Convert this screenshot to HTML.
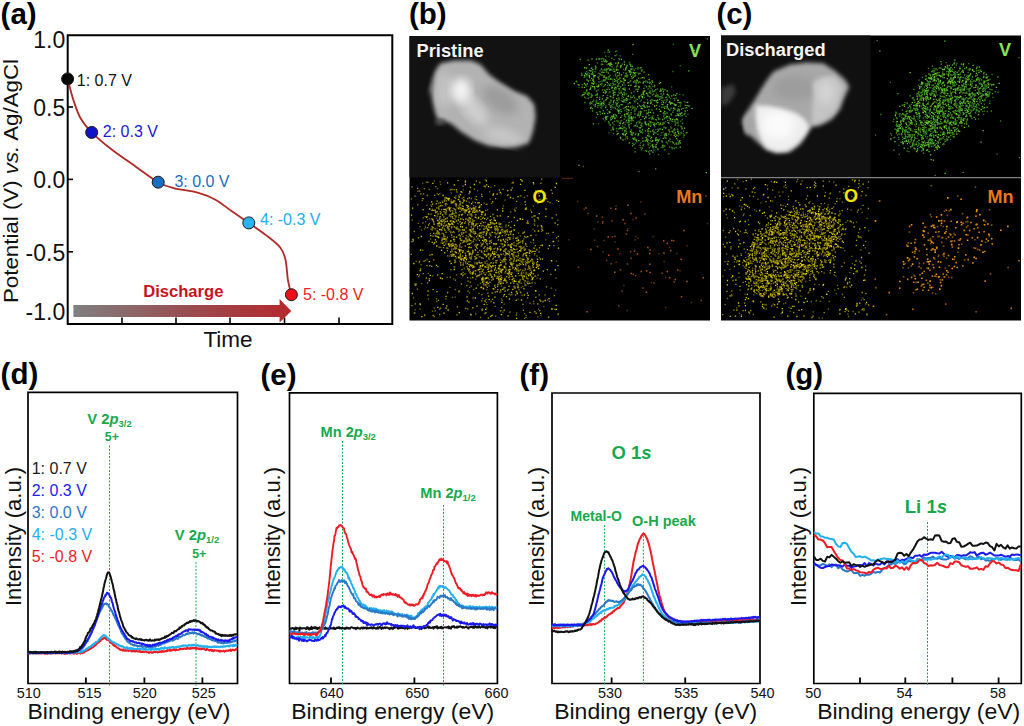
<!DOCTYPE html>
<html><head><meta charset="utf-8"><title>Figure</title>
<style>
html,body{margin:0;padding:0;background:#fff;}
body{width:1024px;height:726px;overflow:hidden;}
svg{display:block;font-family:"Liberation Sans",Arial,sans-serif;}
</style></head>
<body>
<svg width="1024" height="726" viewBox="0 0 1024 726">
<rect width="1024" height="726" fill="#fff"/>
<text x="0.6" y="24.2" font-size="29.5" fill="#000" font-weight="bold" text-anchor="start" >(a)</text>
<text x="409" y="24.1" font-size="29.5" fill="#000" font-weight="bold" text-anchor="start" >(b)</text>
<text x="716.4" y="24.1" font-size="29.5" fill="#000" font-weight="bold" text-anchor="start" >(c)</text>
<text x="0.6" y="384.2" font-size="29.5" fill="#000" font-weight="bold" text-anchor="start" >(d)</text>
<text x="260.5" y="385.4" font-size="29.5" fill="#000" font-weight="bold" text-anchor="start" >(e)</text>
<text x="519.5" y="385" font-size="29.5" fill="#000" font-weight="bold" text-anchor="start" >(f)</text>
<text x="785.4" y="384.2" font-size="29.5" fill="#000" font-weight="bold" text-anchor="start" >(g)</text>
<g stroke="#000" fill="none">
<path d="M67.7 34.5 V324 H392.3 V35.3 H66.7" stroke-width="2"/>
<path d="M68 107 h5" stroke-width="1.6"/>
<path d="M68 179.4 h5" stroke-width="1.6"/>
<path d="M68 251.8 h5" stroke-width="1.6"/>
<path d="M122 323.5 v-6" stroke-width="1.6"/>
<path d="M176 323.5 v-6" stroke-width="1.6"/>
<path d="M230 323.5 v-6" stroke-width="1.6"/>
<path d="M284.5 323.5 v-6" stroke-width="1.6"/>
<path d="M339 323.5 v-6" stroke-width="1.6"/>
</g>
<text x="65.2" y="48.1" font-size="23" fill="#111" font-weight="normal" text-anchor="end" >1.0</text>
<text x="65.2" y="115.5" font-size="23" fill="#111" font-weight="normal" text-anchor="end" >0.5</text>
<text x="65.2" y="188" font-size="23" fill="#111" font-weight="normal" text-anchor="end" >0.0</text>
<text x="65.2" y="260.8" font-size="23" fill="#111" font-weight="normal" text-anchor="end" >-0.5</text>
<text x="65.2" y="320.1" font-size="23" fill="#111" font-weight="normal" text-anchor="end" >-1.0</text>
<text transform="translate(18 181) rotate(-90)" font-size="21" fill="#111" text-anchor="middle" textLength="244" lengthAdjust="spacingAndGlyphs">Potential (V) <tspan font-style="italic">vs.</tspan> Ag/AgCl</text>
<text x="228" y="346.8" font-size="22.5" fill="#111" font-weight="normal" text-anchor="middle" >Time</text>
<defs><linearGradient id="ag" x1="73" x2="291" y1="0" y2="0" gradientUnits="userSpaceOnUse"><stop offset="0" stop-color="#808080"/><stop offset="0.55" stop-color="#9a4a4e"/><stop offset="1" stop-color="#b5282c"/></linearGradient></defs>
<path d="M73.4 305 H279.6 V299 L291.3 311 L279.6 322.6 V317 H73.4 Z" fill="url(#ag)"/>
<text x="143.2" y="296.7" font-size="16.6" fill="#c8121e" font-weight="bold" text-anchor="start" >Discharge</text>
<path d="M67.6 78.9 C68.6 82.6 71.6 94.7 73.8 101.3 C76 107.9 77.7 113.3 80.7 118.5 C83.7 123.7 86.5 127.1 91.7 132.3 C96.9 137.5 104.3 143.8 111.7 149.5 C119.1 155.2 128.1 161.2 135.8 166.7 C143.5 172.1 151.8 178.6 158.1 182.2 C164.4 185.8 167 186.4 173.6 188.1 C180.2 189.8 190.8 190.7 197.7 192.6 C204.6 194.5 209.2 196.3 215 199.5 C220.8 202.7 226.6 207.6 232.2 211.5 C237.8 215.4 243 218.9 248.7 222.9 C254.4 226.9 261.3 231.5 266.6 235.6 C271.9 239.7 277.2 243.7 280.4 247.7 C283.5 251.7 284.2 254.2 285.5 259.7 C286.8 265.1 287 274.5 288 280.4 C289 286.2 290.8 292.4 291.4 294.8" fill="none" stroke="#b02a28" stroke-width="1.8"/>
<circle cx="67.6" cy="78.9" r="6" fill="#050505" stroke="#1a1a1a" stroke-width="1"/>
<circle cx="91.7" cy="132.4" r="6" fill="#1212c8" stroke="#1a1a1a" stroke-width="1"/>
<circle cx="158.2" cy="182.2" r="6" fill="#1a6ec0" stroke="#1a1a1a" stroke-width="1"/>
<circle cx="248.8" cy="222.9" r="6" fill="#2ab4ee" stroke="#1a1a1a" stroke-width="1"/>
<circle cx="291.4" cy="294.7" r="6" fill="#ee1018" stroke="#1a1a1a" stroke-width="1"/>
<text x="76.8" y="86.2" font-size="16" fill="#111" font-weight="normal" text-anchor="start" >1: 0.7 V</text>
<text x="102.8" y="137.2" font-size="16" fill="#1a1ad0" font-weight="normal" text-anchor="start" >2: 0.3 V</text>
<text x="174.4" y="187.4" font-size="16" fill="#1a6ec0" font-weight="normal" text-anchor="start" >3: 0.0 V</text>
<text x="260" y="224.8" font-size="16" fill="#22aef0" font-weight="normal" text-anchor="start" >4: -0.3 V</text>
<text x="303" y="300.3" font-size="16" fill="#ee1c24" font-weight="normal" text-anchor="start" >5: -0.8 V</text>
<rect x="409.5" y="36" width="300.5" height="284.5" fill="#000"/>
<rect x="409.5" y="36" width="150.5" height="141.5" fill="#121212"/>
<defs><filter id="bl" x="-20%" y="-20%" width="140%" height="140%"><feGaussianBlur stdDeviation="2.2"/></filter><filter id="bl2" x="-20%" y="-20%" width="140%" height="140%"><feGaussianBlur stdDeviation="4"/></filter><clipPath id="cpb"><rect x="409.5" y="36" width="150.5" height="141.5"/></clipPath><clipPath id="cpc"><rect x="721" y="35.5" width="149.5" height="142"/></clipPath></defs>
<g clip-path="url(#cpb)">
<path d="M440.7 63.3 L454.4 60.5 L471 60.5 L480.6 64.6 L488.9 74.3 L499.9 82.5 L513.7 90.8 L527.4 96.3 L534.3 104.6 L535.7 117 L532.9 132.1 L528.8 143.2 L516.4 145.9 L502.6 147.3 L488.9 145.9 L475.1 140.4 L461.3 132.1 L451.7 123.9 L444.8 121.1 L437.9 119.7 L435.2 112.9 L432.4 100.5 L431 89.4 L433.8 75.7 L436.5 68.8Z" fill="#b2b2b2" filter="url(#bl)"/>
<ellipse cx="500" cy="100" rx="20" ry="11" fill="#9c9c9c" filter="url(#bl2)" transform="rotate(35 500 100)"/>
<ellipse cx="444" cy="90" rx="7" ry="18" fill="#c4c4c4" filter="url(#bl2)"/>
<ellipse cx="472" cy="108" rx="9" ry="22" fill="#cfcfcf" filter="url(#bl2)" transform="rotate(-40 472 108)"/>
<ellipse cx="461" cy="90" rx="10" ry="12" fill="#f2f2f2" filter="url(#bl2)"/>
<ellipse cx="503" cy="136" rx="20" ry="8" fill="#c6c6c6" filter="url(#bl2)" transform="rotate(15 503 136)"/>
<path d="M436 70 L430 90 L428 96 L433 88 Z" fill="#8a8a8a" filter="url(#bl)"/>
<ellipse cx="440" cy="122" rx="5" ry="3" fill="#555" filter="url(#bl)"/>
</g>
<text x="416.5" y="57.4" font-size="18.3" fill="#f4f4f4" font-weight="bold" text-anchor="start" >Pristine</text>
<path d="M620.8 111.6h1.3M664 146h1.3M591.2 67.8h1.3M612.6 95.9h1.3M618.2 75.5h1.3M598.1 85h1.3M637 103.5h1.3M630.6 129.9h1.3M624 116h1.3M631.1 69.3h1.3M621.7 88.9h1.3M634.6 117.5h1.3M630 66.4h1.3M599.6 74.1h1.3M649.1 136.4h1.3M620.9 92.8h1.3M641.3 69.8h1.3M656.1 140.5h1.3M640.7 94.8h1.3M666.6 94.5h1.3M622.2 128.9h1.3M607.1 113.3h1.3M590 71h1.3M625.5 136.8h1.3M591.8 111h1.3M632 118.2h1.3M674.4 122h1.3M630.6 132.6h1.3M623 134.9h1.3M630 85.4h1.3M598.3 79h1.3M613 101.2h1.3M686 107.6h1.3M614.8 75h1.3M675.6 104.8h1.3M604.6 93h1.3M601.9 89.8h1.3M677.2 123h1.3M677.9 132.1h1.3M610.9 79.2h1.3M605.7 70.2h1.3M641.2 123.3h1.3M609.3 91.9h1.3M617.5 84.8h1.3M642.4 145.6h1.3M652.1 144.6h1.3M648.2 125.7h1.3M652.2 147h1.3M607.1 116.4h1.3M605.6 69.1h1.3M598.6 58.4h1.3M620.1 138.6h1.3M645.3 116.3h1.3M587.7 81h1.3M672.2 132.2h1.3M663.4 123.4h1.3M617.6 110.3h1.3M629.9 80.9h1.3M640 106.3h1.3M607.9 68.4h1.3M668.2 134.1h1.3M661.7 142.1h1.3M647.5 139.8h1.3M590.7 68.3h1.3M634.5 151.9h1.3M605.6 78.3h1.3M664.1 149.9h1.3M634.2 107.3h1.3M618.4 58.6h1.3M684.6 111.3h1.3M614.8 108.5h1.3M629.1 118.2h1.3M666 97.2h1.3M590.1 102.1h1.3M611.1 58.3h1.3M618.7 125.3h1.3M620.3 65.4h1.3M668.8 117.5h1.3M628.5 124.4h1.3M654 85.5h1.3M613.4 124.8h1.3M647.3 130.7h1.3M607.3 68.9h1.3M634.4 110.9h1.3M598.4 82.2h1.3M686.3 132.7h1.3M638.3 112h1.3M667.1 120.3h1.3M638.9 122.7h1.3M661.4 104.4h1.3M608.6 77h1.3M579.6 59.4h1.3M590.3 85.8h1.3M602.7 118.8h1.3M596.1 103.1h1.3M652.9 118.8h1.3M646.2 124.4h1.3M652 82.4h1.3M634.2 138h1.3M614 118.5h1.3M649.4 82.2h1.3M684.3 113.3h1.3M637.9 86.7h1.3M605.5 116.3h1.3M667.5 108.6h1.3M632.1 108.2h1.3M625.9 120.5h1.3M668.2 153.8h1.3M638.2 86.3h1.3M706.6 38.9h1.3M647.5 142.9h1.3M613.4 71.5h1.3M617.2 95.5h1.3M649.8 122.9h1.3M596.6 103.4h1.3M613.8 81.4h1.3M619.9 67.7h1.3M635.6 139.8h1.3M652.9 94.1h1.3M668.9 147.2h1.3M581.1 75.3h1.3M631.4 78.3h1.3M669.9 119.3h1.3M627.1 75.1h1.3M597.8 103.6h1.3M655.8 101.1h1.3M634.9 134.6h1.3M634 110.9h1.3M655 168.8h1.3M595.8 100.2h1.3M615.1 51.7h1.3M613.4 100.4h1.3M642.6 91.5h1.3M603.4 70.2h1.3M650.6 141.7h1.3M609.4 96.1h1.3M630.2 97.6h1.3M673.8 129h1.3M648.2 124.8h1.3M650.3 122.4h1.3M669 131.8h1.3M599.5 104.1h1.3M588.3 92.8h1.3M643.7 78.2h1.3M620.4 92.1h1.3M617.9 128.7h1.3M630.7 120.5h1.3M628.6 121.8h1.3M638.4 171.7h1.3M634 97.8h1.3M625.6 128.8h1.3M605.3 77.5h1.3M639.3 73.3h1.3M635.2 72.6h1.3M630.6 134.5h1.3M674 100.1h1.3M587.5 98.4h1.3M586.1 90h1.3M594.9 95.2h1.3M658.4 124.8h1.3M673.5 98.4h1.3M653.5 133.2h1.3M611.2 79.2h1.3M612.3 129h1.3M674.4 119.7h1.3M597.4 105.6h1.3M632.8 82h1.3M617.5 133.3h1.3M650.1 138.7h1.3M594.4 71.9h1.3M614 88.5h1.3M631.4 134.1h1.3M670.5 128.2h1.3M616.3 100.7h1.3M586.7 80.1h1.3M635.4 83.8h1.3M679 102.6h1.3M678.5 111h1.3M590.8 103.3h1.3M625.4 94h1.3M618.3 98h1.3M666 117.9h1.3M633 96h1.3M650.4 88.1h1.3M584.8 93h1.3M670.5 108.2h1.3M642.4 94.4h1.3M614.4 94.6h1.3M613.9 121.3h1.3M626.8 138.5h1.3M618.7 72.8h1.3M601.2 61.6h1.3M641.1 71h1.3M671.3 147.5h1.3M652 140.7h1.3M658.8 83.5h1.3M591.9 108.7h1.3M577.6 84.6h1.3M663.4 115.1h1.3M654 91h1.3M668.6 97h1.3M664.7 113.9h1.3M647.3 95.5h1.3M601.6 71.1h1.3M675.5 147.5h1.3M634.8 125.5h1.3M606.2 69.6h1.3M677.7 100.3h1.3M685.6 132.8h1.3M585.8 91.1h1.3M616.4 134.7h1.3M671.7 141.9h1.3M624.1 79.7h1.3M638.9 127.6h1.3M605.6 61.8h1.3M625 76.1h1.3M670.1 114.2h1.3M639.8 115h1.3M651.9 118.2h1.3M648.1 135.8h1.3M624.7 99.9h1.3M638.4 97.5h1.3M608.8 52h1.3M652.4 91.6h1.3M609.2 69.5h1.3M681 109.2h1.3M637 106.6h1.3M599.7 111.8h1.3M621.6 128.7h1.3M640.4 106.5h1.3M635.4 89.5h1.3M637.9 78.1h1.3M627 113.4h1.3M624.7 90h1.3M635.8 122.9h1.3M642.9 141.2h1.3M623.5 92.4h1.3M639 130.8h1.3M634.5 75.5h1.3M616.2 120.8h1.3M631.5 135h1.3M653.4 131.9h1.3M657.2 134.3h1.3M628.7 89h1.3M657.3 149h1.3M627.3 122.5h1.3M663.5 127.1h1.3M584.2 102.5h1.3M619.1 93.2h1.3M640 127.7h1.3M655.3 132.8h1.3M679.6 106.2h1.3M649 154h1.3M602.8 103.4h1.3M649.2 96.7h1.3M632 145.8h1.3M649.5 92h1.3M611.8 118.3h1.3M622.9 133.8h1.3M634.1 107.7h1.3M643.1 104.9h1.3M584.2 76.9h1.3M648.6 118.3h1.3M638.8 105.5h1.3M603.2 59.1h1.3M629.1 102.6h1.3M657.1 115.4h1.3M644.9 130.8h1.3M642 141.2h1.3M623.7 80.5h1.3M682 123.4h1.3M619.4 127.9h1.3M640.8 149.9h1.3M620.1 127.6h1.3M618.4 128.7h1.3M630.7 72.2h1.3M673.4 107.9h1.3M594.2 88.5h1.3M591.6 95.5h1.3M647.5 88.9h1.3M628 120.3h1.3M606 71.9h1.3M612.8 102.5h1.3M592.8 84.1h1.3M625.6 76.1h1.3M608.7 89.4h1.3M604 90.2h1.3M676.3 144.2h1.3M602 64.4h1.3M623.6 89.9h1.3M636.7 99.3h1.3M639.4 145.3h1.3M641 125.5h1.3M650.8 84.1h1.3M614.5 55.6h1.3M627 99.2h1.3M636.1 141.6h1.3M680.2 102.5h1.3M590.6 94.1h1.3M664.2 134h1.3M658.8 109.3h1.3M583.9 97.2h1.3M606.6 109.7h1.3M611.5 116.7h1.3M611.4 66.9h1.3M637.8 82.9h1.3M608.6 111.5h1.3M666.7 113.2h1.3M591 78.4h1.3M632.5 72.3h1.3M680.5 126.6h1.3M618.9 73.9h1.3M632.6 107.1h1.3M664.3 106.6h1.3M674.8 132.3h1.3M603.6 85.9h1.3M630.2 73h1.3M668.3 123.3h1.3M668.7 102.4h1.3M657.2 95.1h1.3M675.6 143.2h1.3M648.7 106.7h1.3M604.1 69.4h1.3M632.1 143.4h1.3M630.8 132.4h1.3M621.2 128.3h1.3M621.6 96.2h1.3M628.6 120.2h1.3M632.8 133h1.3M648.2 115.3h1.3M605.1 56.1h1.3M602.7 79.8h1.3M642.1 105.6h1.3M661.4 100.6h1.3M603.1 60.9h1.3M591.9 71.9h1.3M646.4 105.8h1.3M613.8 88.6h1.3M641.4 96.3h1.3M634.3 73.1h1.3M652.3 122.6h1.3M629.2 64.2h1.3M600.9 104.3h1.3M662.2 97.9h1.3M594.6 69.2h1.3M676.7 119.5h1.3M593 100.2h1.3M651.2 109.9h1.3M625.7 108.9h1.3M615.9 70h1.3M616.3 76.8h1.3M646 113.8h1.3M663.7 118.5h1.3M644.7 141h1.3M634.1 139.2h1.3M666.4 99.8h1.3M625.7 100.1h1.3M647.1 82.6h1.3M631.4 120.7h1.3M618 79.4h1.3M650.1 100.5h1.3M618.4 99.7h1.3M677.5 102.3h1.3M623.6 119.1h1.3M590.6 97h1.3M609.9 78.6h1.3M627.4 103.9h1.3M648 151.9h1.3M680.2 121.2h1.3M652.9 113h1.3M623.7 62h1.3M618.8 110.6h1.3M668.8 117h1.3M654 106.3h1.3M682.9 131.2h1.3M593.8 82.8h1.3M675.5 143.9h1.3M673.3 130.6h1.3M651.2 119.1h1.3M596.2 112.5h1.3M651.6 90.2h1.3M672.2 112.2h1.3M590.5 107.4h1.3M657.7 122.6h1.3M640.4 119.7h1.3M623.8 61.8h1.3M667.9 109.3h1.3M609.4 75.3h1.3M661.1 96.8h1.3M630 69.1h1.3M628.3 126h1.3M609.3 85.2h1.3M618.7 106h1.3M678.1 109.2h1.3M645.6 110.7h1.3M620 66.8h1.3M648.3 128.3h1.3M625.9 113.6h1.3M632.8 116.9h1.3M616.7 100.4h1.3M615.7 66.8h1.3M625.1 117.2h1.3M672.1 121.3h1.3M603.2 101.2h1.3M609.7 65.8h1.3M655.6 137.7h1.3M627.7 118.2h1.3M616.2 131.1h1.3M667.9 95.4h1.3M685.4 116.4h1.3M656.4 102.6h1.3M615.7 115.5h1.3M630.9 76.6h1.3M684.7 105.4h1.3M626.5 109.4h1.3M614.7 114.8h1.3M609.5 79.3h1.3M595.9 86.3h1.3M586.4 90.6h1.3M651.6 80.8h1.3M648.6 147.8h1.3M622.6 88.3h1.3M645.8 124.8h1.3M610.2 100.4h1.3M679.7 143h1.3M643.2 88.3h1.3M622.9 78.9h1.3M620.4 104.6h1.3M631.6 97.4h1.3M628.3 124.3h1.3M608.3 104.4h1.3M599.9 84.3h1.3M657.2 95.5h1.3M646.9 99.9h1.3M676.8 129.1h1.3M600.5 75.2h1.3M646.8 93.9h1.3M660.4 98.4h1.3M650 131.5h1.3M655.9 105.3h1.3M661.5 124.7h1.3M666.5 99.5h1.3M630.8 93h1.3M682.5 108.4h1.3M628.9 116.9h1.3M615.2 102.8h1.3M651.3 99.4h1.3M622 133.9h1.3M602.7 110.6h1.3M619.8 81.8h1.3M632.5 132.6h1.3M635.7 82.3h1.3M663 94h1.3M681.5 115.6h1.3M616.8 82.3h1.3M654.9 139h1.3M647.9 144.9h1.3M635.6 109h1.3M662.5 107.2h1.3" stroke="#44a01e" stroke-width="1.3" stroke-opacity="1" fill="none"/>
<path d="M643.4 102.5h1.3M640.7 108.4h1.3M660.2 111.4h1.3M578.4 85.2h1.3M628 116.3h1.3M610.1 107.3h1.3M619.6 123.7h1.3M626.5 76.2h1.3M660.2 90.9h1.3M644.6 121.8h1.3M634.2 101.9h1.3M666.4 106.1h1.3M638.1 73.9h1.3M659.7 124.1h1.3M630.1 107.1h1.3M592.5 79.2h1.3M629.7 71.2h1.3M616.4 80.9h1.3M610.4 64.5h1.3M638.1 140.7h1.3M617.6 110.7h1.3M622.7 78.7h1.3M688.1 70.8h1.3M604 113.5h1.3M665.3 134.5h1.3M630.7 120.3h1.3M631.4 118.6h1.3M601.7 98.9h1.3M662.8 91.5h1.3M683.9 128.1h1.3M614.4 87.2h1.3M603.6 104.1h1.3M597.4 77.4h1.3M676.7 110.9h1.3M586.7 83.9h1.3M621.9 101.3h1.3M593.4 76.9h1.3M657 100.2h1.3M633.6 70.1h1.3M610.5 119.6h1.3M583.4 94.5h1.3M583.9 67.6h1.3M588.7 75.5h1.3M675.9 119h1.3M641.8 132.7h1.3M675.3 115.7h1.3M659.5 128.9h1.3M643 92.2h1.3M616.9 72.7h1.3M672 119.4h1.3M645 123.9h1.3M609.2 70.2h1.3M609.1 85.3h1.3M639.8 113.7h1.3M595.7 59.1h1.3M611.7 87.5h1.3M612.5 117.1h1.3M627.9 120.6h1.3M681.3 128.9h1.3M609 112.7h1.3M657.6 141h1.3M602.5 95.6h1.3M650.6 102.1h1.3M642.6 92.8h1.3M585.6 74.4h1.3M614.3 92.3h1.3M588.8 70.4h1.3M632.9 139.1h1.3M587.4 60.2h1.3M593.6 86.6h1.3M643.4 72.1h1.3M651.6 117.2h1.3M637.9 133.9h1.3M647.5 131.5h1.3M623.1 122.7h1.3M624.4 130.5h1.3M603.1 80.7h1.3M655.8 123.8h1.3M625.4 73.4h1.3M605.2 117h1.3M649.9 126.2h1.3M583.9 87.3h1.3M623.6 94.8h1.3M637.6 114.2h1.3M628 85.4h1.3M669.9 104h1.3M626.6 114h1.3M648.5 86.7h1.3M598.9 97.3h1.3M673.5 135.6h1.3M645.9 140.1h1.3M655.7 147.1h1.3M655.5 95.2h1.3M619.7 86.9h1.3M648 74.7h1.3M655.2 89.7h1.3M598 86.4h1.3M625.9 67h1.3M587.8 93.2h1.3M618.8 88.9h1.3M665.1 128h1.3M612.6 129.5h1.3M613 116.3h1.3M679.3 113.3h1.3M605 107.7h1.3M615.2 63.1h1.3M654.5 146.8h1.3M674.7 104.8h1.3M615.4 87.9h1.3M610.1 96.6h1.3M584.9 73.3h1.3M595.8 91.2h1.3M641.8 108.6h1.3M675 136.6h1.3M669.4 139.1h1.3M666.8 116.5h1.3M678.6 109.8h1.3M678.4 115.6h1.3M588.7 64.7h1.3M647 103.3h1.3M583.9 75.5h1.3M637.3 89.4h1.3M693.9 50.3h1.3M657.1 131.3h1.3M652.3 152.1h1.3M674.9 104.9h1.3M622.1 123.6h1.3M588.3 93.7h1.3M617.2 86.1h1.3M654.8 96.3h1.3M609.2 102.8h1.3M677.5 114.4h1.3M611.2 64.4h1.3M621.9 134.2h1.3M589.6 103.8h1.3M633.7 73.5h1.3M647 106.9h1.3M649.5 121.8h1.3M636.2 80.2h1.3M620.8 59.3h1.3M594.7 104.3h1.3M604.6 79.9h1.3M613.2 84.7h1.3M645.8 93.4h1.3M578.3 165.3h1.3M650.9 137.3h1.3M614.1 71.4h1.3M609 65.2h1.3M628.8 72h1.3M659.7 111.3h1.3M582 95h1.3M638.6 87.1h1.3M584.3 67.8h1.3M705.7 172.7h1.3M679.7 147.2h1.3M648.6 79.7h1.3M575.7 81.3h1.3M632.6 77.3h1.3M635.3 86h1.3M624 114.3h1.3M655.8 108.9h1.3M628.6 142.8h1.3M662.1 119.7h1.3M665.3 133.7h1.3M654.3 124.2h1.3M613 114.9h1.3M593.9 87.2h1.3M623.2 82.8h1.3M659.3 96.7h1.3M592.1 74.3h1.3M592.6 83.5h1.3M630.1 64.8h1.3M637.7 135h1.3M659 99.3h1.3M588.7 76.3h1.3M603.2 72.4h1.3M607.7 73.1h1.3M616.5 103.5h1.3M668.3 130h1.3M658.3 139.8h1.3M605 91.4h1.3M612.9 92.9h1.3M677.8 125.7h1.3M634.6 125.7h1.3M596.7 93.9h1.3M646.3 139h1.3M676.2 135.4h1.3M672 103.2h1.3M662.6 138.4h1.3M623.2 89.3h1.3M648 128.7h1.3M625.7 98.4h1.3M662 145.4h1.3M632.4 138.4h1.3M620 117.3h1.3M592.8 123.8h1.3M621.9 94.3h1.3M688.3 106h1.3M611.3 116.2h1.3M627.8 106.7h1.3M644.3 122.8h1.3M624.1 131.2h1.3M592.1 101.6h1.3M652 130.8h1.3M665.2 138h1.3M624.9 134.5h1.3M640.4 112.3h1.3M605.5 92h1.3M660.4 90.6h1.3M658.1 119h1.3M649.7 112.4h1.3M586.8 94.4h1.3M676.7 113.6h1.3M609.5 125h1.3M673.6 104.2h1.3M599 99.3h1.3M612.5 97.7h1.3M584.6 84.7h1.3M651.6 145.4h1.3M610.2 63h1.3M607.8 64h1.3M593.1 81.4h1.3M615.8 104.9h1.3M666.1 116.5h1.3M646.9 135.7h1.3M662.7 113.2h1.3M622.4 139.8h1.3M592 73.2h1.3M646.7 141.4h1.3M600.7 103.1h1.3M594.8 75.7h1.3M617.2 133.7h1.3M604.9 118.1h1.3M678 133.7h1.3M652.8 134.3h1.3M683.8 114.6h1.3M641.9 97.5h1.3M606.3 97.8h1.3M612.4 90.6h1.3M655.3 100.6h1.3M588.8 77.5h1.3M591.3 58.8h1.3M633 72.6h1.3M586 68.2h1.3M585.8 74.7h1.3M625.1 69.5h1.3M594.9 106.1h1.3M589.4 89.3h1.3M636.7 80.9h1.3M640.2 111.3h1.3M671.5 131.4h1.3M687 102.4h1.3M606.1 117.8h1.3M628.2 110.5h1.3M624.6 107.4h1.3M652.8 124.3h1.3M644.1 91h1.3M630 131.6h1.3M624.6 135.2h1.3M619.8 128.3h1.3M648.2 109.9h1.3M594.9 66.2h1.3M643.8 91.4h1.3M676.1 138.7h1.3M686.4 105.7h1.3M581.5 87.2h1.3M635.7 140.4h1.3M659.6 123.2h1.3M591.9 86.5h1.3M674.4 134h1.3M641.5 148.1h1.3M597.1 114.3h1.3M642.6 83h1.3M606.7 82.3h1.3M679.7 114.2h1.3M627.8 109.9h1.3M605.6 99.7h1.3M671 103h1.3M643.7 106.3h1.3M609.4 112.2h1.3M645.4 137.3h1.3M630.6 118.3h1.3M610.1 117.8h1.3M609.7 69.5h1.3M674.9 95.3h1.3M677.1 131.5h1.3M659.9 111.1h1.3M612.1 122.9h1.3M669.8 102.8h1.3M604.2 61.7h1.3M607.2 98.2h1.3M674.3 109.2h1.3M672.8 108.4h1.3M654 105.9h1.3M618.4 83.3h1.3M623.8 64.5h1.3M606.3 78.2h1.3M657.9 129.8h1.3M661.7 129.5h1.3M591.2 83h1.3M613.2 69.1h1.3M617.6 62.5h1.3M638.5 81.8h1.3M591 96.1h1.3M669.1 101.4h1.3M623.9 127.4h1.3M651.9 140.9h1.3M662.2 147.2h1.3M605 60.2h1.3M654.9 140.5h1.3M631.6 66.4h1.3M656.4 142.9h1.3M647.9 123.8h1.3M661.2 140.8h1.3M620.8 74.8h1.3M600.8 69.2h1.3M666.4 91h1.3M657 102.7h1.3M673.1 94.8h1.3M597.6 85.8h1.3M626.3 100.2h1.3M600.8 104.4h1.3M620.5 66h1.3M680.4 133h1.3M645.9 151.2h1.3M617.8 111.4h1.3M683.5 135.1h1.3M674.5 105.5h1.3M621.3 104.7h1.3M630.5 112.9h1.3M652.6 146.5h1.3M602.8 92.3h1.3M641.7 77.7h1.3M629.5 102.8h1.3M614.9 80.5h1.3M662.2 104.7h1.3M645.9 86.8h1.3M637 91.4h1.3M647.2 102.5h1.3M644 118.7h1.3M669.9 118.7h1.3M679.2 140.6h1.3M625.9 106.6h1.3M643.3 81.7h1.3M613.7 79.3h1.3M664 135.9h1.3M598.1 103.1h1.3M609.3 63.5h1.3M603.5 76h1.3M650.6 150.7h1.3M637.1 115.5h1.3M648.1 112.1h1.3M641.8 129.8h1.3M669.2 110.2h1.3M591.1 74.2h1.3M653.7 125.5h1.3M621.2 81.3h1.3M617.3 69.9h1.3M666.9 94.3h1.3M644.4 107.3h1.3M612.5 93.1h1.3M640.3 132.2h1.3M597.2 86.8h1.3M662 89.2h1.3M606.4 89.4h1.3M573.7 83.5h1.3M606.2 61.5h1.3M678.1 143.8h1.3M617.8 63.1h1.3M583.7 83.4h1.3M667.6 122.6h1.3M601.4 72.7h1.3M650.1 103.3h1.3M622 85h1.3M607.6 50.2h1.3M625.7 133.3h1.3M627.9 82.7h1.3M659.9 82.7h1.3M632.4 44.6h1.3M645.3 117.4h1.3M676.5 119.7h1.3M629.7 131.5h1.3M626.5 65.3h1.3M634.4 80.9h1.3M592.2 80.3h1.3M663.2 113.2h1.3M595.1 67.8h1.3M614.5 118.2h1.3M619.2 78.2h1.3M677.4 115.3h1.3M643.2 106h1.3M659.7 91.2h1.3M601.9 113.5h1.3M590 108.3h1.3M603.3 77.4h1.3M596.3 94.8h1.3M616 98.7h1.3M596.5 97.3h1.3M664 108.3h1.3M611 87.8h1.3M653.5 100.6h1.3M628.7 127.8h1.3M678.6 141.9h1.3M619.8 137.3h1.3M613.1 94.9h1.3M629.8 74.6h1.3M607.9 121.9h1.3M676.2 93.6h1.3M604.6 84.7h1.3M642.6 94.1h1.3M612.2 127.2h1.3M592.1 69.7h1.3M655.5 144.6h1.3M662.9 102.6h1.3M691.4 108.3h1.3M634.3 113.8h1.3M668.1 140.8h1.3M628.3 70.6h1.3M610.4 105.9h1.3M642.3 116.7h1.3M602.3 102.9h1.3M681.1 113h1.3M605.5 119.6h1.3M593.8 75.7h1.3M666.9 104.6h1.3M625.1 68.1h1.3M672.7 142.8h1.3M636.6 126.1h1.3M647.2 113.4h1.3M648.7 86.2h1.3M600.6 58.9h1.3M625.7 75.4h1.3M639.4 131.1h1.3M630.7 117h1.3M640.3 67.6h1.3M641.7 96.7h1.3M677.1 100.3h1.3M624.7 80.3h1.3M623.2 101.8h1.3M638.5 96.5h1.3M664.1 111.5h1.3M666.7 107.2h1.3M671.2 95.9h1.3M593.1 75.9h1.3M634.2 86.7h1.3M665.9 135.5h1.3M623.4 100h1.3M615.7 69.9h1.3M655.3 119.6h1.3M619.5 122.8h1.3M618 113.1h1.3M590 88h1.3M634.2 76.2h1.3M649.2 83h1.3M656.6 139.4h1.3M627.8 96h1.3M660 89.2h1.3M648.6 92.6h1.3" stroke="#62c42c" stroke-width="1.3" stroke-opacity="1" fill="none"/>
<path d="M617.7 102.1h1.3M671 86.8h1.3M600.6 64.8h1.3M652 81.3h1.3M633 120.7h1.3M638.5 98.6h1.3M614.9 75.9h1.3M664.6 97.6h1.3M632 78.5h1.3M638.3 127.5h1.3M674.6 129.6h1.3M589.6 80.3h1.3M617.2 66.4h1.3M609.7 120.1h1.3M604.6 69.9h1.3M619.5 109.4h1.3M634.2 82h1.3M615.8 78.2h1.3M602.1 58.3h1.3M673.3 147.9h1.3M612.6 83.4h1.3M646.6 106.8h1.3M616 54.9h1.3M600.6 64.2h1.3M637.1 69h1.3M664.8 121.7h1.3M620.7 100.6h1.3M631 68.5h1.3M666.1 112.8h1.3M653.9 123.1h1.3M674.6 125.4h1.3M605.1 91.1h1.3M622.9 69.4h1.3M599.8 114.4h1.3M619.1 78h1.3M633.4 76h1.3M659.2 91.3h1.3M649.4 86.7h1.3M629.4 81.6h1.3M664.1 100.1h1.3M683.6 101.5h1.3M643.7 97.7h1.3M662.7 124.2h1.3M643.4 95h1.3M655.7 93.2h1.3M626.7 136.9h1.3M603.6 81.2h1.3M656.8 96.8h1.3M620.1 121.1h1.3M674.2 121h1.3M589.4 97.4h1.3M660.9 93.8h1.3M663.2 146.5h1.3M652.5 91.1h1.3M634.9 139.9h1.3M652.3 86.3h1.3M639.5 68.6h1.3M638 67.9h1.3M635 82.5h1.3M642 132.5h1.3M589 73.6h1.3M634.4 148.3h1.3M602.5 105.3h1.3M626.7 96.3h1.3M639.8 131.3h1.3M680.1 126.2h1.3M633.4 126.1h1.3M640.3 95.8h1.3M595.3 102h1.3M634.8 75h1.3M612 83.1h1.3M623.8 88.2h1.3M615.1 80.5h1.3M637.4 121.9h1.3M677.6 136h1.3M616.9 110.2h1.3M647.8 133.6h1.3M596.2 91.5h1.3M657.1 129.2h1.3M665.5 142h1.3M670.9 115.3h1.3M583.8 92.4h1.3M632 75.2h1.3M676.2 122.8h1.3M647.8 136.6h1.3M616.6 86.2h1.3M616.3 109.1h1.3M601.7 75.4h1.3M586.5 73.9h1.3M653.4 150.5h1.3M596.3 101.2h1.3M622.9 72.6h1.3M580.9 73.4h1.3M626.1 77.1h1.3M600.2 104.8h1.3M611.1 69.5h1.3M657.5 149.5h1.3M616 128.5h1.3M586 79.5h1.3M613.5 59.6h1.3M677 113.6h1.3M595.3 67.5h1.3M666 108.2h1.3M639.7 82.4h1.3M633.7 144.7h1.3M612.5 107.7h1.3M631.1 119.8h1.3M644.7 150.5h1.3M650.7 122.5h1.3M614.3 84.3h1.3M672.3 71.5h1.3M661.8 123h1.3M599.5 70.9h1.3M587.9 93.9h1.3M605.5 70.8h1.3M596.7 63h1.3M619.5 113.2h1.3M655.3 96.7h1.3M607.2 85.4h1.3M663.4 127.9h1.3M625.3 122.1h1.3M624.2 110.4h1.3M647.6 96h1.3M636 124.1h1.3M600.2 107.5h1.3M621.9 130.2h1.3M638.4 121.1h1.3M659.2 128.8h1.3M681.6 128.3h1.3M640.3 78.4h1.3M629.1 116.3h1.3M658.6 124.4h1.3M640.8 124.3h1.3M674 144.1h1.3M601.1 85.2h1.3M596.1 103.2h1.3M652.2 100.6h1.3M619.6 55.8h1.3M621.3 98.3h1.3M605.4 79h1.3M624.3 127.8h1.3M616.9 81.4h1.3M598.7 59.3h1.3M590.9 96.2h1.3M604.1 80.1h1.3M665.8 101.5h1.3M631.5 106h1.3M608.7 102.5h1.3M662.2 132.5h1.3M630.2 123.6h1.3M624.4 124.6h1.3M583.4 92.7h1.3M632 54.4h1.3M608.2 56.9h1.3M655.3 129.6h1.3M581.3 74.3h1.3M658.7 139.3h1.3M639.5 128.7h1.3M680.1 116h1.3M610.2 109.4h1.3M640.1 125.2h1.3M618.1 86.2h1.3M639.8 147.6h1.3M578.3 87.3h1.3M607.7 87.8h1.3M647.1 130h1.3M650 93.7h1.3M620.3 109.3h1.3M590.8 70.6h1.3M611.3 85.8h1.3M687.3 114.4h1.3M585 85.4h1.3M663.5 89.7h1.3M586 71.6h1.3M646.6 81.3h1.3M663.1 122.3h1.3M677.2 140.1h1.3M616.2 68.2h1.3M626.2 131.9h1.3M681.5 128h1.3M593.1 105.1h1.3M662.9 116.6h1.3M643.7 110.5h1.3M617.8 128.6h1.3M601.3 105.9h1.3M621.9 126h1.3M656.8 122.4h1.3M640 143h1.3M622.5 139.7h1.3M597.7 73.1h1.3M603 102.1h1.3M649.5 140.7h1.3M650.2 125h1.3M625.8 111.3h1.3M608.4 122.6h1.3M594.3 106.7h1.3M622.8 97.3h1.3M602.9 59.2h1.3M635.2 133.4h1.3M620.9 120.5h1.3M609 69.6h1.3M582.7 166.5h1.3M677.6 121.2h1.3M672.8 44.3h1.3M583.5 77.3h1.3M605.2 106h1.3M643.1 106h1.3M620.6 90.9h1.3M662.6 101.4h1.3M657 95.7h1.3M675.8 98.2h1.3M657.4 117.5h1.3M633.5 91.6h1.3M608.5 92.8h1.3M662.8 145.4h1.3M672.8 129.9h1.3M645.8 113h1.3M614.8 117.8h1.3M617.1 79.2h1.3M602.9 86.7h1.3M651.5 81.1h1.3M656.9 89h1.3M609.4 105.6h1.3M618 92.1h1.3M610.2 101.8h1.3M616.9 75.7h1.3M598.9 73.7h1.3M630.6 85.2h1.3M661 107.5h1.3M635.3 100.9h1.3M668.7 117.9h1.3M652 104.4h1.3M641.3 126.6h1.3M663.6 137.7h1.3M628 124.7h1.3M659.3 118.9h1.3M633.8 111.2h1.3M623.2 108.4h1.3M608.4 123.5h1.3M671.1 120.8h1.3M595.7 117.5h1.3M600.6 64.4h1.3M650.4 91.8h1.3M605.2 106.7h1.3M614.2 89.8h1.3M638.5 117.1h1.3M673.4 133.1h1.3M642.1 138h1.3M592.9 77.8h1.3M654 86.8h1.3M617.6 94.5h1.3M587.3 75.2h1.3M638.3 115.4h1.3M616.1 50.9h1.3M596.9 107.5h1.3M669.3 120.7h1.3M652.6 148.8h1.3M679.6 65.6h1.3M645.1 80.8h1.3M599.1 111.7h1.3M684.7 108h1.3M601.3 83.5h1.3M610.1 100.5h1.3M650.3 117.7h1.3M616.2 105.1h1.3M663.6 100.2h1.3M661.6 95.5h1.3M664.5 117.7h1.3M602.6 105.6h1.3M634.7 143.1h1.3M674.1 98.4h1.3M617.5 120.9h1.3M621 115.8h1.3M624.7 139.2h1.3M677.9 125.3h1.3M639.6 122.1h1.3M600.9 83.6h1.3M628.9 62.4h1.3M637.3 67.3h1.3M607.7 79.3h1.3M617.4 122h1.3M670.6 114h1.3M589.1 103h1.3M640.9 100.2h1.3M682.6 94.8h1.3M628.2 114.9h1.3M624.6 88.2h1.3M619.8 80.6h1.3M644.5 85.6h1.3M625.6 131.1h1.3M660.7 132.8h1.3M624.3 85.2h1.3M624.5 70.4h1.3M676.4 122.4h1.3M617 64.2h1.3M597.6 59.2h1.3M618 107.3h1.3M581.1 95.9h1.3M629.4 99.3h1.3M660.5 147.5h1.3M625.2 102.2h1.3M616.6 106.4h1.3M682.6 133.3h1.3M669.7 141.8h1.3M637.4 72.9h1.3M644.8 102.6h1.3M604.8 100.2h1.3M637.4 135.1h1.3M681 126.8h1.3M618.6 90h1.3M615.5 89h1.3M625.8 75.1h1.3M640.7 131.6h1.3M585.4 84.5h1.3M621.6 64h1.3M588 95.3h1.3M618.8 59.7h1.3M663.1 113.1h1.3M585.1 98h1.3M633.5 100.9h1.3M630.4 120.5h1.3M604.3 70h1.3M643.1 77.4h1.3M630 96.2h1.3M606.9 95.3h1.3M648.3 131.3h1.3M658.3 97h1.3M643 81.5h1.3M591.4 103.8h1.3M606.4 64.6h1.3M604.3 120.9h1.3M605.7 68.9h1.3M659.9 93.8h1.3M680 103.1h1.3M623.8 131.8h1.3M663.1 146.1h1.3M685.5 102.3h1.3M655.8 120.2h1.3M649.4 143.7h1.3M623.4 77.9h1.3M612.9 91.4h1.3M610.4 130.1h1.3M607.6 83.9h1.3M599.1 97.6h1.3M645.1 82.1h1.3M601.6 80.9h1.3M638.5 123.2h1.3M586.5 93.1h1.3M639.9 101.2h1.3M612.2 80.8h1.3M664.6 89.7h1.3M632.5 68.2h1.3M666.9 143.9h1.3M617.7 88.7h1.3M603.9 52.4h1.3M669.9 98.5h1.3M666.4 142.5h1.3M614.7 84.3h1.3M631 123.3h1.3M631.8 119.8h1.3M679.3 134.8h1.3M634.2 109.3h1.3M683.6 114.2h1.3M607.9 76.6h1.3M598.6 76.2h1.3M587.4 72.9h1.3M612.9 104.2h1.3M623.2 82.4h1.3M608.3 132.9h1.3M597.4 90h1.3M620 86.7h1.3M607.4 78.1h1.3M581.7 84.6h1.3M649.4 90.4h1.3M599.9 101.7h1.3M625.9 73.2h1.3M633.2 144.7h1.3M601 108h1.3M586.3 75.8h1.3M643 144.4h1.3M605.8 72.4h1.3M670.5 134.9h1.3M592 73.9h1.3M652.6 129.7h1.3M627.5 119.5h1.3M614.3 107.1h1.3M648.5 136.7h1.3M686.8 110.6h1.3M627.8 112.7h1.3M679.1 94.3h1.3M654.9 145h1.3M628.6 62.8h1.3M623.6 93.5h1.3M613 133.3h1.3M623 79.7h1.3M611.7 104.7h1.3M643.1 91.1h1.3M672.8 110.3h1.3M653.9 124.9h1.3M628.6 115h1.3M586.1 86.3h1.3M619.8 111.1h1.3M684.6 110.9h1.3M649.9 146.1h1.3M613.6 117.5h1.3M648.6 121.1h1.3M635.1 68.4h1.3M664.8 102.8h1.3M652.2 116h1.3M599.3 105.5h1.3M663.5 134.8h1.3M615.4 73.1h1.3M677.6 142.4h1.3M607.2 52.1h1.3M616.7 65.5h1.3M648.2 134h1.3M641.8 138.4h1.3M654.1 126.9h1.3M680.1 104.8h1.3M677.1 129.9h1.3M678 106.3h1.3M600.1 81.6h1.3M630.9 109.8h1.3M591.1 73.6h1.3M660.3 135.3h1.3M635.4 99.1h1.3M627 82.9h1.3M651.7 95h1.3M595.6 83.8h1.3M673.8 148.6h1.3M623.3 82.2h1.3M623.8 75.8h1.3M683.1 137.2h1.3M611.5 70.7h1.3M674.7 124h1.3M605.5 82.3h1.3M649.2 150.8h1.3M670 127h1.3M623.2 127.7h1.3M658 154.6h1.3M627.9 116.4h1.3M658.8 106.3h1.3M660.7 102.6h1.3M638.9 115.8h1.3M597.9 123.7h1.3M630.2 114.4h1.3M612.1 106.9h1.3M593.8 89.4h1.3M647.3 144.4h1.3M681.8 119.5h1.3M655.3 147.4h1.3M671.7 148.9h1.3M676.9 109.2h1.3M638.1 87.8h1.3M616.2 116.9h1.3M576.4 81.9h1.3M610.2 83.7h1.3M635.9 89.4h1.3" stroke="#2e7414" stroke-width="1.3" stroke-opacity="1" fill="none"/>
<text x="689" y="56.7" font-size="18" fill="#8ee05a" font-weight="bold" text-anchor="start" >V</text>
<path d="M463.9 241.6h1.3M484.5 263.2h1.3M469.1 191.3h1.3M465.9 241.8h1.3M491.1 280.2h1.3M491.5 223h1.3M542 230.3h1.3M489.8 216.3h1.3M493.9 270.2h1.3M468.3 269.2h1.3M484.6 186.5h1.3M410.6 254.4h1.3M523.1 247.2h1.3M527 297.9h1.3M491.5 293h1.3M492.3 214.5h1.3M476.5 248.4h1.3M411.2 241.7h1.3M485.5 277.6h1.3M515 295.1h1.3M550.8 260.7h1.3M487.8 267.2h1.3M477.3 234.9h1.3M448.1 200.1h1.3M522.5 254.9h1.3M446.8 250.7h1.3M468.8 239.1h1.3M524.4 253.3h1.3M486.1 251.2h1.3M455 261.8h1.3M511 250h1.3M460 265h1.3M523.9 250.4h1.3M468.2 224.9h1.3M460.7 284h1.3M488.1 268.2h1.3M487.7 254.6h1.3M525 243.6h1.3M461.2 273.9h1.3M553.6 295.6h1.3M537.5 218h1.3M479.2 206h1.3M508.5 222.4h1.3M524.8 204.7h1.3M528.4 267.4h1.3M450.3 269.8h1.3M475.7 181.1h1.3M418.8 261.5h1.3M504.9 271.6h1.3M464.7 246h1.3M479.3 267.3h1.3M516.3 249.1h1.3M490.5 249.3h1.3M452.2 243.5h1.3M460 219h1.3M469.1 222.2h1.3M508.2 286.3h1.3M494 251.8h1.3M510.1 227.4h1.3M504.3 287.6h1.3M518.7 246.7h1.3M437.8 300.3h1.3M521.7 259.2h1.3M437.4 214h1.3M451.2 249.2h1.3M475.2 270.6h1.3M472.8 271.5h1.3M443.5 238.7h1.3M431.3 210.3h1.3M530.1 251.2h1.3M527.9 265.8h1.3M491.8 299.3h1.3M490.6 262.7h1.3M508.2 277.6h1.3M451.2 189.5h1.3M524.7 209.3h1.3M468.2 247.7h1.3M515 267.9h1.3M494.1 269.3h1.3M411.2 305.6h1.3M427.1 182.4h1.3M487.4 265.6h1.3M509.2 260h1.3M547.2 201.7h1.3M535.2 297.4h1.3M489.1 271.6h1.3M461.8 205.8h1.3M456.3 246.1h1.3M472.8 228.4h1.3M480.9 194.3h1.3M475.2 214.8h1.3M435.8 236.2h1.3M514.3 249.7h1.3M538.9 247.8h1.3M483.3 237.9h1.3M422.9 193.8h1.3M444.1 241.8h1.3M457.9 249.4h1.3M557.7 236.4h1.3M513.7 286.5h1.3M464.3 241.1h1.3M450.6 201.5h1.3M470.7 226.8h1.3M532.7 273.7h1.3M507.9 225.5h1.3M468.9 240.3h1.3M434.1 195.4h1.3M468.6 230.1h1.3M435.3 186.7h1.3M472.2 267.5h1.3M512 268.1h1.3M466.9 277.6h1.3M414.7 303.8h1.3M522.5 275.9h1.3M486.6 228.7h1.3M499.8 278.3h1.3M465.7 210h1.3M516.3 292.1h1.3M509.6 262.4h1.3M453.9 197.3h1.3M517.4 251.7h1.3M459.9 224.3h1.3M527.4 261.5h1.3M488.2 258h1.3M484.4 246.6h1.3M517.8 270.5h1.3M443.3 211.7h1.3M536.1 249.5h1.3M498.4 271.3h1.3M514.4 252.3h1.3M460.7 259.3h1.3M481.1 300.9h1.3M486.5 249h1.3M513.7 217.5h1.3M445.3 240h1.3M541.9 259h1.3M501.1 270.9h1.3M438.5 232.8h1.3M465.2 232h1.3M483.2 281.9h1.3M498.4 265.9h1.3M529.4 303.2h1.3M438.5 247.1h1.3M482.6 269.6h1.3M472.2 251.7h1.3M497.5 272.3h1.3M485.5 204.3h1.3M494.7 237h1.3M488.7 237.5h1.3M497.5 277.4h1.3M494.1 285.3h1.3M432.5 315.5h1.3M512.3 254.3h1.3M460.9 260.1h1.3M504.1 245.4h1.3M472.6 210.5h1.3M427 282.8h1.3M503.4 246.1h1.3M508.7 275.9h1.3M502.3 261.9h1.3M449.7 189.8h1.3M467.1 198.6h1.3M522.3 304.3h1.3M419.7 304.7h1.3M451 246h1.3M475.6 196.6h1.3M469.5 214.8h1.3M474 266.8h1.3M528.5 249.9h1.3M513.8 259.2h1.3M511.9 254.9h1.3M540.2 183.3h1.3M503.6 241.2h1.3M440.5 205.3h1.3M474.7 202.6h1.3M504.2 231.5h1.3M522.8 310.4h1.3M538.4 251.8h1.3M454.1 246.9h1.3M490.3 240.9h1.3M437.3 231.5h1.3M467.5 236.9h1.3M494.8 292.1h1.3M437.4 225.2h1.3M534.2 311.7h1.3M453 254.7h1.3M557.1 224.6h1.3M459.7 236.1h1.3M530.9 273h1.3M492.7 223.4h1.3M480 233.4h1.3M517.4 243.8h1.3M509.8 249.8h1.3M451 223.1h1.3M486.5 282.2h1.3M511.2 294.3h1.3M453.4 248.7h1.3M524.7 280.8h1.3M474.4 209.6h1.3M506 276.6h1.3M467.4 291.2h1.3M489.7 246.7h1.3M531.5 282.8h1.3M451.5 224.1h1.3M411.2 186.8h1.3M474.5 217.2h1.3M498.9 226.4h1.3M504.2 278.5h1.3M452.9 239.5h1.3M485 242.3h1.3M431 266.4h1.3M462.6 206.6h1.3M525.5 237.4h1.3M507.4 237.7h1.3M523 254.3h1.3M510 247h1.3M502.4 189.3h1.3M472.5 241.5h1.3M466.8 251.6h1.3M487.2 293.1h1.3M459.3 204.3h1.3M498.1 282.1h1.3M487.1 218.2h1.3M509.6 245.3h1.3M535.9 262.9h1.3M466.2 285.5h1.3M493.9 269.6h1.3M510.1 247.3h1.3M479.3 229.4h1.3M497.4 232.9h1.3M492.9 243.7h1.3M427.2 295.1h1.3M444.6 226h1.3M446.7 237.5h1.3M537.4 266.5h1.3M466.3 240.2h1.3M466.8 207.4h1.3M539.2 299.9h1.3M473.5 226.7h1.3M442.1 202.4h1.3M500.5 279.6h1.3M453.9 209h1.3M532.1 263.5h1.3M453.5 189.7h1.3M499.2 269.1h1.3M443.8 201h1.3M483.6 186.2h1.3M450.2 216.7h1.3M413.6 231.4h1.3M453.5 266.8h1.3M514.9 267.8h1.3M453 245.1h1.3M529.8 250.7h1.3M532.6 267.4h1.3M539.1 310.6h1.3M480.6 246.2h1.3M465.8 201.2h1.3M473.8 208.3h1.3M549.4 202.6h1.3M440.9 224.6h1.3M508.9 231.8h1.3M522.1 242.9h1.3M451.2 256.3h1.3M472 221.7h1.3M484.7 239.7h1.3M447.9 229.2h1.3M424.9 227.1h1.3M556.2 200.3h1.3M508.5 294.2h1.3M498.7 236.1h1.3M532.8 264.3h1.3M534.1 253.7h1.3M493.2 289.2h1.3M547.5 233.4h1.3M439.7 205.9h1.3M469.6 282.1h1.3M461.3 192.4h1.3M479.2 182.5h1.3M473.7 189.1h1.3M471 214.1h1.3M454.8 280.2h1.3M475.2 206.7h1.3M533.3 216h1.3M551.7 193.4h1.3M452.9 231.6h1.3M550.2 274.4h1.3M486 241.3h1.3M520.6 261.8h1.3M431.4 226.7h1.3M502.1 247.1h1.3M482.2 278.5h1.3M482.4 225.4h1.3M494.1 286h1.3M534.7 245.7h1.3M502 208.5h1.3M432.5 220.5h1.3M476.6 254.9h1.3M445.1 221.6h1.3M547.7 248.6h1.3M541 190.1h1.3M474.2 233.8h1.3M481.9 264.9h1.3M554.5 223h1.3M496.2 229.1h1.3M425.7 278h1.3M525.7 207.8h1.3M482.5 258.3h1.3M503.5 251.4h1.3M460.6 250.1h1.3M469.7 229.6h1.3M526 277.9h1.3M531 259.2h1.3M469.4 221.6h1.3M420.2 193.8h1.3M496.6 276.4h1.3M414.4 196.1h1.3M555.8 214.9h1.3M546 198.7h1.3M435.7 241.8h1.3M472.3 277.6h1.3M463.1 197.3h1.3M412.7 240.9h1.3M500.9 254.5h1.3M524.1 236.5h1.3M465.1 261.8h1.3M538.6 294.9h1.3M444.4 197.7h1.3M507.7 270h1.3M440.6 223.5h1.3M470 240.6h1.3M517.2 284.7h1.3M437.2 266.6h1.3M517.7 255.5h1.3M427 227.7h1.3M479.7 263.2h1.3M467.3 268.7h1.3M434.4 210.7h1.3M525.3 255h1.3M522.2 270.5h1.3M459.1 245h1.3M445.4 214.2h1.3M528.8 262h1.3M533 183.8h1.3M509.3 312.2h1.3M478.6 236.2h1.3M440.9 229.7h1.3M451.6 245.8h1.3M489.7 250.1h1.3M521.8 248.2h1.3M483.9 232.1h1.3M491.3 270.8h1.3M525.5 253h1.3M443.1 216.9h1.3M498.5 273.9h1.3M443.8 222.1h1.3M468.9 253.6h1.3M440 308.1h1.3M461.1 240.5h1.3M442.1 239.1h1.3M497.2 237.6h1.3M513 252.5h1.3M496.9 286.6h1.3M447.1 255.8h1.3M482.6 237h1.3M551.5 218h1.3M466 210.8h1.3M509 276.7h1.3M523.7 295h1.3M459.3 230.1h1.3M426.6 195.5h1.3M506.4 282.3h1.3M503.7 266.6h1.3M426.3 265.6h1.3M438.4 209h1.3M481.4 244.9h1.3M513 261.1h1.3M497.3 229.9h1.3M474.8 274h1.3M481.2 294.6h1.3M449.6 277.1h1.3M439.1 218.7h1.3M472 277.4h1.3M496.7 249.8h1.3M494.2 226.6h1.3M519.3 258.3h1.3M512.8 248.7h1.3M504 258.4h1.3M487.7 318.2h1.3M554.3 309.4h1.3M511.3 250.2h1.3M486.6 287.3h1.3M454 247.1h1.3M436.1 291.7h1.3M539.7 278.8h1.3M467.1 308.9h1.3M467.9 223.1h1.3M454.4 219.2h1.3M462.7 219.6h1.3M414.1 312.8h1.3M472.1 252.3h1.3M498 236.9h1.3M503 259.5h1.3M513.4 245.4h1.3M470 314.4h1.3M532 262.8h1.3M536.6 259.1h1.3M476 236.7h1.3M441.2 240.9h1.3M485.8 234.9h1.3M451.1 202h1.3M464.2 273.8h1.3M531.4 217.2h1.3M429.2 265.6h1.3M540.1 301h1.3M417.1 204.9h1.3M510.5 272.7h1.3M452 210.9h1.3M469.2 257.5h1.3M457.9 256.9h1.3M519.9 251.1h1.3M468.5 193.6h1.3M515.8 269.4h1.3M481.2 212.6h1.3M494.8 287.7h1.3M491.5 276.9h1.3M492.5 223.9h1.3M458.7 249.4h1.3M444.1 230.1h1.3M504.3 249.7h1.3M505.2 263.3h1.3M492.8 263.1h1.3M486.8 248h1.3M472.2 250.4h1.3M427.9 225h1.3M459.9 243.4h1.3M522.2 259.9h1.3M553.2 245.7h1.3M455.7 252.8h1.3M474.6 232.1h1.3M489.2 234.1h1.3M499.9 232.3h1.3M422.3 222.9h1.3M413.7 313.1h1.3M447 227.2h1.3M465.2 308.3h1.3M483 241.7h1.3M441.6 233.3h1.3M522.9 254h1.3M526.3 278.3h1.3M488.9 243.5h1.3M429.3 255.1h1.3M441.1 230h1.3M449.2 245.9h1.3M493.3 218h1.3M510.1 234h1.3M531 276.8h1.3M481.4 211.9h1.3M436.3 201.2h1.3M504.6 242.7h1.3M447.7 223.5h1.3M461.1 247.2h1.3M458.2 231.1h1.3M466.8 263.5h1.3M512.5 198.3h1.3M446.6 217.8h1.3M518.9 263.6h1.3M457.5 180.7h1.3M451.3 202.5h1.3M520.1 195.9h1.3M463.7 258.6h1.3M537 259.4h1.3M500.1 240h1.3M521.9 263.2h1.3M461.2 234.4h1.3M451 214.7h1.3M515.7 291.5h1.3M453.7 241.2h1.3M539.5 192.6h1.3M447 292.5h1.3M466.4 266.8h1.3M437.8 194.7h1.3M467.5 281.2h1.3M453 200.8h1.3M471.8 274h1.3M537.5 275.1h1.3M498.7 190h1.3M445.7 211.8h1.3M490.1 235.5h1.3M472.5 208.6h1.3M434.8 236h1.3M442.9 247.6h1.3M456.8 306.8h1.3M476.1 257.9h1.3M452.4 218.4h1.3M555.9 237.8h1.3M450.9 244.1h1.3M486 227.9h1.3M541 179.2h1.3M459.4 207.6h1.3M509.7 274.2h1.3M519.3 218.6h1.3M492.1 266h1.3M513.1 283.2h1.3M487.3 225h1.3M531.8 259.6h1.3M443.8 236.5h1.3M434.5 310.8h1.3M477.2 252.4h1.3M513.4 257.6h1.3M544.8 198.4h1.3M463.5 200.7h1.3M486.5 263.8h1.3M534 221h1.3M481.3 196.4h1.3M461 223.6h1.3M519.9 246.5h1.3M459.5 258.2h1.3M526.5 223h1.3M483 222.6h1.3M460.2 208h1.3M504.6 257.6h1.3M505 252.7h1.3M545.9 286.9h1.3M526.1 257.2h1.3M480.4 219.3h1.3M534.1 231h1.3M480.6 250.9h1.3M505.5 253.1h1.3M439.1 314.5h1.3M436.6 201.2h1.3M462.7 208.8h1.3M485.8 240.5h1.3M464.8 182.2h1.3M531 271.8h1.3M527.2 263h1.3M438.1 207.1h1.3M419 191.1h1.3M520.8 275.6h1.3M454 262.5h1.3M431.2 218.9h1.3M480.8 257.6h1.3M461.7 214.5h1.3M477.3 211.8h1.3M526.6 260.1h1.3M489.9 248.9h1.3M478.8 240.3h1.3M482.4 234.1h1.3M433.1 259.9h1.3M474.6 270.9h1.3M484.4 313.5h1.3M481.9 218.1h1.3M495.5 234.1h1.3M490 224h1.3M524.8 249.1h1.3M460 240h1.3M540 201.6h1.3M500.9 307.7h1.3M435.7 203.6h1.3M480.3 274.3h1.3M459.2 247h1.3M468.4 253.9h1.3M504.5 255.1h1.3M470.7 254.2h1.3M475.5 257.9h1.3M485.3 312.6h1.3M478.9 271.9h1.3M514.5 287.9h1.3M506.9 290.2h1.3M503.8 279.4h1.3M455 198.1h1.3M468.9 244.3h1.3M516.3 266.2h1.3M416.8 289.1h1.3M468.2 212.5h1.3M546.6 269.6h1.3M502.9 296.2h1.3M415.2 283.8h1.3M452.3 213.8h1.3M525.8 262.7h1.3M516.1 201.4h1.3M473.4 210.1h1.3M484.4 215.4h1.3M433 233.3h1.3M430.4 214.1h1.3M440.1 229.5h1.3M447.3 208.2h1.3M461.9 256.1h1.3M462 275.7h1.3M493.8 274.6h1.3M515.7 256.4h1.3M475.9 199.7h1.3M469.8 187.5h1.3M462.4 186.1h1.3M536.3 265.9h1.3M433.5 224.3h1.3M515.1 238.4h1.3M483 283.8h1.3M455 209.9h1.3M478.8 233.1h1.3M501.6 235.7h1.3M525.2 244.1h1.3M504.6 241.3h1.3M468.6 234.1h1.3M481.2 252.1h1.3M479.8 266.4h1.3M467.2 241h1.3M518.7 282.6h1.3M520 264.3h1.3M537.2 304h1.3M470 230.7h1.3M516.9 265.4h1.3M511.7 187.9h1.3M450.7 203h1.3M483.2 272.9h1.3M466.6 240.2h1.3M480.3 287.7h1.3M461.4 269.7h1.3M541.6 245.6h1.3M451.1 227.9h1.3M498.8 224.2h1.3M490.7 242.6h1.3M417.8 237.8h1.3M472.7 223.4h1.3M534 225.1h1.3M422.5 217.8h1.3M462.9 242.2h1.3M417.2 191.1h1.3M445.6 200.8h1.3M459.4 211.6h1.3M498.4 224.2h1.3M523.1 288.5h1.3M528.5 268.6h1.3M527 221.1h1.3M477 226.6h1.3M500.9 272.6h1.3M505.4 225.1h1.3M510.9 263.7h1.3M432.5 289.6h1.3M486.2 267.3h1.3M515.6 315.2h1.3M495.2 262.5h1.3M513.3 242.8h1.3M417 188.4h1.3M497.1 289.6h1.3M500.1 310.7h1.3M451.2 220.8h1.3M456.4 314.9h1.3M542.5 301.5h1.3M486.4 277.5h1.3M504.2 261.5h1.3M534.5 215.9h1.3M496.8 216.2h1.3M457.4 229h1.3M422.7 273.6h1.3M529.1 253.4h1.3M495 198.7h1.3M484.5 266.9h1.3M478.6 275.5h1.3M550.6 190.2h1.3M552.5 232.3h1.3M462.4 236.3h1.3M452.3 218.4h1.3M475.8 247.4h1.3M439.6 211.6h1.3M451.1 226.9h1.3M493.2 243.7h1.3M428.4 241.6h1.3" stroke="#a89a04" stroke-width="1.3" stroke-opacity="1" fill="none"/>
<path d="M524.3 190.4h1.3M515.6 300.3h1.3M465.3 238.9h1.3M509 266.6h1.3M492 201.8h1.3M490.4 275.2h1.3M458.6 234.9h1.3M490.2 227.6h1.3M544.5 300.5h1.3M485.9 184.8h1.3M443.9 209.4h1.3M481.6 244.1h1.3M506.8 253.7h1.3M531.5 279.6h1.3M470.4 247.5h1.3M507.5 216.7h1.3M494.7 220.5h1.3M461.3 258.8h1.3M432.4 227.6h1.3M489.6 256.2h1.3M453.4 236.8h1.3M510.8 247.7h1.3M470.9 209h1.3M499.3 281.9h1.3M508.7 251.7h1.3M511.4 244.1h1.3M489.7 222.4h1.3M482.3 277.5h1.3M522 219.4h1.3M442.8 225.9h1.3M489.5 220.4h1.3M503.5 310.1h1.3M480.6 237.3h1.3M438 237.7h1.3M442 214.8h1.3M557.4 265.7h1.3M485.6 282.6h1.3M479 207.1h1.3M555.5 305.3h1.3M448.9 226.2h1.3M498.6 276.7h1.3M499.6 215.8h1.3M467.9 251.6h1.3M485.6 282.5h1.3M423.4 261.2h1.3M487.8 186.6h1.3M441.9 243.3h1.3M477.4 275.6h1.3M446 198h1.3M495.8 223h1.3M413.2 263.5h1.3M525.3 208.7h1.3M494.3 232.8h1.3M466.7 205.6h1.3M515 268.5h1.3M530.4 272.8h1.3M501.1 277.8h1.3M538.6 213.7h1.3M458.8 250.4h1.3M491.8 253.4h1.3M494.7 256.6h1.3M506.6 231.8h1.3M468.2 209.1h1.3M462 252.3h1.3M443.6 239h1.3M509.8 197.5h1.3M515.5 245.9h1.3M534 270.2h1.3M491.4 315.4h1.3M518.2 265.3h1.3M531.8 278.7h1.3M454.3 260.1h1.3M490.4 270.9h1.3M447.3 226.2h1.3M448.6 246.1h1.3M496.9 248.5h1.3M489.6 266h1.3M448.5 224.3h1.3M463.7 210h1.3M494.1 276h1.3M482.4 212h1.3M468.6 217.7h1.3M497.4 254.9h1.3M445.5 308.1h1.3M458.6 197h1.3M483.8 254.5h1.3M513.7 281.4h1.3M500.3 270.4h1.3M541.5 245.1h1.3M477.9 218.1h1.3M462 229.9h1.3M445.2 238.8h1.3M485.1 254.9h1.3M498.5 256h1.3M510.8 274.4h1.3M459 251.5h1.3M508.4 273.3h1.3M462.6 250.9h1.3M507 273.6h1.3M464.8 181.1h1.3M488.2 227h1.3M465.1 255.4h1.3M516.2 240.9h1.3M535.5 313.1h1.3M444.6 209.3h1.3M507.4 194.8h1.3M473.7 212.3h1.3M439.6 216.9h1.3M458.4 291.4h1.3M532.5 251.3h1.3M489.7 273.8h1.3M443.4 219.8h1.3M492.5 279.1h1.3M469.2 192.2h1.3M493.4 248.8h1.3M459.3 257.4h1.3M463.1 232.9h1.3M475 225.3h1.3M455.8 228.5h1.3M518 260.1h1.3M431.4 254.6h1.3M436.1 233.2h1.3M490.9 227.2h1.3M529.9 275.3h1.3M504.1 251.3h1.3M497.2 229.1h1.3M461.5 222.7h1.3M513.5 230h1.3M554.7 270h1.3M520.8 273.2h1.3M522.3 279h1.3M487.2 229.6h1.3M437.1 274.9h1.3M448.7 209.9h1.3M470.6 231.5h1.3M410.9 215.1h1.3M526.8 293.2h1.3M455.8 221.2h1.3M432.2 183.4h1.3M530 260.8h1.3M495.1 228.8h1.3M448 244.2h1.3M502.1 211h1.3M507.4 315.9h1.3M459.4 238.5h1.3M482.5 265.1h1.3M463.7 257.7h1.3M459.6 250.1h1.3M472.6 273h1.3M449.7 221h1.3M558 201.4h1.3M479.2 236.2h1.3M511.2 253.8h1.3M532.2 265.8h1.3M518.3 281.3h1.3M515.2 281.4h1.3M454.9 256.4h1.3M437.4 237h1.3M485.7 180.9h1.3M461.7 208.6h1.3M486.3 243.8h1.3M510 283.2h1.3M494.4 254.2h1.3M474.3 256.6h1.3M485.4 278.4h1.3M542.7 271.2h1.3M457.7 220h1.3M422.3 198.6h1.3M473.7 184.5h1.3M547.9 317.1h1.3M465.2 219.2h1.3M461.8 229.9h1.3M516.1 260.6h1.3M431.6 242.4h1.3M465 258.1h1.3M505.3 249h1.3M527.5 223.2h1.3M476.4 306.2h1.3M468.2 208.5h1.3M499.6 192.5h1.3M486.1 278.4h1.3M465.4 210.6h1.3M508.5 272.2h1.3M462.1 208.6h1.3M483.8 240h1.3M495.9 226.1h1.3M475.8 210.9h1.3M496.5 291.7h1.3M486.2 231.9h1.3M471 203.6h1.3M482.6 288.2h1.3M434.7 239.8h1.3M449.8 244.6h1.3M510.3 258.6h1.3M499.7 278.9h1.3M475.4 246.2h1.3M419.5 270.7h1.3M545.2 216.3h1.3M462.9 259.1h1.3M466.4 296.8h1.3M450.1 241.1h1.3M428.7 278.8h1.3M503.7 294.7h1.3M484.6 266.8h1.3M496.7 209.8h1.3M534.9 290.7h1.3M500 262.6h1.3M527.3 283.5h1.3M460.5 191.7h1.3M474.7 298h1.3M437.1 307.4h1.3M466.2 205.4h1.3M485.1 309.4h1.3M488.4 248.3h1.3M520.5 248.1h1.3M488 254h1.3M487.4 230.4h1.3M483.3 229.2h1.3M501.5 269.6h1.3M488.8 224.8h1.3M414.7 285.2h1.3M490.2 316.3h1.3M493.4 243.8h1.3M481.4 280h1.3M472.1 212h1.3M468.9 266.5h1.3M465.7 259.7h1.3M459.2 201.5h1.3M500.1 224h1.3M469.5 235.6h1.3M431.9 204.2h1.3M533.3 270.5h1.3M552.8 241.3h1.3M510.5 246.2h1.3M520.9 300h1.3M508.1 254.2h1.3M516.3 238.1h1.3M495.5 260.6h1.3M471.6 272.9h1.3M451.6 213.7h1.3M481.3 212.3h1.3M518.4 282.2h1.3M467.2 244.3h1.3M535.8 267.7h1.3M476.2 210.4h1.3M452.1 202.5h1.3M447 182.9h1.3M511.1 244h1.3M449.3 214.9h1.3M503.7 267.5h1.3M501.4 229.3h1.3M510 264h1.3M471.1 236.7h1.3M441.7 278.6h1.3M479 235.5h1.3M463.6 230h1.3M555.8 183.5h1.3M442.5 304.3h1.3M443 234.9h1.3M516.1 260.6h1.3M476.2 276.5h1.3M431 201.8h1.3M443.2 220.2h1.3M461.2 232.8h1.3M500.6 264.9h1.3M478.6 262.7h1.3M523.6 276.6h1.3M421.2 316.6h1.3M508.9 271.4h1.3M513.4 249.3h1.3M422.5 209.6h1.3M455.3 212.8h1.3M451 235.2h1.3M482.6 232.1h1.3M455.4 252.3h1.3M527.5 259.2h1.3M494.3 297.2h1.3M445.6 210.1h1.3M462.5 264.8h1.3M433.9 215.7h1.3M439.5 202.8h1.3M468.2 302.2h1.3M469.9 218.4h1.3M537.8 231h1.3M517.4 196.6h1.3M441.9 227.9h1.3M509.1 269.5h1.3M450.6 263.4h1.3M453.7 222.2h1.3M470.3 265.4h1.3M487.9 296.1h1.3M455.8 248.2h1.3M442.4 195.5h1.3M432.5 210.4h1.3M513.6 280.6h1.3M453.7 184.8h1.3M451.7 224h1.3M511.5 276.4h1.3M440.4 220.3h1.3M492.4 195h1.3M499.5 265.2h1.3M437.2 220.5h1.3M499.9 250h1.3M450.3 241h1.3M420.8 236.5h1.3M469.4 272h1.3M478.7 269.4h1.3M487.5 283.6h1.3M500.2 271.7h1.3M458 208.5h1.3M428.8 261.7h1.3M453.7 226.9h1.3M446.7 221.2h1.3M431.8 219.3h1.3M472.2 224.2h1.3M521.5 181h1.3M460.6 274.2h1.3M425.9 217.4h1.3M496.5 194.1h1.3M477.9 217.3h1.3M534.4 251.3h1.3M526.4 252.7h1.3M499.9 233.1h1.3M452.2 255.3h1.3M532.8 240h1.3M500.1 290.1h1.3M522.7 264.6h1.3M536.4 264.5h1.3M436.4 211.6h1.3M515.9 318.3h1.3M438.8 223.7h1.3M472.4 265.8h1.3M541.3 229.1h1.3M455.1 248.2h1.3M484.4 301h1.3M516.6 293.6h1.3M529.1 283.3h1.3M465.6 227.8h1.3M486.1 282.3h1.3M540 313.3h1.3M505.5 280.9h1.3M455.2 216.8h1.3M478.9 225.6h1.3M443.4 209.4h1.3M535.2 291h1.3M483.6 304.4h1.3M529.7 274.7h1.3M472.2 229.7h1.3M485.8 233.7h1.3M447.5 310h1.3M444.8 218.8h1.3M412.3 239.5h1.3M503.5 259.7h1.3M465 211.1h1.3M419.9 250h1.3M551.1 309h1.3M507.6 245h1.3M471.2 223h1.3M497.9 279h1.3M482 240.3h1.3M489.2 241.2h1.3M492.6 288.7h1.3M509.1 239.1h1.3M510.5 190h1.3M429.6 275.4h1.3M504.6 231.1h1.3M472.7 267.1h1.3M453.2 254.5h1.3M480.8 287.1h1.3M497.2 284.8h1.3M428 214.2h1.3M498.3 257.1h1.3M440.4 221.1h1.3M487.7 271.5h1.3M475.2 217.4h1.3M438.4 223.2h1.3M437.4 233.5h1.3M493.2 254.7h1.3M551 260.8h1.3M440.9 250.3h1.3M450.6 254.6h1.3M460 226.5h1.3M520.2 179.6h1.3M448.1 223.7h1.3M508.1 234.9h1.3M555.7 309.3h1.3M520.3 249.8h1.3M475.8 224.2h1.3M448.8 208.8h1.3M433 221.8h1.3M438.5 222.1h1.3M488.5 264.5h1.3M419.5 303.8h1.3M464.7 184.5h1.3M545.3 209h1.3M479 210.3h1.3M461.8 227h1.3M438.8 226.3h1.3M455.5 205.9h1.3M475.1 211.9h1.3M480.5 232.6h1.3M446.8 248.4h1.3M548.8 245.6h1.3M498.4 268h1.3M511.4 254h1.3M460.1 259.1h1.3M476.4 263h1.3M467.5 220.7h1.3M499.2 233h1.3M481.7 266h1.3M499.6 283.8h1.3M474.7 250h1.3M485.8 256.5h1.3M438.9 229.5h1.3M485.2 239.6h1.3M493.6 220.2h1.3M424 315.2h1.3M518.5 281.9h1.3M514.5 210.9h1.3M540.6 225.6h1.3M471.2 215.8h1.3M412 208.2h1.3M508.4 237.6h1.3M464.2 223.1h1.3M522.4 233.2h1.3M484 218.7h1.3M447.5 199.6h1.3M504.7 280.1h1.3M439.8 213.9h1.3M463.2 240.8h1.3M441.5 273.6h1.3M457.8 257.7h1.3M541.3 226.9h1.3M468.5 247.2h1.3M467.7 206.4h1.3M454.6 251.8h1.3M489.3 248h1.3M499 233.6h1.3M534.3 200.3h1.3M487.3 269.4h1.3M487.8 224.3h1.3M470.7 258.1h1.3M444.7 203.8h1.3M476.4 263.8h1.3M500.3 240.8h1.3M480.4 268.9h1.3M480.8 204.6h1.3M495.3 272.5h1.3M467 214.8h1.3M530.9 212.2h1.3M454.7 244.4h1.3M425.8 216.9h1.3M492.8 194h1.3M473.2 207.9h1.3M481.1 262.8h1.3M517.9 240.5h1.3M445.8 225.2h1.3M453.3 239.4h1.3M523.7 232.2h1.3M539.8 259.2h1.3M498.7 265.8h1.3M491.5 232.4h1.3M503.8 266.5h1.3M441.9 239.7h1.3M494.1 223.8h1.3M447.4 198.7h1.3M517.7 239.8h1.3M459.7 257.5h1.3M469.1 254.3h1.3M454 201.2h1.3M468.4 212h1.3M523.5 276.1h1.3M466.7 300.9h1.3M517.6 273.3h1.3M518.5 242.7h1.3M455.5 227.8h1.3M438 233.4h1.3M447.7 243.9h1.3M435.2 212.7h1.3M469.3 253.2h1.3M439.8 278h1.3M483.7 251.1h1.3M502.1 289.3h1.3M481.5 271.4h1.3M512.2 289.4h1.3M430.2 235.6h1.3M455.3 244.8h1.3M513.8 225.4h1.3M435.8 265.3h1.3M520 292.7h1.3M500.2 249.2h1.3M476.3 245.4h1.3M507.1 190.6h1.3M447.2 228h1.3M510.3 231.9h1.3M484.5 284.9h1.3M459.7 194.7h1.3M496.3 278.4h1.3M460.9 214.9h1.3M495.5 272.5h1.3M481.9 282h1.3M529.4 312.4h1.3M427.4 291.1h1.3M452.7 221.5h1.3M512.6 278.3h1.3M522.2 241h1.3M475.3 258.7h1.3M446.1 305.8h1.3M428.7 280.7h1.3M479.8 265.6h1.3M501.2 302.3h1.3M495.7 244h1.3M530.3 235.5h1.3M463.2 200.3h1.3M441.6 239.7h1.3M502.6 239.5h1.3M429.1 209h1.3M471.2 265.2h1.3M494.8 267.8h1.3M519.8 219h1.3M498.4 280.2h1.3M465 257.5h1.3M525.7 255.7h1.3M516.8 220.3h1.3M455.9 189.8h1.3M411.7 293.5h1.3M468.9 269.8h1.3M458.5 215h1.3M436.5 230.8h1.3M504.1 244.8h1.3M517.4 287.5h1.3M527.3 258.4h1.3M434.6 210.2h1.3M524.5 201.9h1.3M500.4 279.6h1.3M443.6 245.3h1.3M548.4 298.6h1.3M493.4 253.7h1.3M490.4 255h1.3M452.1 245.5h1.3M500.8 314.6h1.3M440.7 224.8h1.3M557.5 314.2h1.3M454.7 203.8h1.3M511.3 265h1.3M445.4 296.3h1.3M469.2 211.2h1.3M416.7 274.7h1.3M532.7 182.6h1.3M506.3 230.1h1.3M492.1 251.8h1.3M506.9 240h1.3M504.4 291.1h1.3M459.4 221.8h1.3M509.4 269.3h1.3M500.4 275.9h1.3M456 237.2h1.3M437.2 236.6h1.3M444.1 252.7h1.3M506.5 239.9h1.3M469.3 243.6h1.3M497.6 268.6h1.3M478.4 207.7h1.3M445.4 232.1h1.3M448.4 207.3h1.3M469.3 264.6h1.3M522.1 277.1h1.3M510.8 231.1h1.3M511.9 263.6h1.3M478.5 207.2h1.3M528.6 252.9h1.3M523.1 259.4h1.3M529.4 251.2h1.3M519.9 184.3h1.3M459.8 254.1h1.3M434.4 228.8h1.3M465.3 238.2h1.3M477.3 202.9h1.3M477.6 269.8h1.3M536.9 261.7h1.3M502.3 269.5h1.3M453.7 269.5h1.3M502.5 283.1h1.3M525.2 264.9h1.3M477.1 244.4h1.3M478.6 202.8h1.3M494.5 229.2h1.3M475.6 288.2h1.3M455.8 204.2h1.3M481.1 278.9h1.3M481.5 310h1.3M512.6 234.7h1.3M436.1 246h1.3M519 250.6h1.3M488.1 229.9h1.3M503.3 280.6h1.3M538.5 265h1.3M484.5 274.6h1.3M471.9 253.2h1.3M494.5 265.7h1.3M419.9 269.2h1.3M463.3 260.7h1.3M449.5 224.3h1.3M532.2 251.3h1.3M473.4 220.8h1.3M468.8 197.9h1.3M485.7 226.4h1.3M527.5 295.4h1.3M490.9 277.1h1.3M527.1 236.6h1.3M437.2 223.7h1.3M505.8 296.7h1.3M528 275.5h1.3M481.2 214.5h1.3M461.1 210.1h1.3M452.2 254.8h1.3M451.8 216.9h1.3M503.2 251.2h1.3M537.9 268.7h1.3M493.2 302.8h1.3M480.2 223.5h1.3M458.6 312.7h1.3M450 251.9h1.3M552.5 241.7h1.3M469.7 235.1h1.3M449.2 208.5h1.3M441.7 221.7h1.3M505.2 259.6h1.3M500.2 283.6h1.3M490.8 267h1.3M538.6 195.8h1.3M494.9 244.2h1.3M533.4 248.2h1.3M492.4 265.8h1.3M475.1 233.3h1.3M462.1 202.8h1.3M484.5 278.9h1.3M488.5 299.7h1.3M554.6 187.4h1.3M448.1 244.7h1.3M449.2 261.2h1.3M470.4 314.9h1.3M472.2 307.9h1.3M511.6 279.6h1.3M452.6 202h1.3M459.6 255.9h1.3M508.8 299h1.3M532.5 277.7h1.3M557.8 248.2h1.3M443.4 313.1h1.3M434 243h1.3M472.5 224.9h1.3M457.7 199.3h1.3M497.8 239.9h1.3M512.2 263.8h1.3M510.9 292.4h1.3M482.3 279.2h1.3M460 262.8h1.3M473.3 231.6h1.3M515.1 275.8h1.3M448.6 198.5h1.3M505.6 254.1h1.3M512.4 182.5h1.3M487.8 229.9h1.3M484.7 214.2h1.3M482.9 288.9h1.3M534.5 276.2h1.3" stroke="#dcc800" stroke-width="1.3" stroke-opacity="1" fill="none"/>
<path d="M461.9 242.7h1.3M462.5 272.4h1.3M507 229.8h1.3M479 250.5h1.3M512.6 256.4h1.3M463 201.5h1.3M451 254.5h1.3M540.3 315.3h1.3M448.5 216h1.3M520.1 274.9h1.3M455.3 244.9h1.3M475.2 279.2h1.3M508.1 253.5h1.3M528.9 266.7h1.3M445 197.4h1.3M423.8 188.7h1.3M483.5 241.2h1.3M487.1 277.8h1.3M457.7 235.4h1.3M509.1 252h1.3M547.1 299.9h1.3M481.2 232.5h1.3M450 232.8h1.3M496.5 260.4h1.3M438.6 206.1h1.3M502 231.9h1.3M452.5 222.6h1.3M525.6 315.3h1.3M486.1 307.8h1.3M518.1 265.4h1.3M471.4 228.6h1.3M503.7 258.7h1.3M483.5 203.2h1.3M509 279.4h1.3M520.2 241.3h1.3M469.6 257.6h1.3M458.1 195.6h1.3M522.2 286.3h1.3M411.7 220.2h1.3M486.4 304.7h1.3M516.8 286.3h1.3M531.2 252.4h1.3M456.5 192.2h1.3M431.7 209.1h1.3M465.2 256.9h1.3M473 289.6h1.3M456.4 229.4h1.3M500.7 230.7h1.3M487.2 254.2h1.3M512.2 281.3h1.3M526.7 195.9h1.3M488.8 264.3h1.3M484.5 179.9h1.3M441.3 237.8h1.3M504.8 239.2h1.3M508.9 245.8h1.3M436.4 228.1h1.3M506.2 254.7h1.3M450.7 246.8h1.3M434.8 211.2h1.3M427.8 298.9h1.3M419.3 226.6h1.3M491.1 222.4h1.3M458.9 261.2h1.3M490.5 301.5h1.3M440.3 242.8h1.3M517.8 233h1.3M512.5 238.7h1.3M426.9 219.3h1.3M438.5 226.1h1.3M521.1 272.1h1.3M488.5 285.8h1.3M479.6 211.7h1.3M501.6 300.3h1.3M498.6 223.1h1.3M519.6 235.9h1.3M440.2 247.3h1.3M443.9 200h1.3M477.2 238.9h1.3M476.4 218.8h1.3M490.7 248h1.3M463.5 268.5h1.3M533.8 219.4h1.3M487.3 249h1.3M496.6 215.6h1.3M505.7 230.8h1.3M467.8 239.5h1.3M511.4 273h1.3M525.4 317.3h1.3M471.3 229.6h1.3M494.6 306.3h1.3M442.5 242.4h1.3M461.5 219.1h1.3M537.3 203.7h1.3M463.6 240.9h1.3M509 276.5h1.3M504.4 272.8h1.3M457.2 223.7h1.3M439.1 234.3h1.3M469.8 220.1h1.3M538.6 199.7h1.3M540.1 199.2h1.3M494.9 248.2h1.3M460.1 265.2h1.3M525 263.5h1.3M427.6 214.3h1.3M509.3 237.7h1.3M529.1 255.9h1.3M517.3 299.2h1.3M439.8 184.4h1.3M501.1 227.1h1.3M469.7 207.8h1.3M472.7 252.2h1.3M475.1 314h1.3M442.4 221.4h1.3M471.7 254.1h1.3M493.4 244.7h1.3M444.3 230.4h1.3M525.5 274h1.3M469.2 261.7h1.3M538 309.2h1.3M458 217.1h1.3M500.9 281.9h1.3M486.4 232.4h1.3M430.1 239.1h1.3M535 190.8h1.3M444.7 212.6h1.3M527.3 278.9h1.3M454.7 211h1.3M418.8 262.5h1.3M450.7 199.8h1.3M477.1 190.7h1.3M494.8 229.8h1.3M443 236.9h1.3M525.5 273.2h1.3M471.8 221h1.3M466.9 209.5h1.3M511.9 266.9h1.3M524.3 284.9h1.3M471.9 219.4h1.3M470.9 266.3h1.3M485.5 286.2h1.3M496.6 230h1.3M545.8 233.5h1.3M536.1 249.9h1.3M537 226h1.3M500.2 269.1h1.3M474.5 198.9h1.3M478.4 261h1.3M512.8 267.7h1.3M426.8 216.6h1.3M478.4 256.6h1.3M479.4 256.9h1.3M479.7 283.3h1.3M415.6 261.4h1.3M490.2 187.2h1.3M446.5 227.7h1.3M524 313.7h1.3M482.9 253.2h1.3M468.7 221.3h1.3M477.3 285.2h1.3M548.8 301.4h1.3M421 283.6h1.3M445.8 203.3h1.3M485.6 272.9h1.3M473.3 233.3h1.3M509 255.5h1.3M497 227.1h1.3M474.2 263.9h1.3M505.6 270h1.3M532.9 242.8h1.3M464.5 253.2h1.3M454.7 289.5h1.3M499.6 281.1h1.3M466.3 258.4h1.3M471.2 229.7h1.3M516.6 269.8h1.3M461.6 250.7h1.3M451.9 232.4h1.3M500.7 193.9h1.3M505.1 268.8h1.3M493.1 257.1h1.3M462.8 200h1.3M498.4 282.5h1.3M482.8 217.3h1.3M468.9 218.9h1.3M508.6 286.1h1.3M494.9 244.5h1.3M433.5 224h1.3M485.6 227.5h1.3M515.5 207.8h1.3M489.8 282.1h1.3M525 261.3h1.3M520.4 260.1h1.3M425.7 182.1h1.3M520.5 246.7h1.3M447.2 248.3h1.3M541 231.3h1.3M521.5 261.6h1.3M414.5 309.9h1.3M550.6 288.1h1.3M472.2 232.7h1.3M452.8 224.6h1.3M499.7 227.3h1.3M511.4 183.2h1.3M482.1 270.4h1.3M468.3 219.1h1.3M532.6 206.2h1.3M451.9 297.4h1.3M557.8 240.9h1.3M515.6 261.4h1.3M504 287.5h1.3M519.1 282h1.3M430.2 229.1h1.3M530.1 242.2h1.3M495.7 252.2h1.3M516.1 312.9h1.3M470.5 232.1h1.3M477.3 223.6h1.3M436.1 218.1h1.3M470.3 259.4h1.3M475.2 244.2h1.3M505.8 282.8h1.3M513.4 260.7h1.3M506 234.3h1.3M455.6 212.4h1.3M449.1 256.1h1.3M465.1 209.4h1.3M490.8 240.1h1.3M453.5 213.7h1.3M525.2 284.9h1.3M525.8 272.4h1.3M432.2 236.3h1.3M441 205.8h1.3M477.5 238.4h1.3M466.9 219.8h1.3M470.6 286h1.3M488.1 275.2h1.3M519.7 292h1.3M431 206.3h1.3M503.5 304.1h1.3M527.3 281.5h1.3M446.5 277.4h1.3M438.9 217h1.3M428.9 218.9h1.3M509.7 238.5h1.3M453.7 201.6h1.3M436.6 234h1.3M499.8 254.3h1.3M544.4 295h1.3M518.5 270.9h1.3M453 248.8h1.3M458.4 229.4h1.3M447.7 230.2h1.3M502 244.6h1.3M492.4 278h1.3M460.1 208.2h1.3M517.4 268.1h1.3M513.4 257.3h1.3M503.6 251.4h1.3M519.3 280.4h1.3M521.5 295.1h1.3M502 260.5h1.3M433 244h1.3M513.5 287.4h1.3M480.1 237.6h1.3M444.7 213.4h1.3M485.8 302.6h1.3M505.1 267.4h1.3M428.6 189.7h1.3M436.1 301.5h1.3M525.6 276.2h1.3M505.2 226.9h1.3M543.1 306.6h1.3M511.2 262.5h1.3M441.4 224.4h1.3M445 205.6h1.3M484.4 228.4h1.3M450.3 214.3h1.3M437 233h1.3M509.7 244.7h1.3M507.5 250.8h1.3M458.5 200.1h1.3M507.9 289.4h1.3M482 298.7h1.3M448.7 229.1h1.3M523.1 272.9h1.3M538 219.1h1.3M477 228.1h1.3M497.1 284.1h1.3M415.8 284.8h1.3M529.4 270.2h1.3M489.3 233h1.3M488.6 282.4h1.3M494.9 230.6h1.3M506.4 273.1h1.3M531.4 260.8h1.3M489 191.9h1.3M515.3 255.8h1.3M536.2 256h1.3M511.4 251.4h1.3M456 274.8h1.3M517.6 271.1h1.3M436.8 188.7h1.3M474.2 225.6h1.3M453.5 232.6h1.3M526.1 246.3h1.3M438.7 219.5h1.3M462.4 230.5h1.3M512.9 263.3h1.3M458.4 205.9h1.3M478.3 293.4h1.3M511.3 258.9h1.3M462.5 275h1.3M473.5 210.7h1.3M527.1 269.4h1.3M437.7 207.8h1.3M469.9 236.7h1.3M499.7 311.2h1.3M494.2 227.5h1.3M486.2 284.5h1.3M480.7 235.6h1.3M480 242.9h1.3M523 279.9h1.3M509.1 257.3h1.3M557.2 220.2h1.3M504.8 257.4h1.3M469.4 233.8h1.3M498.3 249.2h1.3M513.9 209.5h1.3M532.3 229.2h1.3M446.3 241.5h1.3M480.8 226h1.3M536.7 217.6h1.3M496.3 255.2h1.3M427.7 214.2h1.3M428.3 241.1h1.3M465.2 263.5h1.3M515.8 271.2h1.3M545.1 239.9h1.3M463.2 199.5h1.3M421.6 200.5h1.3M422.1 183.1h1.3M514.3 288.3h1.3M470.6 242.8h1.3M418.1 276.6h1.3M483.8 231.6h1.3M455.9 191.9h1.3M460.2 202.9h1.3M520.6 287.5h1.3M466.3 240.1h1.3M481.4 258.1h1.3M417.8 223.4h1.3M516 265h1.3M525.9 209.4h1.3M492.6 258.7h1.3M511.7 263.6h1.3M502.8 205.8h1.3M482.8 243.5h1.3M538.8 257.7h1.3M459.9 205.1h1.3M485.9 219.6h1.3M438.9 309.1h1.3M525.3 285.5h1.3M426.3 205.3h1.3M488.6 279.6h1.3M490 263.1h1.3M450.5 232h1.3M458.4 258.5h1.3M489.3 254h1.3M517.3 237.1h1.3M412.8 297.8h1.3M503.1 288h1.3M507.5 245.1h1.3M451.5 251.5h1.3M454.5 297.1h1.3M513.2 255h1.3M483.1 280.4h1.3M512.8 237.2h1.3M449.3 231.1h1.3M483 248.3h1.3M434.5 233.8h1.3M462.7 263h1.3M418.6 275h1.3M450.2 210.5h1.3M452.7 213.3h1.3M410.8 199h1.3M456.3 228h1.3M431.8 311.1h1.3M506.6 239.4h1.3M470.8 224.6h1.3M526.4 282.2h1.3M527.2 274.3h1.3M524.4 268.3h1.3M489.6 275.2h1.3M522.2 256h1.3M473.2 237.9h1.3M463.7 212.2h1.3M522.3 276.4h1.3M460.1 257.2h1.3M486.4 261h1.3M464.3 211.9h1.3M481.8 309h1.3M538 193.4h1.3M413.9 284.2h1.3M512.8 254.7h1.3M442.6 243.5h1.3M477.9 254.6h1.3M509.9 295.1h1.3M486.9 245.2h1.3M439.2 193.6h1.3M483.8 226.5h1.3M467.9 264.7h1.3M495.9 270.3h1.3M474.9 208h1.3M436.1 208h1.3M497.9 276.6h1.3M469.9 278.1h1.3M518.5 275.6h1.3M456.5 226.9h1.3M503.2 288.6h1.3M436.5 193.6h1.3M428.7 223.6h1.3M530 268.1h1.3M460.1 202.2h1.3M486.1 289.8h1.3M497.8 276.5h1.3M469.4 213.7h1.3M466.9 269.2h1.3M474.1 245h1.3M504.4 200.2h1.3M483.7 247.7h1.3M485.2 235.4h1.3M523.1 238.9h1.3M438.6 233.6h1.3M487.1 224.1h1.3M468 244h1.3M502.7 253.8h1.3M537.1 316.9h1.3M529.6 275.7h1.3M442.1 239.1h1.3M437.7 203.1h1.3M467.8 261.9h1.3M458.3 292h1.3M506.8 195.6h1.3M475.8 255h1.3M423.8 228.9h1.3M508.4 253.5h1.3M439.5 181.8h1.3M451.2 250.8h1.3M490.9 219.3h1.3M432.1 275.9h1.3M516.4 259.3h1.3M433.7 308.1h1.3M460 258.2h1.3M463.4 210.5h1.3M475.5 240.1h1.3M469.7 273.6h1.3M522.7 275.8h1.3M519.3 260.9h1.3M473 239.9h1.3M489.5 273.6h1.3M440.9 209.5h1.3M492 259.4h1.3M449.2 243.3h1.3M472.1 202h1.3M517.1 257h1.3M445.1 244h1.3M524.8 244.8h1.3M501.1 261h1.3M441.5 219.7h1.3M435 215.9h1.3M470.3 257.2h1.3M475.4 224.3h1.3M439.6 223.7h1.3M459.5 203.9h1.3M539.6 245.6h1.3M535 276.4h1.3M488.9 227.7h1.3M523.6 288.9h1.3M492.6 266.7h1.3M451 255.9h1.3M502.4 230.3h1.3M433.7 316.5h1.3M486.8 249.6h1.3M513.3 278.8h1.3M468 270.9h1.3M489.6 199.2h1.3M451.3 201.7h1.3M500.9 286.1h1.3M530 210.1h1.3M523.8 197.3h1.3M497.2 231h1.3M469 292.8h1.3M426.5 259.1h1.3M474.3 259.1h1.3M420.9 230.1h1.3M534.4 283.2h1.3M444.4 199h1.3M495.9 262.5h1.3M533.5 263h1.3M474.4 262.4h1.3M520.5 283.4h1.3M484.7 222.4h1.3M446.2 218.7h1.3M523.2 261.8h1.3M464.6 213.2h1.3M464.9 253.4h1.3M453.8 215.5h1.3M474.1 239.2h1.3M516.6 252h1.3M507.7 274.4h1.3M496.1 233.6h1.3M500.3 291.9h1.3M436.5 291.7h1.3M444.5 236.5h1.3M424.4 216.6h1.3M518.5 289.5h1.3M514 269.5h1.3M446.5 208.4h1.3M517.9 286h1.3M533 301.5h1.3M471.8 208.1h1.3M468.6 202.5h1.3M469 287.3h1.3M455.5 258h1.3M530.2 286.7h1.3M491.1 203.4h1.3M453 278.8h1.3M479.2 233.6h1.3M499.7 270h1.3M455.3 195.9h1.3M502.3 312.2h1.3M505.2 264.7h1.3M528.6 273.7h1.3M510.1 211.9h1.3M480.3 271.8h1.3M533.9 254.9h1.3M555.1 290.2h1.3M444.3 212.5h1.3M431.5 230h1.3M443.7 229h1.3M450.6 193.2h1.3M504.2 233.3h1.3M427.5 273.4h1.3M535.3 235.1h1.3M533.2 303.7h1.3M523.8 248.8h1.3M495 316.2h1.3M514 286.5h1.3M419.4 309.2h1.3M518.8 265.2h1.3M449.7 244.6h1.3M433.7 180.8h1.3M425 221.9h1.3M437 216.1h1.3M453.2 256.4h1.3M446 248h1.3M521.3 273.8h1.3M496.4 227.6h1.3M429.7 233.6h1.3M473 205.9h1.3M484.3 261.9h1.3M467.8 250.2h1.3M536.5 278.2h1.3M486.2 255.7h1.3M502.6 232.2h1.3M519.6 242.4h1.3M504.6 232.7h1.3M492.7 263.4h1.3M443.5 223.7h1.3M532.5 262h1.3M498.9 292.2h1.3M445.2 298.9h1.3M519.7 269.8h1.3M501.9 243.7h1.3M486.5 204.2h1.3M472.4 231.2h1.3M446.3 204.4h1.3M533.5 223.8h1.3M441.9 205.7h1.3M485.3 299.4h1.3M442.7 233.6h1.3M485.2 210.7h1.3M456.3 207.8h1.3M469.8 214.4h1.3M430.3 204.9h1.3M461.7 198.4h1.3M471 256.2h1.3M555.5 278.2h1.3M470.9 242.3h1.3M465.6 235.7h1.3M516.4 283.3h1.3M468 269.5h1.3M480.2 216.7h1.3M510.9 221.7h1.3M486.5 265.3h1.3M436 298.9h1.3M454.9 249.1h1.3M470.7 198.5h1.3M488.5 259.5h1.3M487.9 278.1h1.3M475.9 276.2h1.3M475.7 245.8h1.3M482.6 284.8h1.3M478.7 274.4h1.3M472.5 298h1.3M449.7 211.3h1.3M512.4 256.3h1.3M425 260.4h1.3M498.8 246.6h1.3M519.8 269.6h1.3M481.1 273.4h1.3M487 209.9h1.3M519.6 279.7h1.3M476.4 211.2h1.3M454.1 267.1h1.3M481.5 221.5h1.3M524.3 270.5h1.3M524.2 280.8h1.3M450.3 207.7h1.3M449.2 287.3h1.3M470.5 258.2h1.3M506.9 242.6h1.3M524.8 269.4h1.3M523.4 249.8h1.3M494.1 185.6h1.3M464.8 221.7h1.3M420.4 264.7h1.3M432.3 235.8h1.3M466.2 218.9h1.3M499.6 259.5h1.3M451.3 237.3h1.3M431.6 228.7h1.3M451.9 212.3h1.3M493.9 257.2h1.3M500.8 244.2h1.3M422.1 250.3h1.3M517.9 253.5h1.3M519.9 247.4h1.3M452 253.8h1.3M468.6 255.6h1.3M459.4 209.1h1.3M513.4 252.5h1.3M555.8 261.1h1.3M459 290.8h1.3M490.5 269.1h1.3M500.9 298.9h1.3M523.9 283h1.3M500.4 243.6h1.3M530.1 270h1.3M479.9 317.5h1.3M452.6 208.3h1.3M504.8 249.8h1.3M462.6 189.9h1.3M504.6 235.5h1.3M455.3 215.7h1.3M511.7 250.6h1.3M457.7 253.5h1.3M524 318.3h1.3M441.6 201.1h1.3M516.3 243.8h1.3M445.2 239.1h1.3M552 308.6h1.3M440.7 212.6h1.3M458.4 207.2h1.3" stroke="#7a7004" stroke-width="1.3" stroke-opacity="1" fill="none"/>
<text x="532.5" y="202.5" font-size="18" fill="#f2e600" font-weight="bold" text-anchor="start" >O</text>
<path d="M683.3 230.5h1.5M635.4 217.9h1.5M674.6 279.6h1.5M607.9 255.3h1.5M630.5 273.6h1.5M636.7 253.9h1.5M646 270.7h1.5M596 216.1h1.5M607.4 237h1.5M615 209.1h1.5M669.9 250.5h1.5M585.2 208.1h1.5M617.3 248.9h1.5M702.6 277.8h1.5M680.8 296.8h1.5M668.8 277.7h1.5M627.3 205.2h1.5M677.1 270.1h1.5M686.2 281.6h1.5M590.2 249.5h1.5M630.2 213.4h1.5M649.1 264.3h1.5M666.6 271.5h1.5M640.5 271.4h1.5M680.4 259.3h1.5M666.5 243.5h1.5M647.1 247.6h1.5M663.1 252.9h1.5M663 240.7h1.5M649 253.6h1.5M645.7 292.3h1.5M649.4 272.4h1.5M586.2 311.8h1.5M614 272.2h1.5M671.1 240.4h1.5" stroke="#b85410" stroke-width="1.5" stroke-opacity="1" fill="none"/>
<path d="M661.2 273.2h1.5M601.9 223h1.5M621.3 291h1.5M622.2 219.9h1.5M700.5 300.6h1.5M630.3 258.2h1.5M622.6 219.6h1.5M577.8 267.2h1.5M642.1 288h1.5M624.3 223.4h1.5M601.6 217.3h1.5M672.9 240.7h1.5M673.5 281.9h1.5M610.3 263.7h1.5M614.2 236.6h1.5M626.6 230.4h1.5M596.7 246.6h1.5M633.7 251.2h1.5M611.3 220.9h1.5M644.1 214.1h1.5M653.1 282.9h1.5M602.1 221.8h1.5M610 208.2h1.5M629.9 251.5h1.5M632.5 274.3h1.5M611.6 237h1.5M587.1 213.6h1.5M705.2 195.9h1.5M619.7 269.8h1.5M618 305.9h1.5M625.7 234.1h1.5M634.9 275.7h1.5M649.4 250.1h1.5M605.8 260.4h1.5M626.7 264h1.5" stroke="#8a4008" stroke-width="1.5" stroke-opacity="1" fill="none"/>
<path d="M568.2 239.8h1.5M690.5 302.5h1.5M626.4 310.6h1.5M623.1 285.5h1.5M616.7 248.5h1.5M593.8 240.3h1.5M676.1 253.4h1.5M637.3 238.3h1.5M668.8 247.4h1.5M652.5 236.5h1.5M632.2 219.8h1.5M650.4 282.5h1.5M603.4 240.4h1.5M663.4 261.6h1.5M662.8 252.4h1.5M615.3 205.9h1.5M593.7 229.1h1.5M619.2 253.8h1.5M665 307.4h1.5M679.3 270.8h1.5M665 277.6h1.5M597.1 221.7h1.5M615.5 262.1h1.5M577 201.5h1.5M634.1 250.3h1.5M602.4 251.8h1.5M583.4 209.3h1.5M614.3 242h1.5M634.3 239.9h1.5M686.1 245.7h1.5M658.1 253.7h1.5M640 202.1h1.5M627.2 228.8h1.5M635.2 236.3h1.5M706.8 223.4h1.5" stroke="#5a2a06" stroke-width="1.5" stroke-opacity="1" fill="none"/>
<text x="676.2" y="203" font-size="18.2" fill="#e87820" font-weight="bold" text-anchor="start" >Mn</text>
<rect x="721" y="35.5" width="300" height="285" fill="#000"/>
<rect x="721" y="35.5" width="149.5" height="142" fill="#101010"/>
<g clip-path="url(#cpc)">
<path d="M773.6 71.5 L790.1 64.6 L806.6 62.6 L823.2 63.3 L834.2 70.2 L845.2 79.8 L849.3 86.7 L843.8 99.1 L839.7 110.1 L831.4 119.7 L820.4 125.2 L812.1 126.6 L808 132.1 L801.1 143.2 L790.1 151.4 L776.3 152.8 L765.3 148.7 L755.7 140.4 L746 132.1 L741.9 121.1 L746 112.9 L754.3 100.5 L762.5 86.7 L768.1 78.4Z" fill="#a8a8a8" filter="url(#bl)"/>
<ellipse cx="795" cy="88" rx="22" ry="12" fill="#9c9c9c" filter="url(#bl2)"/>
<path d="M812.1 82.5 L823.2 77 L834.2 75.7 L843.8 86.7 L839.7 100.5 L834.2 112.9 L823.2 121.1 L812.1 125.2 L812.1 110.1 L813.5 96.3Z" fill="#c4c4c4" filter="url(#bl)"/>
<ellipse cx="826" cy="92" rx="8" ry="12" fill="#d4d4d4" filter="url(#bl2)"/>
<path d="M755.7 105.3 L769.4 106 L783.2 110.1 L795.6 112.9 L803.9 118.4 L809.4 126.6 L805.2 134.9 L797 144.5 L787.3 151.4 L776.3 152.1 L766.7 148.7 L761.2 140.4 L757.7 129.4 L755.7 117Z" fill="#eeeeee" filter="url(#bl)"/>
<ellipse cx="778" cy="125" rx="16" ry="14" fill="#fbfbfb" filter="url(#bl2)"/>
<ellipse cx="748" cy="125" rx="4" ry="10" fill="#a4a4a4" filter="url(#bl)"/>
<path d="M721 88 L733 84 L736 92 L728 104 L721 106 Z" fill="#3a3a3a" filter="url(#bl)"/>
</g>
<path d="M721 177.7 H1021" stroke="#a0a0a0" stroke-width="1"/>
<path d="M562 178.3 H573" stroke="#7a3a10" stroke-width="0.8"/>
<text x="726" y="55.6" font-size="18.3" fill="#f4f4f4" font-weight="bold" text-anchor="start" >Discharged</text>
<path d="M929.6 134.4h1.3M959 79.1h1.3M932.1 128.3h1.3M925.7 90.7h1.3M932.5 88.3h1.3M941.1 89h1.3M929.4 122.1h1.3M978.3 79.3h1.3M918.2 134.4h1.3M919.8 132h1.3M917 148.7h1.3M946.8 100.9h1.3M978.3 70.3h1.3M969.5 74.8h1.3M1018.8 157.7h1.3M926.7 90.6h1.3M948.5 106.5h1.3M929.8 126.6h1.3M942.1 83.7h1.3M920.7 122h1.3M913.9 105.5h1.3M944.3 100h1.3M982.6 108.2h1.3M965.5 112.7h1.3M963.6 90.1h1.3M923.8 92.8h1.3M902.5 143.6h1.3M985.6 93.3h1.3M937.3 137.5h1.3M919 120.6h1.3M943.8 90.4h1.3M971.4 107.5h1.3M924.5 132.9h1.3M937.6 143.1h1.3M959.1 97.6h1.3M962.5 77.6h1.3M984.3 99.3h1.3M982.1 89.4h1.3M952.5 132.9h1.3M982.1 94.1h1.3M953.9 67.3h1.3M912.3 142.8h1.3M912.2 134.9h1.3M936.5 132.4h1.3M944.1 115.9h1.3M927.8 141.2h1.3M944.1 120.1h1.3M965.7 84.7h1.3M937.1 124.1h1.3M925.6 99h1.3M965.7 115.1h1.3M904.5 118.2h1.3M962.1 89.1h1.3M932.3 126.4h1.3M959.9 77.7h1.3M988.3 95.9h1.3M977.3 87h1.3M925.7 94.2h1.3M932.1 76.2h1.3M986.3 80.7h1.3M949.1 70.7h1.3M930.2 131.3h1.3M903.8 104.6h1.3M904.9 116.2h1.3M986.1 77.4h1.3M914.5 138.4h1.3M937 145.5h1.3M953.9 112.9h1.3M963.1 99.4h1.3M922.5 109.8h1.3M948 72.9h1.3M991.8 93.7h1.3M935.6 99.5h1.3M935.3 121.5h1.3M947.4 132.5h1.3M938.6 89.2h1.3M941.5 129.6h1.3M972.8 106.1h1.3M908 116.5h1.3M936.2 112.2h1.3M926 122.6h1.3M921.8 137.8h1.3M918.4 114.8h1.3M920.3 100.2h1.3M943.5 74.3h1.3M949.2 106.4h1.3M951.5 132.3h1.3M928.1 82.8h1.3M905.7 111.6h1.3M956 98.9h1.3M959.7 104h1.3M940.1 115.8h1.3M960.7 110.3h1.3M918.1 145.1h1.3M919 106.5h1.3M927.9 145.2h1.3M923.8 94.5h1.3M931 115.6h1.3M933.4 127.5h1.3M928.8 130h1.3M944 84.9h1.3M936.2 111.4h1.3M981 79.9h1.3M912.2 98.6h1.3M949.7 113h1.3M948.7 102.1h1.3M937.3 79.4h1.3M914.6 109.5h1.3M907.6 128.9h1.3M904.8 136.3h1.3M942.4 112.2h1.3M975.3 85.6h1.3M938 106.3h1.3M951.8 65h1.3M965 116.7h1.3M911.4 122.5h1.3M967.6 103.4h1.3M929.2 139h1.3M912.3 143.3h1.3M945.4 127h1.3M961.1 85.2h1.3M955.7 123h1.3M934.6 130.4h1.3M951.3 79.6h1.3M977.2 103.7h1.3M977.3 78.1h1.3M972.8 101h1.3M943.5 88.7h1.3M959.5 122.8h1.3M960.6 121.7h1.3M927.6 144.3h1.3M969 91.1h1.3M938.9 100.5h1.3M956.9 97.5h1.3M940.3 61.7h1.3M961 103.2h1.3M937.1 122.6h1.3M983.4 72.3h1.3M964.7 98.8h1.3M912.1 142.8h1.3M939.1 102.7h1.3M973.8 99.1h1.3M911.5 134.6h1.3M955.9 84.2h1.3M931.6 139.6h1.3M981.7 85h1.3M934.5 131.6h1.3M966.5 120h1.3M983.9 88.2h1.3M923.8 89.8h1.3M931.9 124.1h1.3M926.8 116h1.3M960.4 88.2h1.3M937.5 137.6h1.3M935.9 108.9h1.3M922.3 90.6h1.3M935.7 110.4h1.3M954.4 73.3h1.3M969.7 113h1.3M962.4 105.7h1.3M968.4 95.1h1.3M968.3 109.6h1.3M950 74.8h1.3M944 93.5h1.3M966.2 76.2h1.3M963.9 88.2h1.3M922.8 153.1h1.3M953.1 77.6h1.3M954.8 92.4h1.3M897.3 93.7h1.3M910.3 130.4h1.3M947.4 74.7h1.3M905 130.5h1.3M947.9 76h1.3M933.4 108.1h1.3M957.7 125.3h1.3M953.9 130h1.3M951.9 82.4h1.3M958.2 70.9h1.3M945.5 88.5h1.3M917.2 102h1.3M912.9 118.9h1.3M933.6 102.1h1.3M911 139.8h1.3M977.4 77.6h1.3M966.4 110.2h1.3M975.9 79.9h1.3M928.5 112.9h1.3M908.6 111.2h1.3M922.6 112.6h1.3M945.3 90.4h1.3M954.2 96.5h1.3M918.5 117.1h1.3M934.5 112.4h1.3M942.3 82.6h1.3M936.6 136.4h1.3M927.2 103.4h1.3M989.1 103.4h1.3M959.6 74.1h1.3M931.6 104.4h1.3M913.3 89.4h1.3M951.4 75.2h1.3M949.2 124.5h1.3M929.1 143.9h1.3M956.5 128.4h1.3M937.4 106.7h1.3M941.2 76h1.3M963.8 86.6h1.3M926.7 92.6h1.3M957.6 130.2h1.3M956.8 96.9h1.3M900.1 121h1.3M979.3 83.2h1.3M958.4 117.5h1.3M923.8 141.1h1.3M933.4 109.6h1.3M933.8 114.4h1.3M937.5 84.3h1.3M920 122.8h1.3M964.1 68.6h1.3M965.7 82.3h1.3M962.2 120h1.3M926.7 118.1h1.3M976.5 92.7h1.3M939.3 67.7h1.3M922.8 107.6h1.3M936.7 100.6h1.3M900.8 133.9h1.3M952.8 136.7h1.3M928.3 128.8h1.3M984 81.6h1.3M914 137.1h1.3M973.6 117.4h1.3M944.5 111.1h1.3M951.1 116.8h1.3M973.3 94.1h1.3M961.6 110.6h1.3M929.5 94.2h1.3M900.4 142.3h1.3M932 139.7h1.3M967.1 100.9h1.3M928.2 116.8h1.3M936.8 149.3h1.3M915.3 112.9h1.3M959.3 80.2h1.3M951.9 71.3h1.3M954.8 90.7h1.3M907.3 125.7h1.3M928.3 147h1.3M910.5 139.3h1.3M919.7 120.9h1.3M965.6 121.9h1.3M924.7 111.3h1.3M952.3 134.7h1.3M977.8 98h1.3M958 74.4h1.3M960.5 117.6h1.3M938.5 99.5h1.3M951.5 133.1h1.3M969.6 102.1h1.3M930.1 135.6h1.3M932.7 135.1h1.3M941.4 111.1h1.3M947 90.5h1.3M952 117.5h1.3M961.1 102.7h1.3M940.8 92.6h1.3M965.2 81.8h1.3M943.3 69.7h1.3M911.5 146h1.3M930.8 140.8h1.3M920.4 84.7h1.3M953.9 62.9h1.3M930.4 133.8h1.3M921.6 122.3h1.3M943.5 132.8h1.3M934.6 83.2h1.3M927 107.5h1.3M879.2 51h1.3M943 113h1.3M948.3 86.4h1.3M957.8 97.3h1.3M928.2 146.3h1.3M924.4 134.9h1.3M950.8 93.8h1.3M931 125.1h1.3M987.1 80.2h1.3M896.4 130.7h1.3M961.8 86h1.3M940 127.2h1.3M895.4 113h1.3M981.5 85.9h1.3M908.7 118.9h1.3M950.6 103h1.3M953.2 104.5h1.3M908.9 110.7h1.3M899.9 128.4h1.3M985.4 86.3h1.3M934.9 91h1.3M933.3 93.8h1.3M965.8 97.6h1.3M932.8 119h1.3M982.8 77.5h1.3M971 86.5h1.3M908.8 111.8h1.3M946.2 138.8h1.3M933 136.8h1.3M918.1 127.3h1.3M944.9 117.7h1.3M915.8 108.4h1.3M938.1 81h1.3M925.8 120.8h1.3M943.1 133.8h1.3M920.5 86.7h1.3M938.2 112h1.3M942.1 92h1.3M902.4 114.6h1.3M923.6 128.9h1.3M940.7 92.4h1.3M921.6 94.6h1.3M962.2 80.4h1.3M945.5 125.3h1.3M922.3 148.7h1.3M947.2 121h1.3M943 136.7h1.3M954.9 75.1h1.3M937.3 111h1.3M984.9 94.9h1.3M989.4 89.2h1.3M958.8 82.2h1.3M930.4 138.8h1.3M954.5 121.6h1.3M953.6 137.2h1.3M942 73.7h1.3M943.3 96.5h1.3M924.6 131.8h1.3M978.8 83.8h1.3M975.1 76.2h1.3M943.3 114.3h1.3M931.7 66.1h1.3M954.6 110.3h1.3M909.4 95.9h1.3M960.1 109.6h1.3M958 116.8h1.3M918.5 95h1.3M978.2 104.8h1.3M985.9 95h1.3M922.6 123.8h1.3M966.3 101.5h1.3M930.2 94.1h1.3M964.4 86.5h1.3M965.8 114.9h1.3M915.2 144.5h1.3M964 123.6h1.3M909.6 129.8h1.3M956.8 117.6h1.3M963.4 89.3h1.3M969.6 85.1h1.3M896 121.9h1.3M952.7 128h1.3M937.9 116.1h1.3M921.1 144.4h1.3M971.6 92.7h1.3M968.1 113.7h1.3M966.2 109.6h1.3M947.6 71.4h1.3M944.3 121.7h1.3M974.9 112.8h1.3M997.5 92.1h1.3M915.8 144.6h1.3M946.5 90.6h1.3M929.2 87.7h1.3M932 141.3h1.3M952.5 132.8h1.3M917.8 128.9h1.3M893.2 150.2h1.3M915.8 131.7h1.3M942.4 114.5h1.3M905.6 130.1h1.3M961.7 109.2h1.3M943.1 131.9h1.3M962.5 98.2h1.3M991.2 89.7h1.3M968 107.6h1.3M920.9 92.4h1.3M966 124h1.3M980.2 93.5h1.3M921.1 139.4h1.3M938.4 72.6h1.3M947.4 98.8h1.3M932.3 81.1h1.3M970.1 73.7h1.3M955.1 123.6h1.3M936.6 127.9h1.3M916.9 146.3h1.3M909.4 136.2h1.3M972.6 110.1h1.3M961.4 102.4h1.3M967.4 98.5h1.3M911.6 137h1.3M959.7 96.3h1.3M926.5 120.9h1.3M904.1 130.5h1.3M926.3 91.3h1.3M937.7 79h1.3M975.9 68.5h1.3M923 144.7h1.3M916.5 96h1.3M940.7 123.2h1.3M960.3 108.4h1.3M895 114.6h1.3M933.3 119.7h1.3M966.9 119.1h1.3M929.2 94h1.3M933.4 71.9h1.3M941.2 90.2h1.3M948.9 128.8h1.3M971.5 99.6h1.3M926.2 104.3h1.3M932.5 131.8h1.3M938.2 81.6h1.3M928.5 116.4h1.3M899 106.3h1.3M909 124.9h1.3M913.1 105.5h1.3M971.6 103h1.3M978 94.4h1.3M926.9 98.7h1.3M919.2 95.9h1.3M938.7 111.2h1.3M935.1 107.1h1.3M977.3 79.7h1.3M978.7 80.1h1.3M908.6 117.3h1.3M965.6 105.8h1.3M907.4 134.3h1.3M946.8 66.9h1.3M997.2 77h1.3M948.6 132.8h1.3M916.3 116.7h1.3M983.1 76.4h1.3M927.2 97.7h1.3M925.7 96.6h1.3M931.2 78.9h1.3M896.3 125.8h1.3M914.2 129.7h1.3M989.1 92.1h1.3M974.4 94h1.3M941.1 92.1h1.3M947.7 114.2h1.3M926.6 122.8h1.3M913.7 118.1h1.3M950.6 87.5h1.3M937.4 145.6h1.3M952 80.6h1.3M907.5 107.7h1.3M933.8 122.5h1.3M932.3 70.5h1.3M994.6 91.9h1.3M940.8 64.2h1.3M962.6 114.7h1.3M924.7 85.1h1.3M918.3 140.2h1.3M955.1 102.9h1.3M943.3 104.3h1.3M990.6 111.1h1.3M953.1 74.7h1.3M922.2 82.7h1.3M922.7 100.5h1.3M966.7 112h1.3M943.3 90.1h1.3M950 78.2h1.3M963.3 83.8h1.3M955.1 93.3h1.3M968.8 70h1.3M961.1 122.5h1.3M965.8 86.9h1.3M961.6 99.2h1.3M932.1 112.5h1.3M935.8 85.4h1.3M928.2 130.5h1.3M928.2 99.4h1.3M942.7 132.4h1.3M930.4 120.7h1.3M986.5 107.4h1.3M943.9 68.8h1.3M968 75.7h1.3M958.2 85.7h1.3M959.8 68.7h1.3M939.9 121.5h1.3M986.8 94.3h1.3M943.3 114.1h1.3M966.3 116.2h1.3M960.3 120h1.3M956.4 120.9h1.3M934.3 101.9h1.3M922.6 130h1.3M949.8 86.9h1.3M979.3 101.8h1.3M921.2 92.9h1.3M896.4 118.5h1.3M942.3 113.8h1.3M984.8 93.3h1.3M964.7 78.5h1.3M960.8 118.6h1.3M967.4 106.9h1.3M965.7 105.3h1.3M958.9 93h1.3M941.6 103h1.3M906.8 137h1.3M928.5 125.1h1.3M939 138.8h1.3M898.6 113.8h1.3M896 124.1h1.3M949.2 69.3h1.3M937.8 75.1h1.3M913.8 140h1.3M896.6 126.5h1.3M982.8 83.2h1.3M961.7 103.8h1.3M924.6 116.7h1.3M939.7 96h1.3M936.7 120.4h1.3M901.1 134.7h1.3M971.4 83.9h1.3M930.3 143.1h1.3M917 96.9h1.3M969.2 75.2h1.3M934.8 130.6h1.3M952.7 82.8h1.3M929.8 139.6h1.3M982.9 73.7h1.3M962.5 172.4h1.3M980.7 103.4h1.3M978.7 67h1.3M969 75.9h1.3M922.6 138.6h1.3M920.8 122.2h1.3M937.1 83.4h1.3M924.8 114.4h1.3M955.4 106.7h1.3M982.2 91.1h1.3M965.5 78.7h1.3M929.7 75.6h1.3M951.1 71.4h1.3M955.5 129.3h1.3M928.5 84.1h1.3M925.4 127.7h1.3M912.1 144.7h1.3M901.9 141.6h1.3M968.6 113.6h1.3M948.1 69.1h1.3M922.7 98h1.3M975.9 79h1.3M949.1 122.8h1.3M930.8 146.4h1.3M932.3 85.3h1.3M950.2 135.7h1.3M944.5 141.6h1.3M955.7 65.1h1.3M948.5 65.6h1.3M909.3 134.7h1.3M946.7 65.4h1.3M960.2 92h1.3M962.1 70.1h1.3M956.1 107.6h1.3M941.3 138.1h1.3M909.1 112.1h1.3M963.1 113.5h1.3M987.4 94.8h1.3M921.6 145.9h1.3M925.9 133.4h1.3M980 88h1.3M968 76.9h1.3M947.9 101.8h1.3" stroke="#48a820" stroke-width="1.3" stroke-opacity="1" fill="none"/>
<path d="M973.4 87.7h1.3M943.5 69.5h1.3M931 79.2h1.3M932.7 116.5h1.3M896.6 131h1.3M952.6 79h1.3M943 82.1h1.3M916.8 105.7h1.3M910.6 111.5h1.3M944 127.8h1.3M926.7 149.9h1.3M969.3 106.2h1.3M943.9 126.6h1.3M980.7 71.6h1.3M947.1 93.6h1.3M919.1 102.9h1.3M947.7 137.2h1.3M938.5 118.2h1.3M949.6 99.4h1.3M898.5 134.2h1.3M947 132.5h1.3M975.8 104.8h1.3M951.3 98.7h1.3M940.3 111.7h1.3M928.9 78h1.3M962.3 85.6h1.3M978.8 88.6h1.3M953.5 72.5h1.3M961.2 81.9h1.3M908.6 128h1.3M929.7 128.9h1.3M921 82.1h1.3M934.3 95.5h1.3M925 112.2h1.3M946.7 87.2h1.3M963.8 127.4h1.3M981 96h1.3M908.2 141.9h1.3M930.9 135.8h1.3M903 118.3h1.3M898.4 126.4h1.3M915.5 112.7h1.3M973.1 100.5h1.3M908.9 118.9h1.3M922.8 149h1.3M938.6 123.9h1.3M958.2 115.7h1.3M953.9 100.8h1.3M930.6 77.4h1.3M958.5 81.3h1.3M965.8 81.5h1.3M903.8 106.4h1.3M937.9 84h1.3M963.3 100.1h1.3M934.1 106.4h1.3M949 96.1h1.3M934.1 80.5h1.3M931 112.4h1.3M978.1 111.2h1.3M928 78h1.3M925.4 76h1.3M964.5 110.7h1.3M910 120.1h1.3M930.5 123.4h1.3M933.8 94.8h1.3M953.3 77.8h1.3M913.5 100.1h1.3M928.8 85h1.3M938.7 113.5h1.3M948.5 127.2h1.3M925.9 93.1h1.3M924.9 79.4h1.3M949.7 71.7h1.3M950.1 108.4h1.3M946 128.6h1.3M905.9 124.6h1.3M957.6 87.8h1.3M899.8 128h1.3M939 75.3h1.3M946.8 115.5h1.3M929.2 135.6h1.3M973.4 103.8h1.3M939.6 98.4h1.3M971.4 93.5h1.3M921.2 137.6h1.3M954.4 92.1h1.3M978.3 72.4h1.3M934.2 86.8h1.3M925.3 109h1.3M926.9 87.3h1.3M915.5 105.4h1.3M949.8 81.6h1.3M929.3 111h1.3M958.8 82.1h1.3M943.7 85.7h1.3M950.9 95.1h1.3M955.1 96.6h1.3M955.5 89.8h1.3M944.7 66.7h1.3M907.3 117h1.3M926.2 115h1.3M899.9 122.2h1.3M918.1 129.4h1.3M938 88h1.3M955 89.2h1.3M948.8 80.1h1.3M950.4 93h1.3M959.4 107.4h1.3M933.2 142.8h1.3M977.9 114.6h1.3M950.9 124.9h1.3M949.2 70.9h1.3M979.4 96.8h1.3M969.2 93.7h1.3M925.9 150.3h1.3M903.6 119.6h1.3M930.3 78.4h1.3M940 87.8h1.3M927.2 104.4h1.3M940.6 128.4h1.3M922.3 125.7h1.3M995.8 87.4h1.3M975.7 73.4h1.3M944.4 121.3h1.3M923.7 105.9h1.3M969.1 105h1.3M950.4 100.2h1.3M987.7 87.3h1.3M922.6 149.8h1.3M976.7 93.3h1.3M935.3 146.8h1.3M976.1 107.1h1.3M970 84.4h1.3M925.9 88.9h1.3M890.2 139h1.3M980.4 142.1h1.3M960.8 64.1h1.3M937.5 137.3h1.3M958.3 97.5h1.3M904.4 134.2h1.3M930.5 159.6h1.3M941.9 103.6h1.3M956.1 134.2h1.3M909.5 72.7h1.3M978.4 92.2h1.3M959.8 101.5h1.3M902 128.2h1.3M949.9 122.6h1.3M920.2 146.9h1.3M980.6 95.8h1.3M988 80.1h1.3M981.3 86.3h1.3M959.8 96.5h1.3M922.7 105.4h1.3M943.1 117.1h1.3M922.8 142.5h1.3M935.1 132.4h1.3M958.3 77.6h1.3M936 88.4h1.3M935.1 106.5h1.3M929.8 97.6h1.3M960.3 90h1.3M931.5 122.3h1.3M921.5 141.9h1.3M956.6 88.3h1.3M910.8 137.8h1.3M924.6 124.5h1.3M943.5 74.1h1.3M934.5 125.1h1.3M910 128.8h1.3M952.5 111.5h1.3M909.1 106.2h1.3M937.7 105.9h1.3M927.7 142.8h1.3M952.7 89.3h1.3M924.8 111.7h1.3M894.3 141.6h1.3M896.8 121.7h1.3M943.5 126.2h1.3M962.1 80.7h1.3M941.7 90.5h1.3M946.9 130.3h1.3M969.9 81.1h1.3M927.8 122.9h1.3M921.6 108.4h1.3M985.6 77.9h1.3M929.5 81.6h1.3M932.4 74.7h1.3M926.4 142.7h1.3M957.2 90h1.3M927.8 121.4h1.3M970.6 97h1.3M933.7 80.5h1.3M947.8 74.8h1.3M966.6 79.7h1.3M923.3 131.3h1.3M927.9 90.1h1.3M937.8 146.7h1.3M940.6 107.3h1.3M915.5 132.4h1.3M982 100.4h1.3M918.2 91.8h1.3M962.7 64.5h1.3M921.7 145.2h1.3M954.1 131h1.3M951 130.4h1.3M973.7 101.6h1.3M943.5 77.7h1.3M968.2 103.4h1.3M929.9 142.3h1.3M965.5 93h1.3M926.6 83.7h1.3M929.6 98.9h1.3M931.6 127.1h1.3M915.5 121.8h1.3M937.9 134.6h1.3M946.1 105.7h1.3M916.1 151.5h1.3M986.9 96.1h1.3M909.8 123.3h1.3M922.4 112.5h1.3M911.6 110.5h1.3M944.5 173.3h1.3M983 95.2h1.3M933.2 99.3h1.3M927.6 144.6h1.3M967.6 111.7h1.3M918.9 105.3h1.3M926.9 123.6h1.3M954.2 89.2h1.3M913.8 134.9h1.3M934.6 73.3h1.3M954 103.9h1.3M944.5 113.7h1.3M922.3 138.1h1.3M936.3 86.5h1.3M953.5 63.8h1.3M949 81.9h1.3M922.5 104.3h1.3M969.4 88.4h1.3M962.7 112.7h1.3M902.8 121.3h1.3M950.2 82.3h1.3M963 101h1.3M952.6 118.4h1.3M936.9 105.8h1.3M922.5 127.6h1.3M960.2 121.3h1.3M928.4 151.6h1.3M909.8 123.3h1.3M962.2 71h1.3M928.2 117h1.3M914.6 120.1h1.3M955.1 124.3h1.3M929.9 154.8h1.3M907.9 140.1h1.3M925.1 97.4h1.3M954.6 82.6h1.3M942.4 106.8h1.3M916.3 106h1.3M941.9 69.3h1.3M905 131.8h1.3M916.7 99h1.3M900.6 124h1.3M936.5 73h1.3M983.9 107.6h1.3M943.2 74.8h1.3M969.5 68.8h1.3M922.5 103.5h1.3M954.7 119.1h1.3M952.1 107.9h1.3M953.5 85.3h1.3M958.5 111.4h1.3M959.2 89.8h1.3M975.4 85h1.3M934 79.1h1.3M950.4 88.6h1.3M942.7 100.2h1.3M960.2 77h1.3M937.1 117.9h1.3M968.5 94.8h1.3M941.3 89.2h1.3M993.1 84.5h1.3M937.1 113.3h1.3M959.5 110.6h1.3M960.4 105.9h1.3M906.8 143.6h1.3M923.3 98.7h1.3M951.1 114.8h1.3M920.7 124.8h1.3M926.6 80.9h1.3M985.5 94.5h1.3M973.3 71.4h1.3M937.8 103.7h1.3M949 132.9h1.3M926.9 97h1.3M959.3 123h1.3M936.7 124.5h1.3M923.7 111h1.3M943.5 89.1h1.3M944.2 41.2h1.3M962.6 72.4h1.3M924.1 126.8h1.3M938.5 100.1h1.3M939.4 104.5h1.3M907.1 132h1.3M917.3 93.5h1.3M949.8 83.7h1.3M958.8 106.5h1.3M968.5 90h1.3M922.7 131.3h1.3M954.2 85.7h1.3M968 126.1h1.3M908.4 136h1.3M953.2 123.4h1.3M943.9 89.4h1.3M991.3 84.6h1.3M949.7 123.2h1.3M947.7 104.4h1.3M934.4 120h1.3M988.1 84.4h1.3M926.7 94.9h1.3M894.7 115.7h1.3M906.4 113.7h1.3M963.1 113.6h1.3M898.5 128.2h1.3M969.4 94.9h1.3M943.1 93.2h1.3M970.3 115.8h1.3M905.6 123.1h1.3M935.7 121.9h1.3M946.2 122.9h1.3M904.2 141.5h1.3M924.4 145.3h1.3M932.4 143.5h1.3M978.4 111.1h1.3M924.6 122.1h1.3M936.8 122.2h1.3M965.3 84.4h1.3M934 150.3h1.3M933.8 77.3h1.3M913.5 148.1h1.3M944 121.4h1.3M948.2 108.5h1.3M921.9 129.6h1.3M939.1 105.7h1.3M959.5 103.6h1.3M958.3 109.9h1.3M929.7 135.4h1.3M940.3 76.7h1.3M939.6 135.4h1.3M958.2 74.9h1.3M946.8 68.1h1.3M956.3 114.8h1.3M903.4 138.3h1.3M926 145.1h1.3M948.1 111.3h1.3M936.7 119.7h1.3M959 131.3h1.3M963.3 118.7h1.3M963 120.4h1.3M906.5 103.1h1.3M979.2 99.9h1.3M902.2 142.3h1.3M982.7 88.1h1.3M898 131h1.3M965.4 81.1h1.3M954.3 127.6h1.3M929.5 78.8h1.3M972.1 70.4h1.3M924.4 91.5h1.3M934.7 96.5h1.3M965.8 105.8h1.3M952.2 92.1h1.3M924.2 108.4h1.3M935.7 80.9h1.3M926 88.6h1.3M955.2 113.8h1.3M946.6 121.1h1.3M914.6 131.6h1.3M902.6 143.6h1.3M919.2 115.9h1.3M919.3 87h1.3M955.7 113.6h1.3M911.7 102.7h1.3M972.5 65.4h1.3M935.4 147.5h1.3M928.4 74h1.3M932.8 160.1h1.3M930.1 125.6h1.3M964.9 82.7h1.3M923.8 145.7h1.3M921.2 147.4h1.3M944.2 91.9h1.3M934 145.1h1.3M905.6 127.4h1.3M950.6 101.9h1.3M986.4 77.5h1.3M974.9 119.1h1.3M973.6 108.7h1.3M957.7 131.1h1.3M971.8 76.8h1.3M969 98.1h1.3M936.9 86.8h1.3M904.3 115.2h1.3M924.9 90.6h1.3M925 106.9h1.3M948 100.4h1.3M926.1 123.3h1.3M900.2 122.1h1.3M898.6 124.7h1.3M951.1 81h1.3M963 102.5h1.3M914.4 148.8h1.3M952.3 82.3h1.3M936.7 117h1.3M934.3 105.8h1.3M948.5 108.9h1.3M933.2 91.5h1.3M965.8 67.5h1.3M933.1 118.4h1.3M935.2 73.8h1.3M937.3 107.3h1.3M934.5 125.8h1.3M916.4 114.2h1.3M980.7 84.2h1.3M902.2 119.8h1.3M960.5 96.9h1.3M917.8 101.6h1.3M920.9 83.5h1.3M934 76.5h1.3M936.6 128h1.3M927.2 109.9h1.3M963 120.1h1.3M946.6 99.7h1.3M946.7 78.6h1.3M943.1 134.3h1.3M949.4 130.8h1.3M940.4 119.4h1.3M980.5 109.5h1.3M933.2 80h1.3M903.6 148.1h1.3M942 83.2h1.3M972.4 94.1h1.3M918.2 113.4h1.3M959.2 68.7h1.3M976.4 67.1h1.3M906.3 141.4h1.3M932.2 103.3h1.3M920.7 135.5h1.3M926.5 85.2h1.3M956.5 72.5h1.3M903.9 138.3h1.3M982.5 91.3h1.3M919 88.7h1.3M942.5 102.9h1.3M938.8 147.4h1.3M939.7 75.9h1.3M987.3 83.2h1.3M982.5 130.6h1.3M954.9 99.8h1.3M920.4 122.7h1.3M954.7 77.4h1.3M909.4 116.7h1.3M933.1 118.8h1.3M928.8 121.6h1.3M987.2 92h1.3M946.3 89.8h1.3M949.2 69.2h1.3M930.2 95.1h1.3M985.6 74.5h1.3M913 141.2h1.3M976.2 101.3h1.3M981.8 106.6h1.3M921.2 98.2h1.3M910.7 122.1h1.3M950.4 67.6h1.3M939 111.9h1.3M926 122.7h1.3M922.9 99.6h1.3M974.5 106.7h1.3M973.3 108.9h1.3M920.8 95.9h1.3M936.4 147.6h1.3M945.7 95.6h1.3M947.7 82.5h1.3M939.8 80.5h1.3M954.1 81.4h1.3M929.7 106.4h1.3M944.9 100.4h1.3M920 146.3h1.3M942.2 101.8h1.3M926.6 115.8h1.3M967.2 77.7h1.3M913.3 108.5h1.3M921.9 83.6h1.3M932.5 113.6h1.3M939.8 82h1.3M910.6 120.6h1.3M973.6 95.8h1.3M934.3 128.1h1.3M919.3 116.2h1.3M954.1 76.2h1.3M950.8 121.7h1.3M971.8 69.7h1.3M975.1 87.4h1.3M947.2 82.7h1.3M976.4 110.1h1.3M941.7 134.5h1.3M902.7 118.6h1.3M932.8 103.4h1.3M949.8 98.5h1.3M895.8 132.9h1.3M968.2 79.4h1.3M929.7 109.2h1.3M911.3 124h1.3M968.1 107.8h1.3M963.3 89.6h1.3M983.6 82.5h1.3M905.2 116.5h1.3M915.8 124h1.3M954.2 60.1h1.3M934.1 130.2h1.3M949.1 123.1h1.3M953.9 85.1h1.3M935.3 68.9h1.3M902.2 113.7h1.3M964.5 103.5h1.3M932 143.5h1.3M918.9 86.6h1.3M925 122.3h1.3M902 131h1.3M916.2 104h1.3M938.5 140.2h1.3M976.1 80.2h1.3M916.8 150.1h1.3M947.5 116.1h1.3M983.4 81.1h1.3M910.1 146.9h1.3M899.5 125.3h1.3M941.8 108.9h1.3M945 104.1h1.3M931.3 93h1.3M930.5 118.2h1.3M906.5 118.6h1.3M954.7 100.2h1.3M948.1 81.1h1.3M957.5 88.2h1.3M918 129.8h1.3M930.3 143.7h1.3M934.6 135.3h1.3M933.4 74.4h1.3M973.6 98.8h1.3M998.6 83.4h1.3M917.3 103.6h1.3M966.9 110.6h1.3M961.3 123h1.3M963 63.8h1.3M951.9 97.6h1.3M918.9 113.3h1.3M917.1 109.6h1.3M902 120.4h1.3M934.8 140.3h1.3M929 139.9h1.3M905.7 140.5h1.3M931.2 71.6h1.3M969.7 115.8h1.3M937.5 142.1h1.3M967.4 101.7h1.3M931 128.9h1.3M925.9 86.2h1.3M897.2 128.9h1.3M947 139.9h1.3M952.9 122.2h1.3M941 110.9h1.3" stroke="#66cc2e" stroke-width="1.3" stroke-opacity="1" fill="none"/>
<path d="M919.9 134.4h1.3M952 78.8h1.3M928.3 139.8h1.3M943.4 144.4h1.3M960 113.1h1.3M966.2 91.8h1.3M986.1 107.1h1.3M959.6 101.5h1.3M890.9 135.1h1.3M949.8 139.3h1.3M898.3 145.3h1.3M928.9 143h1.3M948.4 73.1h1.3M917.1 133.3h1.3M942.8 114.3h1.3M969.2 109.8h1.3M910.9 139.7h1.3M901.6 105.3h1.3M971.4 82.1h1.3M985.5 84.8h1.3M913.9 118.1h1.3M908 121.5h1.3M927.9 81.6h1.3M925.6 109.8h1.3M926 79h1.3M949.3 109h1.3M889.7 82.3h1.3M968 63.6h1.3M967.3 80.5h1.3M978.1 79.3h1.3M959.2 67.2h1.3M905 135.9h1.3M932.7 121.3h1.3M931.3 90.6h1.3M942.1 116.3h1.3M915 104.9h1.3M940.4 139.3h1.3M961.6 109.7h1.3M987.6 96.5h1.3M914.7 110.6h1.3M944.4 120.3h1.3M936.9 78.7h1.3M929.2 142.9h1.3M928.9 81.2h1.3M935.7 92h1.3M933.2 88.7h1.3M931.8 116.8h1.3M943 143.4h1.3M960.4 72.6h1.3M977.8 89.4h1.3M951.9 69.3h1.3M939.5 101.7h1.3M984.3 77.1h1.3M936.7 75.4h1.3M954.7 120.4h1.3M897.8 129.1h1.3M908.6 105.1h1.3M988.2 94.9h1.3M972.7 98.2h1.3M929.2 135.7h1.3M922.3 109.1h1.3M982.9 81.3h1.3M929.8 114h1.3M939.7 142.4h1.3M967.6 99h1.3M910.3 135.7h1.3M943.5 107.7h1.3M892.6 121.5h1.3M964.1 74.9h1.3M963.5 93h1.3M902.5 105h1.3M913.1 143.5h1.3M969.9 96h1.3M913.8 118.5h1.3M904.7 129.4h1.3M950.9 121.3h1.3M983.8 111.1h1.3M992.4 97.3h1.3M923.8 130.9h1.3M951.7 69.1h1.3M982.1 111.7h1.3M925.8 130h1.3M948.2 100.1h1.3M920.3 129.4h1.3M952.7 85.4h1.3M937.2 104.3h1.3M947.9 123.1h1.3M950.8 95.1h1.3M967.6 77.5h1.3M970.2 97.8h1.3M988 79.9h1.3M946 71.7h1.3M970.9 105.5h1.3M944.2 139.6h1.3M964.8 78.5h1.3M984.1 90.6h1.3M976.4 109.8h1.3M950.4 78h1.3M955.8 131.9h1.3M922.5 89.1h1.3M895.6 125.4h1.3M927.8 68.3h1.3M942.9 115.2h1.3M947.2 85.9h1.3M917.4 132.1h1.3M957.6 125.9h1.3M984.5 89.4h1.3M962.9 112.9h1.3M941.7 74.2h1.3M944 134.9h1.3M942 103.7h1.3M949 115h1.3M929.1 109.8h1.3M962.2 90.7h1.3M921.5 138.1h1.3M975.9 70.8h1.3M901.7 110h1.3M962.7 92.6h1.3M905.7 123.4h1.3M901.9 132.7h1.3M916.7 141.6h1.3M958.9 102.3h1.3M971.2 79.3h1.3M919.6 144.3h1.3M940.4 68.4h1.3M933.2 128h1.3M917.4 118.9h1.3M931.7 143.2h1.3M979.8 71.3h1.3M914.3 102.1h1.3M927 104.3h1.3M909.9 107h1.3M963 100.7h1.3M970.7 111.6h1.3M957.3 110.9h1.3M996.5 154.1h1.3M967.3 93.7h1.3M970.2 97.7h1.3M957.3 105.3h1.3M999.9 121h1.3M965.3 108.7h1.3M938.9 81.5h1.3M938.6 68.2h1.3M943.7 97.2h1.3M956.3 110.6h1.3M948.8 137.1h1.3M957.9 86.2h1.3M956.1 111.4h1.3M969.5 114.9h1.3M991.4 74.4h1.3M947.4 119.6h1.3M944.7 122.6h1.3M986.6 85.5h1.3M914.7 108.9h1.3M959 111.9h1.3M933.2 87.4h1.3M935.3 92.9h1.3M947.6 98.9h1.3M899 116h1.3M971.2 118.6h1.3M942 96.5h1.3M936 134.9h1.3M944.5 100.8h1.3M920.7 99.8h1.3M907.5 141.4h1.3M982 95.7h1.3M974.8 99.2h1.3M932.5 146h1.3M978.6 108.4h1.3M965.8 92.8h1.3M919.9 98.2h1.3M922 91.6h1.3M940.1 93.6h1.3M908.1 128.4h1.3M930.8 118.6h1.3M928.7 145.1h1.3M980 83.3h1.3M947.4 121.4h1.3M967.8 89h1.3M970.2 116.5h1.3M908.3 151.7h1.3M930.1 87.8h1.3M922.7 118h1.3M947.3 95.7h1.3M986.5 87.9h1.3M936.6 141.3h1.3M906.5 136.6h1.3M967.6 69.8h1.3M913.2 115.8h1.3M918.9 95.8h1.3M984.1 85h1.3M959.3 108.4h1.3M970.7 116.9h1.3M909.1 143h1.3M977.9 118.9h1.3M952.2 86.1h1.3M916.3 138.7h1.3M925.5 118h1.3M910.3 111.6h1.3M956.4 97.7h1.3M956.8 111.1h1.3M935.9 143.7h1.3M933.6 109.7h1.3M931.8 91h1.3M946.8 133.5h1.3M932.9 77.9h1.3M942.5 138.2h1.3M991 85.5h1.3M951.6 122.6h1.3M954.7 104h1.3M940.1 132.2h1.3M905.4 131h1.3M949.5 79.7h1.3M907.1 148.3h1.3M947.7 105.9h1.3M945.6 62.6h1.3M921.7 89.1h1.3M976.7 75h1.3M955.6 105.4h1.3M936.3 108h1.3M959.4 114.9h1.3M927.1 150h1.3M908.8 122.5h1.3M949.7 132.6h1.3M946.9 83.4h1.3M940 110.5h1.3M932.6 89.5h1.3M926.2 131.8h1.3M940.6 96.5h1.3M930.5 143.8h1.3M934.7 116.2h1.3M951.1 70.8h1.3M950.2 106.6h1.3M894.2 137.4h1.3M923.4 120.1h1.3M915.7 143.1h1.3M904.8 123.4h1.3M953 118h1.3M935.5 86.5h1.3M908.6 132.3h1.3M1018.3 57.6h1.3M905.2 130.2h1.3M974.6 81.1h1.3M978.2 81.9h1.3M984.3 100.4h1.3M985.5 88.1h1.3M931.9 93.6h1.3M942.6 127.2h1.3M958.1 114.9h1.3M901.6 129.7h1.3M988.1 94.2h1.3M945.8 118.1h1.3M918.6 100.1h1.3M942 144.3h1.3M969.4 116.1h1.3M875 135.2h1.3M918.8 147.3h1.3M901 126.5h1.3M953.5 133.9h1.3M976.1 70.6h1.3M918.3 140.6h1.3M880.2 114.5h1.3M984.9 91.3h1.3M974.6 90.3h1.3M912.1 134.9h1.3M925.8 114.2h1.3M930.7 105.6h1.3M893.1 119.4h1.3M973.4 80.4h1.3M908.3 132.1h1.3M980.1 70.1h1.3M949.6 91.1h1.3M911.5 97.9h1.3M986.7 111.5h1.3M968.6 91.5h1.3M909.9 108h1.3M967.5 84.4h1.3M919.6 99h1.3M950.4 121.4h1.3M917.8 85.1h1.3M954.7 71.6h1.3M938.1 83.2h1.3M913.4 144.7h1.3M929.5 74.7h1.3M935.6 76.2h1.3M936.6 69.8h1.3M942.1 77.7h1.3M933.3 68.7h1.3M951.3 96.9h1.3M934.3 126.8h1.3M983 114.4h1.3M925.7 100.5h1.3M922.5 135.6h1.3M927.2 91.9h1.3M945.2 98h1.3M927.1 81.7h1.3M968.2 78.3h1.3M960.9 98.9h1.3M930.4 106.9h1.3M971.9 95.9h1.3M925.2 98.2h1.3M989.3 101.1h1.3M908.4 137.1h1.3M903.8 132h1.3M906.6 151.1h1.3M935.9 102.5h1.3M905 127.4h1.3M899.2 113.7h1.3M955.8 97h1.3M941.5 123.3h1.3M935 87.5h1.3M923.9 87.1h1.3M967.5 72.7h1.3M924.9 136.6h1.3M915.9 93.8h1.3M937.1 124.2h1.3M966.4 89.1h1.3M963.2 84.1h1.3M985.5 97.5h1.3M975 95.5h1.3M922.8 133.1h1.3M939 89.1h1.3M949.9 107.1h1.3M951.4 100.6h1.3M957.4 99.7h1.3M954.3 111.8h1.3M961.2 71.3h1.3M910.3 141.5h1.3M962.7 66.1h1.3M957.3 76.7h1.3M919.9 128.2h1.3M896.9 135.2h1.3M926.5 83.4h1.3M918.1 94.2h1.3M920.4 123.9h1.3M920.6 106.2h1.3M921.9 84.7h1.3M973.1 81.2h1.3M939 127.2h1.3M919 118.1h1.3M909.9 110.2h1.3M953.2 83.6h1.3M953.7 85.7h1.3M978.4 112h1.3M979.1 99.3h1.3M933 137.3h1.3M960.6 118.2h1.3M933.6 119.5h1.3M950.8 78.5h1.3M920 86.9h1.3M954.8 101.7h1.3M972.6 104.9h1.3M950.2 77.4h1.3M912.6 97.6h1.3M924.7 143.8h1.3M941.9 76.2h1.3M940.2 123.6h1.3M927.1 136.7h1.3M979.6 78.7h1.3M987.2 76.4h1.3M922.1 136.4h1.3M964.8 102.9h1.3M948.1 128.7h1.3M945.2 93.2h1.3M944.1 93.8h1.3M958.8 112.3h1.3M922.4 144h1.3M978.1 90.9h1.3M921.9 97.4h1.3M980 83.6h1.3M915.7 110.1h1.3M895.8 129.7h1.3M932.5 146h1.3M975.6 109.5h1.3M974.2 102.8h1.3M925.1 99.4h1.3M949.8 117.7h1.3M914.1 124.6h1.3M938.2 90.2h1.3M980.7 98.5h1.3M972 93.1h1.3M893.2 137.6h1.3M904.6 137.8h1.3M934.7 144.6h1.3M936 146.7h1.3M983.7 104.1h1.3M946.6 116.1h1.3M932.5 103.2h1.3M941.7 110.4h1.3M942.3 112.7h1.3M918.5 80.2h1.3M971.3 110.6h1.3M953.6 124.6h1.3M916.2 114.5h1.3M940.8 88.7h1.3M936.9 107h1.3M922.6 103.9h1.3M895.7 117.4h1.3M910.6 104.3h1.3M920.4 92.8h1.3M938.1 86h1.3M918.1 133.5h1.3M939.7 138.5h1.3M936.4 95h1.3M913.1 145.6h1.3M917.1 135.9h1.3M946.8 99.9h1.3M898.2 139.3h1.3M905.8 131h1.3M905.1 138.5h1.3M977 89.2h1.3M939.5 100.4h1.3M896 125.1h1.3M954.6 111.9h1.3M932.8 85h1.3M922.7 150.4h1.3M962 93.2h1.3M919.7 92.9h1.3M894.5 129h1.3M960.5 91.4h1.3M900.8 114.9h1.3M967.2 75.4h1.3M945.5 111.1h1.3M956.3 63.3h1.3M876.6 40.7h1.3M982.3 89.4h1.3M919.3 130.6h1.3M940.4 107.2h1.3M957.4 77.9h1.3M968.6 69.1h1.3M938.1 123h1.3M953.6 73.5h1.3M919.6 135.1h1.3M901.7 137.2h1.3M931.3 133.4h1.3M918.4 143.7h1.3M916.5 110.5h1.3M949 129.8h1.3M976.6 74.3h1.3M911.1 118h1.3M960.5 89.3h1.3M946.9 67.3h1.3M913.6 116.6h1.3M943.3 122.2h1.3M935.3 74.6h1.3M934.5 124.3h1.3M954 105.4h1.3M952.7 117.5h1.3M934.2 70.5h1.3M949.2 95.6h1.3M975.5 111h1.3M944.2 133.9h1.3M943 104.7h1.3M932.7 96h1.3M960.1 109.2h1.3M901.8 137.4h1.3M890.1 133.7h1.3M965.8 84.9h1.3M936.3 116.1h1.3M954.6 96.8h1.3M912.2 131.2h1.3M939.2 103.6h1.3M957.2 81.5h1.3M923.7 131.6h1.3M926 134.1h1.3M898.1 137.3h1.3M989.1 93.7h1.3M936.2 115.9h1.3M942 85.8h1.3M943.7 101.6h1.3M915.7 129.6h1.3M939.2 83.2h1.3M945.2 67.7h1.3M944.9 125.6h1.3M936.3 148.5h1.3M933.1 124.4h1.3M978.2 90.2h1.3M916.5 108h1.3M970.4 110.2h1.3M988.2 85.9h1.3M904.4 117.1h1.3M924.3 122.4h1.3M975.2 75.6h1.3M914.6 105.3h1.3M976.7 99.4h1.3M903.1 119.6h1.3M915.3 106.4h1.3M945.9 136.5h1.3M897.2 125.7h1.3M942.1 72h1.3M953.4 83.6h1.3M937.8 113.5h1.3M977.9 93.1h1.3M916.1 114.6h1.3M964.1 75.7h1.3M959.3 87.4h1.3M938.7 128.1h1.3M915.4 126.5h1.3M958.9 109.9h1.3M902.7 129.3h1.3M957 97.3h1.3M921 151h1.3M911.9 118.7h1.3M926.3 138.5h1.3M951.7 84h1.3M974.9 81.3h1.3M901.2 117.5h1.3M935.9 119.7h1.3M931.8 141h1.3M936.5 78.6h1.3M921.7 77.4h1.3M948.8 73.1h1.3M931.4 71.7h1.3M923.5 146.7h1.3M934.6 175.3h1.3M907.3 126.1h1.3M924.6 142.6h1.3M958.2 119h1.3M975.4 85.1h1.3M939.2 124h1.3M979.3 93h1.3M961.2 125.8h1.3M989.6 79.1h1.3M942 133.7h1.3M918.2 112.1h1.3M906.4 110.5h1.3M945.6 140.5h1.3M961.7 86.7h1.3M935.7 121.3h1.3M983.2 73.9h1.3M969.8 83h1.3M982.8 83h1.3M931.4 85.5h1.3M914.9 132.7h1.3M966.5 105.6h1.3M989.7 83.8h1.3M968.9 90h1.3M971.1 81.7h1.3M940.7 84.1h1.3M927.9 102.2h1.3M918 142.9h1.3M953 112.2h1.3M964.8 95.7h1.3M926.2 108.6h1.3M951.4 125h1.3M899 125h1.3M895.2 112.1h1.3M901.4 120.5h1.3M904.3 102.6h1.3M950 118.1h1.3M964.4 118.9h1.3M937.1 83.8h1.3M980.8 97.5h1.3M924.6 83.6h1.3M934.1 89.4h1.3M956.6 74.7h1.3M939.6 109.4h1.3M919.4 96.5h1.3M934 125.5h1.3M901.9 139.4h1.3M984.4 86.7h1.3M985.2 81h1.3M914 102.3h1.3M898.6 154.3h1.3M945.8 73.8h1.3M975.6 105.2h1.3M983.2 101.1h1.3M918.4 125.1h1.3M905.5 114.9h1.3M971.4 85.8h1.3M956.3 103.8h1.3M957.4 108.2h1.3M906.6 110.9h1.3M969.6 101.7h1.3M964.4 108.5h1.3" stroke="#348018" stroke-width="1.3" stroke-opacity="1" fill="none"/>
<text x="999" y="56" font-size="18" fill="#8ee05a" font-weight="bold" text-anchor="start" >V</text>
<path d="M823.5 217h1.3M793.8 237.6h1.3M768.4 248.4h1.3M775.7 226h1.3M819.4 237h1.3M810.2 266h1.3M760.2 301.9h1.3M783 258.6h1.3M799.9 281h1.3M776.8 229h1.3M773.6 182.4h1.3M816.6 256.2h1.3M764.4 304.8h1.3M770.8 234.3h1.3M778.9 239.9h1.3M782.9 250.8h1.3M792.2 289.7h1.3M813.9 263.3h1.3M802.9 214.2h1.3M772.8 283.2h1.3M757.8 247.1h1.3M792.5 206.5h1.3M776.7 272.4h1.3M819.3 248.3h1.3M826.3 230.8h1.3M800.9 282.2h1.3M815.8 248.3h1.3M792 219.2h1.3M762.3 263h1.3M816.6 254.3h1.3M788.3 258.8h1.3M784.1 262.1h1.3M770.3 238.4h1.3M815.3 245.9h1.3M839.2 219.9h1.3M844.4 311.7h1.3M775.5 263.4h1.3M756.2 252.7h1.3M776.3 241.3h1.3M811.2 317.6h1.3M730.2 248.8h1.3M793.8 245.1h1.3M810.2 271.4h1.3M833.4 224.2h1.3M809.2 211h1.3M795.2 222.1h1.3M793 312.5h1.3M767.3 227.6h1.3M806.9 195.8h1.3M767.6 238.9h1.3M770.9 215.2h1.3M767.3 263h1.3M777 267.3h1.3M797.4 230.6h1.3M756.3 247.5h1.3M798.3 218.3h1.3M789.7 248.7h1.3M748.1 224.7h1.3M809.9 231.4h1.3M767.6 257h1.3M748.7 207.5h1.3M753.6 246.7h1.3M847.9 311.1h1.3M750.6 179.2h1.3M786 218.2h1.3M748.9 313.1h1.3M766.6 273.6h1.3M760 231.6h1.3M771.3 296h1.3M813.9 240.4h1.3M790.3 253.9h1.3M757.9 234.8h1.3M756.7 262.1h1.3M765.3 264.2h1.3M771.6 251.6h1.3M796 220.6h1.3M822.1 252.4h1.3M820.9 262.4h1.3M758.7 288.1h1.3M824.7 232.9h1.3M845.2 228.8h1.3M829.7 241.1h1.3M814.2 238.1h1.3M790.6 289.6h1.3M846.7 283.8h1.3M792.7 223h1.3M771.5 294.1h1.3M837.5 241.3h1.3M765.7 259.3h1.3M730.3 246.8h1.3M796.3 270.4h1.3M751.8 253.7h1.3M793.9 244.5h1.3M824.2 236h1.3M858.2 183.6h1.3M751.7 250.2h1.3M749.5 250.4h1.3M804.6 231.9h1.3M762.7 195.2h1.3M784.5 266.1h1.3M727.5 261.3h1.3M791.6 284h1.3M867.8 208.5h1.3M767.2 268.6h1.3M789 262.3h1.3M810.1 237.1h1.3M809.2 209.8h1.3M793.8 211.2h1.3M778.2 232h1.3M829.6 217.7h1.3M751.7 251.2h1.3M744.9 310.5h1.3M799.1 244.9h1.3M801.6 285.5h1.3M808.8 239.4h1.3M784.6 218.4h1.3M775.6 237.5h1.3M800.6 235.8h1.3M768.1 275.2h1.3M786 228.4h1.3M747.6 276.3h1.3M811.6 268.2h1.3M772 227.1h1.3M808.8 211.8h1.3M805.9 229.5h1.3M778.4 289h1.3M787.6 218.4h1.3M826.8 247.5h1.3M773.6 294.4h1.3M808.4 217.1h1.3M775.7 276.5h1.3M821.1 296.7h1.3M831 226.5h1.3M777.1 249.2h1.3M765.5 253.8h1.3M791.2 291.3h1.3M787.1 228.4h1.3M788.7 222.9h1.3M829.9 238.6h1.3M847 209.1h1.3M755.1 276.8h1.3M813.7 185h1.3M829 220.5h1.3M793.2 230.1h1.3M833.8 229.5h1.3M773.4 297.3h1.3M809.9 224.5h1.3M760.5 236.5h1.3M778.8 219.3h1.3M785.8 285.7h1.3M796.4 227.1h1.3M759.6 293.6h1.3M822.4 232.8h1.3M832.7 246.8h1.3M773.4 260.1h1.3M828 226.6h1.3M820 260.4h1.3M800.9 261.4h1.3M799.8 209h1.3M814 182.1h1.3M792.4 241.3h1.3M780.5 215.8h1.3M762.6 259.5h1.3M725 187.8h1.3M809.5 288.5h1.3M825.1 221.7h1.3M820.9 271.7h1.3M785.3 277.5h1.3M813.7 237.8h1.3M821.3 262.1h1.3M818.5 215.1h1.3M794 266.1h1.3M787 226.8h1.3M807.2 249.3h1.3M775 274.6h1.3M763.5 267.6h1.3M787.3 270.7h1.3M778 301.7h1.3M837.9 223h1.3M748 278.1h1.3M784.9 263.4h1.3M779.4 241.7h1.3M755.6 279.6h1.3M816 253.2h1.3M868 305h1.3M802.8 302.3h1.3M804.6 226.6h1.3M820.9 261.9h1.3M772.7 243.2h1.3M828.6 226.7h1.3M812.3 221.6h1.3M774.1 294.6h1.3M790.5 253.5h1.3M722.1 314.6h1.3M757.9 277.7h1.3M794 216.8h1.3M817.4 215.9h1.3M758.2 231.1h1.3M804.6 230.2h1.3M770.1 248h1.3M807.9 261h1.3M754.9 269.9h1.3M783.8 275h1.3M798.7 264.1h1.3M789 278.1h1.3M747.6 289.2h1.3M788.7 259h1.3M773.4 232.9h1.3M765.2 232.5h1.3M821.2 234.2h1.3M809.7 223.2h1.3M826.4 248.4h1.3M780.5 275.7h1.3M857.6 210h1.3M795.2 288.1h1.3M751.9 257.3h1.3M739 261.1h1.3M817.3 235.8h1.3M797.4 266.7h1.3M798 202.6h1.3M776.5 307.3h1.3M831 239.7h1.3M769.8 246h1.3M802.7 224.8h1.3M798 302h1.3M755.2 257.5h1.3M837.1 245.3h1.3M794 259.6h1.3M829 246.8h1.3M748.4 283.2h1.3M763.1 287h1.3M818.4 222.7h1.3M765.8 231h1.3M790.9 261.5h1.3M796.6 213h1.3M778.7 261h1.3M803.9 252.6h1.3M812.2 212.5h1.3M747.4 289.7h1.3M758.9 257.9h1.3M800.4 272.1h1.3M796.5 210.3h1.3M829.8 193.2h1.3M808.4 203h1.3M791.4 212.1h1.3M805.8 199.1h1.3M796.7 260.1h1.3M792.1 289.5h1.3M795.4 296h1.3M807.1 271.3h1.3M865.1 303.9h1.3M809 234.7h1.3M814.2 233.2h1.3M823.8 218.5h1.3M764.1 266.9h1.3M827.3 254.1h1.3M753.6 239.3h1.3M785.6 275.2h1.3M794.5 283.4h1.3M805.4 216.4h1.3M810.3 235.4h1.3M733 228.5h1.3M834.9 229.4h1.3M854 181.5h1.3M781 269h1.3M749.5 257.8h1.3M801.8 273.3h1.3M790.7 244.7h1.3M751.4 276.2h1.3M752.2 258.3h1.3M795.5 220.9h1.3M754.6 265.5h1.3M843.2 189h1.3M794.4 215.9h1.3M816.4 252.1h1.3M815.2 279.7h1.3M782.7 217.1h1.3M831.1 233.3h1.3M777 245.4h1.3M804 243.8h1.3M829.9 217h1.3M780.2 273h1.3M810.6 230.9h1.3M803 240.2h1.3M777.3 280.2h1.3M742.9 260.2h1.3M763.8 276.1h1.3M812.9 276.4h1.3M791.1 297.7h1.3M744 303.2h1.3M751.7 255.5h1.3M826.1 208.6h1.3M823.5 255.2h1.3M755.6 252h1.3M790.9 280.6h1.3M843.7 262.9h1.3M779 294.5h1.3M786.9 277.2h1.3M798.4 254.2h1.3M818.9 209.2h1.3M800.4 215.7h1.3M797.8 241.2h1.3M832.6 236.6h1.3M827.9 213.3h1.3M770.4 283.9h1.3M815.1 213.6h1.3M805.6 236.6h1.3M827 245.5h1.3M815 183.4h1.3M835.5 237.5h1.3M757.7 279.8h1.3M850.7 221.9h1.3M809.3 243.1h1.3M784 272.7h1.3M769.5 242.7h1.3M842.1 224.5h1.3M738.2 273.2h1.3M792.5 262.1h1.3M785 261.9h1.3M865.4 195.5h1.3M832.6 233.1h1.3M797.2 264.7h1.3M765.8 288.7h1.3M759.8 280.9h1.3M760.3 294h1.3M761.3 279.1h1.3M821.3 217.9h1.3M770.2 252.7h1.3M829.5 272.9h1.3M756.6 243.9h1.3M782.6 293.5h1.3M788.2 288h1.3M731.9 276.5h1.3M804.6 204.8h1.3M808.4 267.3h1.3M742.5 282.4h1.3M808.1 210.6h1.3M806.1 226.3h1.3M790.3 235.4h1.3M809.3 280.4h1.3M791.4 233.7h1.3M757.3 281.1h1.3M753.4 275.8h1.3M822.7 297.8h1.3M806.1 221.7h1.3M784.6 221.4h1.3M793.6 268.2h1.3M797.9 214.6h1.3M786.7 262.7h1.3M785.4 266.2h1.3M806.1 252.8h1.3M805.2 247.9h1.3M806.3 270.3h1.3M771.1 305.8h1.3M829.3 262.5h1.3M827.6 230.8h1.3M809.7 218.4h1.3M769.8 295.5h1.3M805.8 223.8h1.3M857.7 187.7h1.3M796 253.7h1.3M726.3 291.4h1.3M786.4 275.7h1.3M830.5 232.5h1.3M751.2 287.8h1.3M758.9 223.6h1.3M818 237.5h1.3M786.2 285.5h1.3M857.4 235.6h1.3M808.4 253.6h1.3M804 231.9h1.3M831.4 219.1h1.3M813.8 225.1h1.3M733.8 266.5h1.3M822.6 181.2h1.3M734.1 183.9h1.3M787.5 290.1h1.3M781.8 311.2h1.3M793.7 266.1h1.3M768.1 290.6h1.3M826.1 294.4h1.3M745.3 268.4h1.3M780.1 205h1.3M767.1 281.7h1.3M763.7 258.8h1.3M766.7 273.6h1.3M794.7 219.7h1.3M765.1 276.8h1.3M809.3 224.7h1.3M862.4 205.3h1.3M788.7 230.5h1.3M771.9 241.7h1.3M762.9 293.3h1.3M792.1 256.8h1.3M775.3 262.7h1.3M749.7 272h1.3M767 189.1h1.3M834.7 252.1h1.3M791.8 306.4h1.3M779.2 196.2h1.3M831.1 240.8h1.3M787.6 247.3h1.3M855.4 271.6h1.3M757 276.6h1.3M780.2 261.8h1.3M770.8 240.9h1.3M777.7 252.9h1.3M814.6 267.9h1.3M823.5 312.7h1.3M800.6 252.7h1.3M808.8 227.7h1.3M863.8 275.2h1.3M819.3 225.5h1.3M818.9 218.3h1.3M778.7 266.8h1.3M824.1 259.9h1.3M736.7 233.8h1.3M755.7 250h1.3M770.8 216.4h1.3M767.4 237.2h1.3M740.6 255.3h1.3M809.2 261.5h1.3M844.7 229.5h1.3M790.8 284.4h1.3M804 242.6h1.3M754.1 187.5h1.3M767.6 262.3h1.3M785.5 265.8h1.3M802.2 265.5h1.3M780.1 223.5h1.3M858.2 312.2h1.3M731.3 194.6h1.3M754.4 236.8h1.3M801.6 260.3h1.3M799.5 242.6h1.3M748.8 270.6h1.3M819.5 242.8h1.3M777.9 233.8h1.3M841.6 210.7h1.3M744.9 281.6h1.3M830.8 238.1h1.3M790.1 266.5h1.3M824.9 219.8h1.3M729.5 230.9h1.3M830.9 237h1.3M838.6 232.3h1.3M827.2 207.2h1.3M754.5 273.6h1.3M848 186.3h1.3M753.3 276.6h1.3M826.4 254.5h1.3M751 276.4h1.3M769.1 230.9h1.3M805.6 226h1.3M806 224.3h1.3M785.7 238.2h1.3M813.9 187.7h1.3M855.9 306.1h1.3M801 261.3h1.3M813.1 225.8h1.3M827.1 244.2h1.3M819.1 214.6h1.3M740.8 314.8h1.3M775.6 292.1h1.3M753.4 245.3h1.3M747.1 279.2h1.3M824.2 243.8h1.3M779.1 235.1h1.3M768.4 266.9h1.3M786.4 295.7h1.3M826.2 251.4h1.3M765.5 278.2h1.3M745.5 274h1.3M752.8 188.7h1.3M828.8 198.1h1.3M855.6 198h1.3M831.2 236.7h1.3M773.4 237.3h1.3M809.2 250.5h1.3M798.6 239h1.3M809.2 223.7h1.3M803.5 232.5h1.3M859.4 237h1.3M813.4 209h1.3M831.4 250.5h1.3M768 234.5h1.3M844.8 280h1.3M782.4 250.1h1.3M765.1 258.1h1.3M764.6 249.8h1.3M722.7 244.3h1.3M783.2 283.1h1.3M765 247.9h1.3M753.6 277.8h1.3M785.2 266.5h1.3M760.3 295.6h1.3M796 214.2h1.3M788 256.5h1.3M814 277.5h1.3M816.6 254.4h1.3M810.8 247.8h1.3M819.5 268h1.3M779.6 218.7h1.3M803.4 274.1h1.3M807.6 231.5h1.3M808 238.9h1.3M784.9 185.2h1.3M800.6 214.9h1.3M808.2 265.3h1.3M784.4 267.1h1.3M779 280.5h1.3M750.1 310.5h1.3M806.1 270.9h1.3M785.4 288.7h1.3M795.4 267.9h1.3M826 223.3h1.3M799.8 223.5h1.3M825.6 221.3h1.3M754.6 230.3h1.3M833.6 236.7h1.3M793.7 230.6h1.3M824.4 240.1h1.3M771.9 232h1.3M790.5 211.5h1.3M745.2 278.2h1.3M762.1 274.9h1.3M839.1 191.9h1.3M860.5 263h1.3M756.3 240.9h1.3M855.6 245.5h1.3M752.1 242.1h1.3M763.7 260.2h1.3M756.3 283h1.3M785.5 294.2h1.3M828.3 239.6h1.3M755 233.7h1.3M777.7 294.5h1.3M790.9 286h1.3M756.2 293.6h1.3M811 212.3h1.3M837.5 288.6h1.3M773.8 276.4h1.3M803.3 316h1.3M756.2 260.6h1.3M738.3 240.2h1.3M782.7 234.4h1.3M798.7 247.8h1.3M808.2 225h1.3M838.1 227.6h1.3M832.2 220.7h1.3M789.5 241.1h1.3M769.6 260.7h1.3M813.7 238.3h1.3M755.4 276.2h1.3M836.9 222.7h1.3M807.9 265.4h1.3M755.6 282.3h1.3M758.1 289.4h1.3M765.7 290.3h1.3M834.7 220h1.3M851.8 179.8h1.3M834.4 244.4h1.3M773.3 293.8h1.3M789.5 242.9h1.3M829.8 228h1.3M733.2 310.2h1.3M787.5 275.1h1.3M762.5 296.6h1.3M768.7 237.8h1.3M814.3 261.5h1.3M838.1 236.8h1.3M759.8 260.3h1.3M813.7 206.1h1.3M784.6 245.5h1.3M832.8 226.2h1.3M773.6 250.5h1.3M793 277.1h1.3M823.3 240.6h1.3M812.5 316.1h1.3M780.9 280.5h1.3M838 215.4h1.3M813.2 238.5h1.3M767.8 223h1.3M807 267.7h1.3M813.8 264.7h1.3M776.6 260.4h1.3M751.6 192h1.3M803.8 302.5h1.3M732.3 280.5h1.3M830.1 260h1.3M774 275.6h1.3M793.1 224.2h1.3M809 248.2h1.3M761.2 296h1.3M764.1 294.1h1.3M753.1 242.7h1.3M820.4 249.1h1.3M790.4 282.9h1.3M755.5 254.2h1.3M836.7 238.3h1.3M777.9 229.8h1.3M779.8 281.1h1.3M779.6 241.8h1.3M811.4 263.1h1.3M760.1 270.5h1.3M775.7 252.7h1.3M814.2 265.4h1.3M823.3 233.1h1.3M759 294.5h1.3M824.7 243.2h1.3M858 237.2h1.3M777.7 253.1h1.3M766.9 218.1h1.3M754.2 255.3h1.3M810.4 238.9h1.3M795.3 287.5h1.3M816.6 254.7h1.3M766.2 280.6h1.3M794.8 263.1h1.3M789.1 254.2h1.3M793.2 280.6h1.3M823.7 245.3h1.3M757.3 286h1.3M749.6 215.7h1.3M776 279.4h1.3M867.8 181.8h1.3M778.9 224.3h1.3M849 282.1h1.3M761.7 283.6h1.3M786.4 275.7h1.3M776.7 232.7h1.3M765.5 291h1.3M792.8 265.1h1.3M784.5 259.8h1.3M790.3 294h1.3M749.9 261.2h1.3M781 243.7h1.3M735.3 284.4h1.3M843.8 297.4h1.3M772.1 190.2h1.3M774.9 242.5h1.3M750.4 250.8h1.3M745.2 188.9h1.3M809.8 210.5h1.3M751.1 245.6h1.3M779.4 234h1.3M794.6 283.2h1.3M784 232.6h1.3M761.5 277.5h1.3M855.3 260.9h1.3M829.8 261.4h1.3M800.2 226.2h1.3M795.4 254.9h1.3M775.6 260.5h1.3M738.8 264.5h1.3M761.5 252.9h1.3M765.2 280.2h1.3M765.5 269.2h1.3M803.1 277.9h1.3M818 272.8h1.3M778.6 218.2h1.3M815.6 300.8h1.3M844.8 278.8h1.3M757.8 291.7h1.3M781.4 216.9h1.3M834.5 236.2h1.3M778.1 256.5h1.3M839.4 214h1.3M863.5 299.7h1.3M806.8 215.8h1.3M823 267h1.3M760.6 272.2h1.3M786.4 235h1.3M798.9 246.5h1.3M761.7 287.7h1.3M830.7 241.6h1.3M830.1 242.2h1.3M829.3 216.5h1.3M767.5 283.7h1.3M790.1 226.6h1.3M806.9 251.8h1.3M785 255.5h1.3M809.1 277.7h1.3M820.8 261.3h1.3M801.5 229.2h1.3M798.4 277.2h1.3M805.3 243.3h1.3M768.8 234.9h1.3M852.8 222.9h1.3M770.5 287.8h1.3M841.3 266.3h1.3M803.4 247.8h1.3M787 244.8h1.3M801.7 217.6h1.3M738.7 221.8h1.3M804.9 268.7h1.3M766.9 248.5h1.3M787.7 297.4h1.3M853.5 197.6h1.3M740.8 209.5h1.3M816.6 230.1h1.3M790.2 272h1.3M743.6 204.6h1.3M865.3 293.6h1.3M784.8 266.8h1.3M826.2 243h1.3M787.2 289.3h1.3M817.4 258.6h1.3M765.4 201.6h1.3M796.9 276h1.3M784.9 274.4h1.3M818.4 209.3h1.3M747.8 253.7h1.3M827.7 223.1h1.3M763.5 233.9h1.3M803.3 229.3h1.3M776.1 280.9h1.3M814.5 243.6h1.3M810.2 219.3h1.3M789.9 215.3h1.3M754.3 292.7h1.3M820.7 227.8h1.3M772.4 232.4h1.3M731 294.8h1.3M782.4 232.6h1.3M821.4 217.3h1.3M796.6 217.3h1.3M811.5 259.8h1.3M840.3 238.7h1.3M775.4 241.3h1.3M781.4 248.7h1.3M770.5 260.5h1.3M778.5 222.9h1.3M820.5 203.7h1.3M794.1 278.5h1.3M818.9 236.8h1.3M739.3 243.7h1.3M745.9 284.7h1.3M866.3 314h1.3M782.3 253.5h1.3M794 234.2h1.3M731.2 290.8h1.3M779 293.3h1.3M755.3 266h1.3M736.6 256.2h1.3M737.4 188h1.3M749.6 260.8h1.3M761.4 235.1h1.3M853.2 198.7h1.3M814.8 214.8h1.3M795.6 236.2h1.3M805.4 274.6h1.3M813.5 209.1h1.3M829.1 254.2h1.3M827.7 291.4h1.3M791.9 259.3h1.3M769.6 275.3h1.3M814.7 244.2h1.3M861.6 292.5h1.3M758.8 287.9h1.3M742.5 310.7h1.3M795.6 266.3h1.3M799.9 276.9h1.3M817.4 243.9h1.3M770.4 256.7h1.3M782 254.3h1.3M783.3 265.6h1.3M752.6 261.3h1.3M797.6 285.5h1.3M761.3 254h1.3M845.6 278h1.3M817.7 255h1.3M846.1 310.1h1.3M821.1 238.6h1.3M836.1 234.1h1.3M783.2 275.9h1.3M855.9 240.3h1.3M798.1 281.1h1.3M754.3 192.7h1.3M768.2 274.3h1.3M763.1 253h1.3M858.6 180.5h1.3M759.5 242.6h1.3M794 280.9h1.3" stroke="#a89a04" stroke-width="1.3" stroke-opacity="1" fill="none"/>
<path d="M781.5 247.8h1.3M726.7 284.9h1.3M811.7 233.2h1.3M774 304.9h1.3M812.2 239h1.3M838.1 246.9h1.3M800 263.4h1.3M771.2 275.9h1.3M775.5 266.5h1.3M791.6 249.6h1.3M812.1 272.8h1.3M777.4 280.8h1.3M816.3 213.7h1.3M753.5 283.4h1.3M771 231.7h1.3M747.5 262.4h1.3M748.8 255.6h1.3M764.8 262.4h1.3M755.3 266.8h1.3M769.3 259.2h1.3M800.9 232.5h1.3M827.8 245.3h1.3M774.6 255.1h1.3M793.1 262.4h1.3M831.4 208.4h1.3M771.7 277.8h1.3M761.6 269.2h1.3M828.8 211.5h1.3M771.7 238.7h1.3M764.7 184.6h1.3M766.5 273.3h1.3M829.4 238.5h1.3M757.8 222.2h1.3M729.6 316.4h1.3M823.1 223.4h1.3M790.4 308.4h1.3M807.1 253.4h1.3M801.8 287.2h1.3M819.6 214.5h1.3M835.6 239.8h1.3M818 213.7h1.3M845.1 308.8h1.3M763.8 255.2h1.3M819.1 206.8h1.3M746.1 279h1.3M813.5 235.9h1.3M781.5 267.4h1.3M814.5 248.7h1.3M811.4 258.4h1.3M785 272.8h1.3M745.7 297.6h1.3M804.2 240.7h1.3M757.9 287h1.3M750.1 281h1.3M774.5 282.2h1.3M798.2 251.8h1.3M812.3 250.7h1.3M797.9 274.5h1.3M763.2 255.8h1.3M760.7 265.1h1.3M785.2 258.5h1.3M767 280.4h1.3M762.3 247.8h1.3M826.1 239.4h1.3M807.8 257h1.3M734.3 257.5h1.3M732.2 195.7h1.3M833.7 230.2h1.3M799.3 266.2h1.3M861.9 309.3h1.3M829.7 262.7h1.3M799.1 204.8h1.3M787.5 290.6h1.3M781.4 291.2h1.3M801.6 279.8h1.3M766 232.5h1.3M782 252.9h1.3M753.7 259.4h1.3M803.1 264.6h1.3M776.5 232.1h1.3M856.5 270.8h1.3M797.7 217.5h1.3M761.3 257.9h1.3M788.4 242.4h1.3M810.8 213.3h1.3M786.8 297.8h1.3M778.3 221.3h1.3M835 237.1h1.3M771.5 243.2h1.3M833 219.5h1.3M748.1 276.8h1.3M781 263.4h1.3M784.9 283.2h1.3M779.9 233.8h1.3M847 282.8h1.3M732 275.9h1.3M771.7 295.2h1.3M814.8 212.6h1.3M752.5 275.1h1.3M839.3 313.9h1.3M807.4 267.5h1.3M737.9 303h1.3M807.2 211.2h1.3M805.8 230.9h1.3M777.8 299.2h1.3M759.9 286.9h1.3M752.9 246.5h1.3M800.3 266.8h1.3M776.9 223.5h1.3M784 237.5h1.3M781.6 308.6h1.3M761.1 286.5h1.3M734.8 316.1h1.3M763.7 212.5h1.3M780 230.4h1.3M765.2 236.3h1.3M726.7 181.1h1.3M856.4 303.4h1.3M724.2 246.9h1.3M764.3 235.9h1.3M780.7 287.2h1.3M830.7 222h1.3M790.1 260.6h1.3M795.6 274.5h1.3M765.9 269.4h1.3M746.9 271.6h1.3M829.9 270.7h1.3M796 265.4h1.3M738.4 264.4h1.3M811.1 220h1.3M842.4 229.4h1.3M805 266.2h1.3M794.9 274.6h1.3M793.2 223.7h1.3M745.7 264.6h1.3M813 289.5h1.3M787.6 257.3h1.3M802.5 250.7h1.3M815.5 213.8h1.3M833.4 248.2h1.3M797.2 266.1h1.3M759 266.7h1.3M802 251.2h1.3M826.6 227.5h1.3M766.4 256.2h1.3M811.4 208h1.3M782.7 245h1.3M781.7 288.9h1.3M815.3 278.8h1.3M796 274.6h1.3M780.4 289.7h1.3M758.3 277.7h1.3M805.5 206.5h1.3M768.8 232.9h1.3M789.5 270h1.3M816.8 196h1.3M843.5 287.2h1.3M796.3 217.1h1.3M804.8 298.4h1.3M796.3 316.5h1.3M835.4 185.2h1.3M785.4 256.2h1.3M827.6 218.7h1.3M801.9 245.1h1.3M759.8 287.1h1.3M761.3 278.6h1.3M771.5 232.8h1.3M790.6 280.4h1.3M776 182.3h1.3M743.9 204.4h1.3M727 264.1h1.3M852.9 273.6h1.3M836.7 233.5h1.3M832.3 255.7h1.3M770 200.9h1.3M772.7 275h1.3M783.5 285.3h1.3M781.4 237.9h1.3M755 271.3h1.3M764.4 249h1.3M775 285.4h1.3M788.3 272.2h1.3M801 237.1h1.3M771.8 249.9h1.3M795.4 212.5h1.3M776.7 284.3h1.3M822.7 216.3h1.3M827.8 252.2h1.3M773.4 217.9h1.3M729.5 295.8h1.3M751.7 244.1h1.3M786.1 232.1h1.3M816.6 252h1.3M801.7 264.7h1.3M828.3 240.7h1.3M864.3 280.2h1.3M753.3 291.3h1.3M726.9 280.5h1.3M740.8 316.3h1.3M780.6 276.3h1.3M773.7 290.3h1.3M797.9 272.3h1.3M762.7 259h1.3M811 232.1h1.3M764.1 256.4h1.3M799.5 290.8h1.3M755.4 259.9h1.3M813.9 206.9h1.3M776.9 264h1.3M775.2 216.4h1.3M800.6 220.3h1.3M811.7 271h1.3M814.2 216.5h1.3M788.7 281.4h1.3M821.8 267.1h1.3M778.1 290.3h1.3M828 243.5h1.3M745.6 180.7h1.3M864.3 227.6h1.3M771.6 220.7h1.3M828 254.2h1.3M812.1 256.3h1.3M785.1 220.4h1.3M784 223h1.3M813.1 288.7h1.3M821.2 216.7h1.3M773.4 317.2h1.3M789.2 224.7h1.3M770.1 276.2h1.3M784.7 182.3h1.3M760.8 272.6h1.3M809 220.7h1.3M748.1 286h1.3M808.9 251.3h1.3M806 271.2h1.3M833.3 267.2h1.3M824.2 196h1.3M786.4 246.8h1.3M825.1 220.3h1.3M786.2 276.9h1.3M795.2 299.5h1.3M861.2 267.5h1.3M823.4 229.2h1.3M764.6 240.1h1.3M797 219.1h1.3M802.2 277h1.3M805.3 254.6h1.3M818.1 237.5h1.3M739.3 286.3h1.3M800.5 254.6h1.3M759.9 248.2h1.3M809.4 290.2h1.3M795 265.3h1.3M745.4 205.1h1.3M750.2 263.1h1.3M798.4 310.3h1.3M791.3 246.4h1.3M791.4 248.6h1.3M809.4 235h1.3M776 212.9h1.3M767.4 197.5h1.3M813.5 274.8h1.3M823.7 248.3h1.3M834.9 243.9h1.3M838.1 219.7h1.3M798.4 247.6h1.3M808.3 229.8h1.3M805.8 273.4h1.3M783.1 209.8h1.3M768.5 283h1.3M818.5 219h1.3M777.4 227.7h1.3M766 276.5h1.3M765.6 278.4h1.3M794.5 275h1.3M777.7 263.5h1.3M752.2 273.8h1.3M757.3 237.9h1.3M790.8 264.6h1.3M816.5 271.7h1.3M728.4 232.6h1.3M764.6 263.5h1.3M818.1 215h1.3M818.5 216.9h1.3M761.9 213.4h1.3M804.4 266.4h1.3M787.4 260.9h1.3M766.9 282.2h1.3M792.9 280.4h1.3M770.5 281h1.3M793.4 244.9h1.3M779.7 281.8h1.3M748.5 267.3h1.3M774.5 270.3h1.3M792.1 234.6h1.3M789.3 293.5h1.3M823.6 226h1.3M761.6 256.1h1.3M793.6 253.1h1.3M774 181.6h1.3M799.3 230.1h1.3M748 264.2h1.3M868.4 253.2h1.3M772.6 261.5h1.3M748.6 278.8h1.3M849.1 278.7h1.3M849.6 221.1h1.3M834.3 217.3h1.3M770.8 234.8h1.3M803.6 267h1.3M795.6 208h1.3M753.5 244.7h1.3M800.9 226h1.3M832.8 257.8h1.3M810.7 224.5h1.3M813.2 235.4h1.3M825.8 238.6h1.3M788.8 220.6h1.3M745.3 272.9h1.3M774.4 248.8h1.3M784.6 259.2h1.3M767.9 296.1h1.3M785.8 237.7h1.3M752.9 301.5h1.3M763.1 194.3h1.3M777.4 258.4h1.3M809.1 265h1.3M735.2 280h1.3M786.3 258.7h1.3M740 200.1h1.3M804.7 273.8h1.3M762.7 285.7h1.3M781.7 312.6h1.3M746.9 206.4h1.3M782.6 238.3h1.3M777.2 293.6h1.3M831.9 234.3h1.3M751.6 272.1h1.3M859.1 303.1h1.3M780.3 260.1h1.3M763.6 287.3h1.3M739.8 221.4h1.3M862.5 184.2h1.3M829.4 253.5h1.3M776 240.2h1.3M796.8 237.1h1.3M826.2 248.1h1.3M854.1 264.8h1.3M767.8 239.4h1.3M783.6 294.6h1.3M818.5 209.5h1.3M791.4 231h1.3M808.2 251.2h1.3M762 266.7h1.3M863 245.4h1.3M814.8 230.7h1.3M768.7 266.1h1.3M826.8 256.7h1.3M808.1 270.2h1.3M776.9 304.1h1.3M798.5 249.7h1.3M815 219.6h1.3M806.8 218.6h1.3M756.1 290h1.3M806.5 187.7h1.3M794.6 256.7h1.3M781.2 262.1h1.3M812.4 264.6h1.3M815.8 214h1.3M762 281h1.3M781.8 264.8h1.3M747.8 298.6h1.3M781.1 284.4h1.3M805.1 246.4h1.3M838.2 231.2h1.3M861.4 191.7h1.3M792.9 208.9h1.3M784.7 255.7h1.3M793.1 215.7h1.3M833.9 234.4h1.3M810.1 248.1h1.3M820 264.6h1.3M784.1 252.5h1.3M831.3 213h1.3M774.6 262.1h1.3M797.7 256.1h1.3M776.1 224.8h1.3M757.9 238.2h1.3M793.4 306.3h1.3M773.2 228.8h1.3M754.2 253.2h1.3M762 237.6h1.3M734 217.7h1.3M749.3 254.3h1.3M761.7 238.7h1.3M784.9 242.7h1.3M749.9 246.6h1.3M815.5 236h1.3M818 255h1.3M741.7 197.7h1.3M816.7 265.9h1.3M780.9 288.7h1.3M772.4 241h1.3M793.9 283.3h1.3M726.4 242.9h1.3M819.6 243h1.3M817.7 236.3h1.3M804.2 266.3h1.3M802.9 273.6h1.3M823.8 229.3h1.3M792.7 265.4h1.3M798.6 253.5h1.3M790.8 287.2h1.3M782.2 254.8h1.3M793.9 214.1h1.3M753.5 290.6h1.3M822.4 285.4h1.3M752.9 248.1h1.3M792.2 227.6h1.3M725.4 209.1h1.3M755.4 258.6h1.3M798 259.3h1.3M817.3 255.6h1.3M791.8 225.3h1.3M782.6 282.2h1.3M773.8 262.2h1.3M773.6 238.2h1.3M821 213.5h1.3M833.1 264.2h1.3M830.5 245.9h1.3M801.5 257.6h1.3M826.1 294.3h1.3M764.9 289.4h1.3M770.3 240.2h1.3M807.4 265.5h1.3M815.8 268.8h1.3M773.8 250.5h1.3M779.6 289.5h1.3M737.9 246.8h1.3M832.9 239.3h1.3M817.9 248.8h1.3M822.6 186.2h1.3M813.7 266.4h1.3M802.1 264.6h1.3M787 277.7h1.3M752.5 234.2h1.3M784.4 232.8h1.3M823.5 248.5h1.3M794.9 276.2h1.3M812.1 238.6h1.3M762.1 304.3h1.3M766.3 290.4h1.3M780.9 208.4h1.3M824 238h1.3M805.6 221.6h1.3M766 286.4h1.3M818.7 221.7h1.3M786.1 223.9h1.3M766.7 271.6h1.3M748.2 259.2h1.3M795.9 282.7h1.3M789.7 212.7h1.3M777 268.6h1.3M723 193.3h1.3M830.4 245.4h1.3M737.9 234.9h1.3M825.1 217.8h1.3M751.9 270.3h1.3M779.4 287h1.3M834.6 256.6h1.3M842.3 228.3h1.3M786.9 249.6h1.3M801.3 264.6h1.3M763.2 308h1.3M822.1 234.2h1.3M783.8 232.8h1.3M750.5 289h1.3M751.5 254.8h1.3M804.4 224.9h1.3M790.6 255h1.3M805.9 247.3h1.3M812.6 227.8h1.3M748.5 279.4h1.3M784.6 261.3h1.3M840.9 234.9h1.3M817.7 249h1.3M806.9 226.1h1.3M725.7 196.1h1.3M786.1 224h1.3M836.8 246.7h1.3M782.3 247.8h1.3M783.8 222.1h1.3M817.9 211.5h1.3M784 271.6h1.3M827.7 225.1h1.3M745.1 230.1h1.3M734.5 259.4h1.3M831.4 225.7h1.3M839.3 309.4h1.3M781.7 250.9h1.3M794.3 225.6h1.3M758.9 253.1h1.3M784.1 275.3h1.3M844.8 309.3h1.3M774.6 230.8h1.3M822.9 284.4h1.3M789.6 233.3h1.3M811.9 209.4h1.3M772 234.5h1.3M809.6 187.4h1.3M761.4 229h1.3M800 240.1h1.3M830.7 246.5h1.3M803.8 233.6h1.3M772.6 296.6h1.3M761.5 295.7h1.3M820.3 224.4h1.3M826.1 209.4h1.3M806.5 230.3h1.3M769.5 216h1.3M808.6 224.1h1.3M744.5 221.5h1.3M795.2 200.9h1.3M808.6 243.8h1.3M800.3 184.1h1.3M763.3 294.8h1.3M748.2 312.1h1.3M787.1 285.8h1.3M794.6 244.7h1.3M781.8 264h1.3M729.6 196.5h1.3M783.6 274.8h1.3M843.3 192.9h1.3M774 245h1.3M819 246.9h1.3M796.7 246.6h1.3M795.8 240.1h1.3M784.2 240.3h1.3M836.1 201.3h1.3M826.1 240.8h1.3M817 218.1h1.3M792.1 248.9h1.3M800.4 276.7h1.3M785 246.7h1.3M801 245h1.3M802.3 240.4h1.3M765.6 285.9h1.3M775 227.2h1.3M759.1 262.1h1.3M799 238.3h1.3M723 189h1.3M787.1 316.1h1.3M775.3 278.6h1.3M798.4 239.6h1.3M770.1 241.9h1.3M771.5 233.3h1.3M814 236.5h1.3M812.4 243.5h1.3M745.2 261.9h1.3M839.7 224.6h1.3M851 285.1h1.3M766 255.8h1.3M821.1 225.1h1.3M801 265.6h1.3M823.6 247.7h1.3M853.9 268.7h1.3M769.3 229.7h1.3M783.5 217.3h1.3M782.2 279.2h1.3M794.4 256.4h1.3M752.4 301.1h1.3M777.9 275.8h1.3M792.9 277.6h1.3M859.1 229.2h1.3M863 280.3h1.3M760.2 233.5h1.3M801.9 208.8h1.3M835.2 220.8h1.3M736.2 310.1h1.3M743.7 261h1.3M756.2 237.6h1.3M770.8 262h1.3M774.8 281.9h1.3M809 240.1h1.3M759.9 275h1.3M796.6 227.8h1.3M809.8 217.9h1.3M830.4 240.7h1.3M745.8 265.9h1.3M801.3 274.9h1.3M815.3 228.9h1.3M841.7 241.1h1.3M767.6 283.7h1.3M746 264.1h1.3M771 281h1.3M764.5 275.6h1.3M828.1 236.1h1.3M729.1 209.4h1.3M806.1 238.1h1.3M771.7 266h1.3M749 274.3h1.3M834.5 213.9h1.3M753.6 289.8h1.3M792.7 276.7h1.3M801.6 260.9h1.3M731.9 211h1.3M791 293.5h1.3M810.1 259h1.3M800 222.5h1.3M757.6 239.9h1.3M755.3 283.8h1.3M774.8 262.2h1.3M777 262h1.3M803.9 232.5h1.3M801.3 246h1.3M746.3 259.8h1.3M770.8 252.9h1.3M853.5 226.9h1.3M833.2 239.4h1.3M745.4 232.4h1.3M798.9 267.7h1.3M814.9 259.6h1.3M835.3 221h1.3M806.6 301.3h1.3M860.9 257.5h1.3M798.2 250.2h1.3M738.3 261h1.3M835.7 244.3h1.3M778.3 291.4h1.3M801 257.3h1.3M850.3 268h1.3M760 293.9h1.3M761.8 306.5h1.3M856.4 305h1.3M819.4 224.3h1.3M783.2 267.3h1.3M788.9 214.7h1.3M804.8 256.9h1.3M820.1 236.7h1.3M854.4 180.4h1.3M804.2 232.7h1.3M827.2 243.3h1.3M768 297.2h1.3M765.4 250h1.3M799.3 231.8h1.3M807 218.5h1.3M734.9 231.5h1.3M782.6 253h1.3M822.6 229.1h1.3M822.4 209.9h1.3M791.7 215.7h1.3M760.2 244.3h1.3M775.4 228.3h1.3M778.3 242.9h1.3M749.7 279.1h1.3M765.9 250.6h1.3M815.7 218.5h1.3M801 309.6h1.3M822.1 251h1.3M787.2 239.4h1.3M789.5 251.8h1.3M787.2 280.2h1.3M778.6 293.5h1.3M814.3 222.9h1.3M800.6 264.1h1.3M818.3 245.6h1.3M782.6 294.8h1.3M836.7 233h1.3M773 271.9h1.3M865.9 302.3h1.3M757 235.2h1.3M769.7 289.9h1.3M815.1 185.9h1.3M774.2 241.1h1.3M824.5 214h1.3M768.6 268.2h1.3M778.8 301.6h1.3M765.1 229.2h1.3M732.4 256.1h1.3M785.7 230.1h1.3M811.7 260.8h1.3M761.5 269.5h1.3M770.3 288.5h1.3M757.6 270.8h1.3M803 245.1h1.3M827.4 213.8h1.3M785.1 224.8h1.3M808.8 246.2h1.3M794.7 231.3h1.3M760.8 281.1h1.3M769.9 294h1.3M758.5 247.6h1.3M729.3 242.3h1.3M764.3 280.1h1.3M769.5 274.6h1.3M781 233.9h1.3M790.2 240.7h1.3M770.7 277.2h1.3M787.2 265.1h1.3M865 270.2h1.3M743.2 242.5h1.3M828.6 218h1.3M837.3 228.3h1.3M774 251.9h1.3M806.4 227.7h1.3M794.9 284.4h1.3M788.3 277.2h1.3M786.4 239.7h1.3M833.2 218.8h1.3M803.3 269.5h1.3M786.9 204.3h1.3M738.3 305.9h1.3M833.8 217.9h1.3M828.3 255.4h1.3M792 254h1.3M827.2 251.9h1.3M842.8 242.4h1.3M769.9 224.3h1.3M764 251.7h1.3M854.7 313.8h1.3M790.6 190.8h1.3M793.5 235.3h1.3M766.1 224.9h1.3M819.9 220h1.3M769.9 241.8h1.3M816.3 237h1.3M747.6 269.9h1.3M761.2 242.6h1.3M774.5 220.5h1.3M825.4 244.2h1.3M776.8 224.6h1.3M776.5 262h1.3M827.7 228.6h1.3M818.7 215h1.3M834.2 272.3h1.3M771.8 229.6h1.3M795.4 255.4h1.3M821.4 229.9h1.3M772.5 253.9h1.3M793.8 267h1.3M776.1 226.6h1.3M748.3 263.2h1.3M770.2 231.4h1.3M825.6 255h1.3M791.1 275.1h1.3M829.3 245.9h1.3M744.7 305.6h1.3M769.8 217h1.3M814.1 245.5h1.3M767.5 283.2h1.3M782.9 284.4h1.3M818.9 248.3h1.3M782.5 232.8h1.3M821.7 265h1.3M759.3 244.4h1.3M790.6 254.5h1.3M840.2 247.6h1.3M770.3 231.1h1.3M746.8 249.6h1.3M829.2 232.4h1.3M759.1 210.5h1.3M824.5 261.9h1.3M769.9 228h1.3M817.2 242.5h1.3M845.3 308.6h1.3M784.6 216.4h1.3M759.2 280.3h1.3M789.3 258.1h1.3M791.1 249.4h1.3M825.2 249.4h1.3M818.8 219h1.3M784.2 254.2h1.3M746.7 294.3h1.3M763.2 252.8h1.3M761.9 241.9h1.3M744.8 299.7h1.3M777.2 292.1h1.3M753.4 243.2h1.3M778.5 248.6h1.3M789.2 254.1h1.3M796.8 254.1h1.3M814.9 247.6h1.3M779.8 267.9h1.3" stroke="#dcc800" stroke-width="1.3" stroke-opacity="1" fill="none"/>
<path d="M790.1 235.6h1.3M782.5 235.5h1.3M742.7 215.5h1.3M764.3 254.8h1.3M724.2 270.2h1.3M791.8 250.3h1.3M823.5 273h1.3M759.9 268h1.3M757.6 284.1h1.3M794.4 263h1.3M817.5 226.9h1.3M838 229.2h1.3M827.9 236.9h1.3M814.6 230.8h1.3M819.8 234.9h1.3M792.5 228.9h1.3M777.9 251.5h1.3M830.5 243.4h1.3M812.3 234.8h1.3M749 196h1.3M813 211.9h1.3M765.3 226.2h1.3M825.6 224.5h1.3M773.8 226.7h1.3M812 261.4h1.3M781.9 259.3h1.3M805.6 227.4h1.3M758.6 273.8h1.3M819.6 301.4h1.3M766.3 282.9h1.3M828.6 222.4h1.3M795.5 252h1.3M786.1 245.7h1.3M785 206.3h1.3M822.2 218.4h1.3M791.3 218.9h1.3M824.2 222.5h1.3M844.5 233.9h1.3M744.9 252.1h1.3M765.4 244.5h1.3M774.7 296.2h1.3M796.5 256.6h1.3M842.5 248.1h1.3M774.1 292.6h1.3M850.8 268h1.3M812.8 258.5h1.3M748.2 257h1.3M763 248.7h1.3M803.2 233.5h1.3M756.9 290.6h1.3M737.6 261.2h1.3M833.9 223.8h1.3M782.3 252.3h1.3M787.7 196.3h1.3M783.7 267.6h1.3M767.9 274.8h1.3M772.6 304.1h1.3M764 243.2h1.3M809.3 229.4h1.3M788.3 260.2h1.3M793.5 277.1h1.3M796.3 233.7h1.3M783.1 303.8h1.3M812.5 213.6h1.3M780.6 313.3h1.3M755.2 244.5h1.3M772.9 296.9h1.3M730.7 277.7h1.3M804.6 254.8h1.3M866.4 218.4h1.3M772.4 292h1.3M812.7 259.4h1.3M757.7 238.4h1.3M792.5 285h1.3M765.7 293.2h1.3M828.3 235.9h1.3M772.5 226.7h1.3M777 254.1h1.3M813.4 218.9h1.3M806.3 258.7h1.3M850.4 209.9h1.3M778.5 247.4h1.3M725.1 237.2h1.3M796.1 232.5h1.3M771.6 264.5h1.3M784.8 221.4h1.3M755.8 285.6h1.3M797.6 279.2h1.3M819.8 221.4h1.3M795.1 294h1.3M759.9 295.1h1.3M764.8 279.7h1.3M782.4 205.7h1.3M725.7 214.6h1.3M739.7 231.5h1.3M822.5 236.4h1.3M863.3 310.7h1.3M774.3 277.5h1.3M778.5 251h1.3M786.7 286.1h1.3M769.4 231.3h1.3M822.4 212.1h1.3M773 258.7h1.3M807.8 267.4h1.3M804.9 214.3h1.3M827.5 204.6h1.3M823.7 233.1h1.3M795.7 246.4h1.3M756.1 253.4h1.3M817.6 239.2h1.3M825.8 242.2h1.3M794.2 228.3h1.3M790.6 222.5h1.3M782.3 264.6h1.3M763.5 243.2h1.3M835.6 293.7h1.3M754.4 243.3h1.3M805.2 281.5h1.3M758.8 247.6h1.3M821.9 248.1h1.3M810 238.7h1.3M802.5 212.2h1.3M768.5 254.5h1.3M826.3 226.3h1.3M758.8 292.8h1.3M752.8 196.5h1.3M752.1 274.2h1.3M820.8 254.6h1.3M824.3 245.2h1.3M778.2 192.2h1.3M783.9 217.2h1.3M811.7 265.5h1.3M793.1 285.3h1.3M847 220.6h1.3M787.5 286.5h1.3M759.1 239.3h1.3M783.4 186.9h1.3M802.8 239.9h1.3M816.5 266h1.3M790 281.7h1.3M791.3 217.3h1.3M815.1 262.9h1.3M778.3 279.2h1.3M759.2 258.3h1.3M792.8 287.2h1.3M851.8 263.6h1.3M849.5 189.8h1.3M820.6 216.2h1.3M834.9 231.1h1.3M829.1 209.4h1.3M759.4 282.7h1.3M797.8 249.9h1.3M821.6 222.7h1.3M747.6 256.4h1.3M825.9 245.7h1.3M785.4 259.6h1.3M814.1 284.4h1.3M798.8 271h1.3M764.1 288.2h1.3M777.6 232h1.3M793.3 268.1h1.3M828.7 225.7h1.3M819.4 265.1h1.3M822.5 217.5h1.3M722.3 276.2h1.3M818.5 284.6h1.3M852.4 311.5h1.3M752 268.2h1.3M817.5 239h1.3M791.2 282.1h1.3M821.8 318.2h1.3M761.1 240h1.3M733.8 261.8h1.3M772.5 270.1h1.3M833 207.2h1.3M791.1 245h1.3M838.9 239.4h1.3M791.5 254.7h1.3M856.7 212h1.3M763.6 235.7h1.3M805.8 227.9h1.3M807.4 272.7h1.3M796.9 220.8h1.3M789.3 253.4h1.3M824.7 192.5h1.3M816.3 222h1.3M784.4 225.4h1.3M839.4 198.7h1.3M766.3 286h1.3M742.6 181.7h1.3M736.9 179.3h1.3M779.5 235.4h1.3M754 209.9h1.3M778.3 234.2h1.3M796.7 262.8h1.3M779.3 292.1h1.3M775.1 226.6h1.3M803.2 278.8h1.3M804.3 217.3h1.3M810.2 221.8h1.3M796.4 274.3h1.3M840.7 229.8h1.3M781.1 242.7h1.3M781.2 267.5h1.3M785.8 214.9h1.3M804 221.1h1.3M785 303h1.3M778.7 225.6h1.3M833.6 275h1.3M798.5 212.4h1.3M794.1 215h1.3M778.7 224.6h1.3M803 253.1h1.3M802.2 224.9h1.3M780.8 280.9h1.3M828.6 301.4h1.3M800.1 296.1h1.3M794.4 287.3h1.3M762.9 278.6h1.3M824.3 261.3h1.3M773.5 231.1h1.3M758.7 267.9h1.3M722.8 230.5h1.3M742.5 265.6h1.3M838 221.5h1.3M757.6 247.4h1.3M790.7 284.1h1.3M794.9 235h1.3M809.2 275h1.3M785 232h1.3M789.4 275.4h1.3M773.4 237.7h1.3M761.8 256.3h1.3M792.3 216.1h1.3M792.5 251.8h1.3M838.8 226.5h1.3M754.1 251.7h1.3M754.2 260.3h1.3M773.5 251h1.3M788.7 262.6h1.3M751.3 244.3h1.3M791.2 249.9h1.3M860.5 237.7h1.3M866.4 315h1.3M786.4 219.7h1.3M867.3 187.6h1.3M766.6 185.4h1.3M826.7 210.1h1.3M764.6 270.8h1.3M828.7 181.3h1.3M746.5 273.2h1.3M798.7 248.4h1.3M787.3 247.2h1.3M785 248.3h1.3M785.6 187.7h1.3M808.2 292.1h1.3M811.7 226.7h1.3M824.7 253.2h1.3M766 263.7h1.3M743.6 249h1.3M807.6 249.4h1.3M756.4 276.6h1.3M818.5 317.9h1.3M860.3 208.9h1.3M788.7 212h1.3M736 262.2h1.3M834.1 290.1h1.3M774.8 223.7h1.3M778.5 290.3h1.3M820.6 212.8h1.3M833.5 249.8h1.3M775.3 270.6h1.3M807.5 221.9h1.3M754.7 243.1h1.3M812.3 228.3h1.3M785.6 249.7h1.3M821 222.8h1.3M731.4 187.8h1.3M814 250.8h1.3M840.3 225.4h1.3M760.3 202.8h1.3M851.1 196.3h1.3M759.5 295.1h1.3M834.7 235.3h1.3M793.9 262.5h1.3M748.1 282.6h1.3M761.8 279.1h1.3M765.3 265.1h1.3M836.8 285.3h1.3M759.8 269.8h1.3M786.3 285.3h1.3M783.6 225.2h1.3M860.2 250h1.3M818.6 222.9h1.3M812.1 248.6h1.3M772.5 259.9h1.3M802.9 277.5h1.3M783.9 248.3h1.3M859.3 186.1h1.3M774.5 197.2h1.3M820.8 218.5h1.3M791.1 235.9h1.3M764.7 215.6h1.3M767.6 225.1h1.3M777.2 257.2h1.3M802.1 274h1.3M864.9 247.9h1.3M860.5 195.7h1.3M829 218.9h1.3M782.8 268.1h1.3M778.6 251.8h1.3M788.8 288.4h1.3M756.5 238.8h1.3M779.7 255h1.3M849.2 272.6h1.3M755.4 281.9h1.3M810.5 273.9h1.3M787.9 199.7h1.3M820.1 225.9h1.3M833.5 238.3h1.3M809.7 236.2h1.3M768.6 206.9h1.3M789.8 283h1.3M838.2 215.9h1.3M796.9 236.9h1.3M855.5 261.1h1.3M804 235h1.3M799 249.7h1.3M765.5 309h1.3M787.8 215h1.3M829.1 259.9h1.3M773.6 246.1h1.3M759.4 280.4h1.3M770.8 181.5h1.3M779 279.3h1.3M828.8 212.4h1.3M789.9 267.4h1.3M795 250.1h1.3M775.2 256h1.3M770.1 286.3h1.3M821.8 240.9h1.3M769.8 266.8h1.3M777 260.7h1.3M764 235.9h1.3M762.8 265.3h1.3M765.1 244.2h1.3M797.1 246.1h1.3M832.3 226.7h1.3M795.2 267.2h1.3M771.7 243.3h1.3M823.9 208.5h1.3M796.4 272.3h1.3M774.2 218.7h1.3M787.4 222.8h1.3M784.2 230.3h1.3M862.3 308.8h1.3M777.2 295.1h1.3M802.4 215.4h1.3M822 219.2h1.3M779.6 257h1.3M806.9 242.7h1.3M744.4 294.2h1.3M797.9 218.9h1.3M778.5 258.2h1.3M759.3 290.3h1.3M742 262.7h1.3M802 227.9h1.3M817.2 218.7h1.3M787.2 211h1.3M819.2 213.9h1.3M847.9 316.5h1.3M772.3 274.2h1.3M797 179.4h1.3M786.7 274h1.3M786.2 249h1.3M741.4 206.9h1.3M755.3 285.3h1.3M823.8 203.3h1.3M744 208.5h1.3M758.2 245.9h1.3M796.8 243.9h1.3M820.3 219.4h1.3M839 211.2h1.3M763.7 270.3h1.3M777.6 248.2h1.3M828.5 243.4h1.3M858 232.6h1.3M772.8 227.9h1.3M832.4 218.8h1.3M777.9 237.4h1.3M789.5 311.1h1.3M799.8 242.1h1.3M838 237.9h1.3M815 240.4h1.3M786.2 231.9h1.3M778.3 291.1h1.3M796.5 273.7h1.3M764.3 254.1h1.3M770.6 289h1.3M752.6 234.9h1.3M739 205.9h1.3M802.2 269.7h1.3M796.2 217h1.3M832.7 231.4h1.3M825.4 262.6h1.3M851.3 256.4h1.3M775 295.4h1.3M770.3 279.9h1.3M799.7 254.4h1.3M760.7 296.4h1.3M754.6 268.5h1.3M787.9 285.5h1.3M790.3 258.1h1.3M797.4 246.7h1.3M761.6 254.9h1.3M726 253.8h1.3M778.6 245.2h1.3M801.5 180.8h1.3M798.6 279.8h1.3M807.3 260h1.3M817.7 216h1.3M768.1 230.6h1.3M764.8 267.2h1.3M786.5 262.5h1.3M841.2 233.7h1.3M723 196.6h1.3M826.9 246.4h1.3M821 233.8h1.3M770.5 262.1h1.3M808.4 256.3h1.3M750.4 276.9h1.3M793.2 238.9h1.3M777.5 251.2h1.3M802.9 209.2h1.3M807.9 260.3h1.3M814.7 250.5h1.3M805.9 269.3h1.3M753.1 294.9h1.3M808.6 226.8h1.3M751.4 249.6h1.3M811.2 248.7h1.3M832.2 227.6h1.3M759.9 251.2h1.3M795.8 285.8h1.3M847.2 314.2h1.3M814.4 262.4h1.3M809.5 212.2h1.3M756.7 246.4h1.3M797 223.2h1.3M822.6 239.6h1.3M811.7 316.8h1.3M747.8 276.1h1.3M812.2 203.6h1.3M760.5 274.3h1.3M786.5 284.3h1.3M827.8 237.7h1.3M835.5 247.4h1.3M756.6 241.5h1.3M781.9 285.8h1.3M761 263.9h1.3M825 247.8h1.3M726.6 218.2h1.3M792.4 227.8h1.3M811.8 225.4h1.3M761.6 262.7h1.3M779 222.5h1.3M816.5 228.9h1.3M859.2 261.3h1.3M814.8 236.8h1.3M818.8 231.6h1.3M803.3 216.4h1.3M832.3 241.4h1.3M763.3 278.4h1.3M750.9 248.5h1.3M776.7 287.8h1.3M817.3 230.2h1.3M760.6 258.3h1.3M789.3 276.5h1.3M782.2 192h1.3M796.1 256.9h1.3M765.9 285.3h1.3M753.1 282h1.3M812.7 236.1h1.3M745 257.6h1.3M770 229.8h1.3M841.7 294.5h1.3M768.4 288.5h1.3M765.9 264.8h1.3M781.6 285h1.3M819.2 227.2h1.3M766.2 248.2h1.3M812.5 230.2h1.3M823.8 252.9h1.3M804.3 260.6h1.3M769.9 220.6h1.3M833.1 182h1.3M766.5 232.5h1.3M774.8 256h1.3M832.4 225h1.3M785.7 278.4h1.3M856.6 271.9h1.3M839.6 236.6h1.3M813.2 212.7h1.3M804.5 216.8h1.3M739.6 290.1h1.3M736.1 307.8h1.3M760.7 242.8h1.3M755.4 240.2h1.3M823.6 248.3h1.3M796.7 211.9h1.3M774.1 254.5h1.3M779 276.4h1.3M820.9 253.8h1.3M803.4 232.3h1.3M867.9 230.8h1.3M797.2 243.8h1.3M814.3 251.5h1.3M839.1 310.4h1.3M837.2 245.8h1.3M749.7 263.4h1.3M793.7 287.3h1.3M834 231.5h1.3M753.8 286h1.3M781.6 244.1h1.3M760.8 249.5h1.3M774.2 237h1.3M743.7 232.6h1.3M778.9 235.4h1.3M814.4 261.1h1.3M777.7 250.3h1.3M786.5 290.4h1.3M774.7 241.4h1.3M765.4 235.8h1.3M794.3 227.3h1.3M804.5 251.9h1.3M733.8 212.5h1.3M761.9 234.4h1.3M836.5 198.3h1.3M752.7 314.5h1.3M739.8 243.9h1.3M819.5 229.5h1.3M835.2 276.2h1.3M770.6 274h1.3M843.8 234.3h1.3M826.5 252.2h1.3M863.5 309h1.3M761.6 277.8h1.3M764.4 247.4h1.3M807.3 213.7h1.3M726.8 298.5h1.3M786.1 273.8h1.3M779.2 261.5h1.3M831.2 241.5h1.3M753.1 249.6h1.3M812.6 311.9h1.3M827.4 210.9h1.3M795.3 276.4h1.3M773.5 251.7h1.3M776.8 286.3h1.3M776.7 283.1h1.3M746.8 233.3h1.3M799.1 237h1.3M815.4 246.2h1.3M796.2 181.5h1.3M844.2 286.5h1.3M792.1 280.3h1.3M823.5 229.3h1.3M815.6 265.8h1.3M764.2 292.4h1.3M757 251.9h1.3M829.3 228.7h1.3M830.5 257.9h1.3M772.5 248.2h1.3M797.9 270.6h1.3M827.2 240.8h1.3M813.8 235.1h1.3M811.6 208.1h1.3M787.7 262.8h1.3M775.7 283.4h1.3M798.7 212.6h1.3M786.2 254.3h1.3M816.3 235.6h1.3M785.9 281.5h1.3M798.6 241.1h1.3M794 242.6h1.3M783.3 242.4h1.3M778.5 276.5h1.3M793.8 275.5h1.3M764.5 240h1.3M865.1 266.1h1.3M809.6 247.6h1.3M752.8 259.7h1.3M784.5 224.8h1.3M845.2 222.4h1.3M767.4 277.1h1.3M724.3 261.6h1.3M774.1 263h1.3M792.5 237.6h1.3M776.5 261.6h1.3M779.6 218.5h1.3M767.4 250h1.3M829.3 193.9h1.3M822 249.7h1.3M818.3 245.3h1.3M865 241.4h1.3M738.4 277.4h1.3M802.7 226.4h1.3M758.2 229.6h1.3M810.4 241.8h1.3M724.6 304.6h1.3M764.6 273.4h1.3M797 242.9h1.3M807.1 237.8h1.3M787.2 228.9h1.3M774.8 278.9h1.3M776.5 289.5h1.3M757.3 199.4h1.3M831 239h1.3M809.1 230h1.3M729.2 269.3h1.3M794.2 271.1h1.3M785.1 264.3h1.3M766.6 267.1h1.3M795.7 227.2h1.3M784.7 282.7h1.3M834.4 203.7h1.3M783.1 281.5h1.3M807.4 233.4h1.3M810.7 233.1h1.3M795.8 246.3h1.3M751.5 263.5h1.3M815.2 260.7h1.3M780.1 276h1.3M833.2 222.5h1.3M784.2 234.5h1.3M755 272.5h1.3M825.8 218.9h1.3M829.5 225.5h1.3M743.4 214h1.3M784.7 226.5h1.3M824.4 222.2h1.3M820.8 232.2h1.3M793.7 236.8h1.3M807.6 229h1.3M793.2 273.5h1.3M817.2 205.8h1.3M794.8 265.8h1.3M757.2 251h1.3M790.6 259.5h1.3M778.1 232.8h1.3M761.7 290.5h1.3M797.6 251.6h1.3M806.4 245.1h1.3M766.3 284.8h1.3M796.7 210.4h1.3M755.8 211.2h1.3M825.5 260.7h1.3M817.6 215.6h1.3M805.3 247.9h1.3M795.2 225.7h1.3M833.2 249.6h1.3M791 269.8h1.3M781.4 285.1h1.3M786.5 251.8h1.3M792 270h1.3M756.7 251.4h1.3M743.8 267.2h1.3M813.4 217.3h1.3M822 250.5h1.3M783.6 286.8h1.3M827.9 260.4h1.3M767.9 243.8h1.3M804.9 267.3h1.3M855.8 222.1h1.3M807.5 292.9h1.3M806.2 241.1h1.3M826.7 217.4h1.3M793 256.1h1.3M820.3 264h1.3M796.4 212.3h1.3M760.5 240.4h1.3M777.1 217.4h1.3M777.7 280h1.3M788.5 260.2h1.3M740.4 253.8h1.3M820.5 221.1h1.3M783.3 264.5h1.3M759.6 239.6h1.3M849.4 286.3h1.3M831.4 237.6h1.3M824 218.5h1.3M760.6 279.7h1.3M738.6 313.4h1.3M761.1 235.1h1.3M763.5 248.3h1.3M809 261.3h1.3M861.2 309.8h1.3M803.8 259.7h1.3M806.5 267.3h1.3M790.9 238.7h1.3M762 273.3h1.3M802 244.6h1.3M823.5 247.4h1.3M748.4 286h1.3M839.6 226.2h1.3M822.9 256.1h1.3M788.3 307.3h1.3M810.6 301.5h1.3M723.2 211h1.3M778.8 245.4h1.3M861.6 212.3h1.3M751.2 285.3h1.3M782.5 282.5h1.3M737.6 229.9h1.3M767.6 266.7h1.3M745.1 265.8h1.3M765.5 283.4h1.3M784.8 233.4h1.3M825.3 255.8h1.3M816.8 256.5h1.3M824.4 214.3h1.3M796 288.6h1.3M765.1 286.7h1.3M747.8 219.9h1.3M842.9 287.6h1.3M799.1 253.2h1.3M780 237.8h1.3M731.2 295.8h1.3M833.5 260h1.3M772.6 258.3h1.3M814.2 254.1h1.3M767.4 252.2h1.3M785.9 233.2h1.3M786.5 271h1.3M803.3 256.4h1.3M761.2 279.5h1.3M809.3 201.7h1.3M762.9 280.5h1.3M799 238.2h1.3M779.5 272.9h1.3M777.6 274.7h1.3M827.7 309.2h1.3M807.3 235.3h1.3M782.9 241.7h1.3M798.4 223.8h1.3M829 223.8h1.3M760.4 277.4h1.3M786.7 243.1h1.3M779.6 224.8h1.3M833 225.6h1.3M834.3 237h1.3M788.7 218.7h1.3M844.1 250.6h1.3M809.3 248.5h1.3M736.6 260.6h1.3M819.1 253.2h1.3M789.7 270.1h1.3M784.7 237.1h1.3M756.1 251.2h1.3M768.8 267.2h1.3M849.8 287.2h1.3M775.5 244.3h1.3M846 287.2h1.3M802.2 272.1h1.3M771.2 210.9h1.3M789.8 232.8h1.3M779 249.8h1.3M772 201.2h1.3M841.7 202.1h1.3M765.9 304.9h1.3M728.5 194.2h1.3M862.3 298.2h1.3M771.8 280.5h1.3M763.2 289.4h1.3M806.6 236.5h1.3M860.8 300.2h1.3M826.1 211.6h1.3M810.1 269.1h1.3M839.5 221.2h1.3M776.9 249.2h1.3M768.5 242.4h1.3M830.3 238h1.3M781.8 248.6h1.3" stroke="#7a7004" stroke-width="1.3" stroke-opacity="1" fill="none"/>
<text x="844" y="201.6" font-size="18" fill="#f2e600" font-weight="bold" text-anchor="start" >O</text>
<path d="M987.1 224h1.6M952 259.2h1.6M902.6 261.7h1.6M951.4 268.5h1.6M908.7 259.4h1.6M922.3 223.2h1.6M874.7 220.9h1.6M931 242.1h1.6M970.2 222.5h1.6M960.3 199.3h1.6M968.8 230.5h1.6M932.9 267.5h1.6M966.8 240.3h1.6M944.1 233.1h1.6M951 244.6h1.6M935.5 274.3h1.6M923.5 231.4h1.6M929.5 261.3h1.6M939.9 262h1.6M976.8 237.6h1.6M982.2 252.3h1.6M933.1 227.2h1.6M934.3 249.9h1.6M922.6 230.9h1.6M956.5 267.5h1.6M915.3 249.2h1.6M899 281.5h1.6M930.5 287.8h1.6M914.5 278.8h1.6M938.1 220.9h1.6M975.3 258.5h1.6M983.7 224.7h1.6M949.9 234.8h1.6M910.8 224.7h1.6M907.1 246.2h1.6M939 289.1h1.6M966.7 217.3h1.6M960.4 222.3h1.6M990.9 238.7h1.6M938 277h1.6M935.8 217h1.6M1007.1 226.4h1.6M903.1 264.2h1.6M953.6 266.5h1.6M940.6 214.9h1.6M927.8 261.9h1.6M975.8 211.4h1.6M933.9 227.8h1.6M939.8 282.5h1.6M911.8 264.1h1.6M930.2 287.3h1.6M946 270.8h1.6M916.3 258.8h1.6M938.2 276.7h1.6M957.7 248.1h1.6M940.4 220.7h1.6M956.5 221.8h1.6M982.9 220.4h1.6M931.8 248.7h1.6M955.9 222.5h1.6M921.1 278.3h1.6M947 197.9h1.6M929.3 281.1h1.6M938.7 267.3h1.6M925.9 249.2h1.6M953.9 256.8h1.6M965.4 234.8h1.6M917.3 282.3h1.6M946.1 226.6h1.6M934.4 252.1h1.6M972.1 263h1.6M921.5 273.2h1.6M872.7 306.3h1.6M950.1 209.6h1.6M976.1 209.9h1.6M940.8 223.2h1.6M980.2 244.9h1.6M906.8 257.9h1.6M973.4 257.4h1.6M950.3 241.4h1.6M929.9 240.6h1.6M935.9 247.2h1.6M1000 230.2h1.6M930.6 226.3h1.6M979.1 214.7h1.6M940.6 285.6h1.6M960.8 224.6h1.6M943.7 276.9h1.6M976.1 224.4h1.6M922 235.1h1.6M943.1 253.9h1.6M927.5 268.4h1.6M937.5 261.7h1.6M988.1 234.3h1.6" stroke="#f09818" stroke-width="1.6" stroke-opacity="1" fill="none"/>
<path d="M985.7 239.1h1.6M965 254.9h1.6M922.9 284.2h1.6M975.3 224.6h1.6M938.1 231.7h1.6M945.3 231.8h1.6M935.1 232.1h1.6M950.5 221.2h1.6M936 248.4h1.6M922.2 290.2h1.6M915.3 289.7h1.6M931.9 225.4h1.6M967.4 259.6h1.6M933.1 257.9h1.6M978.4 232.3h1.6M941.5 237.6h1.6M878.8 201h1.6M930.6 250h1.6M923.7 244.9h1.6M987.4 240.9h1.6M908.8 226.4h1.6M951.6 247h1.6M914.1 242.6h1.6M955.4 262.6h1.6M955 227.8h1.6M906.9 279.4h1.6M907.6 260.7h1.6M910.8 277.4h1.6M945.8 274.7h1.6M912.1 309.2h1.6M962 266h1.6M934.3 276.2h1.6M932.2 264.8h1.6M919.2 274.8h1.6M958.9 240.2h1.6M910.4 243.3h1.6M932.1 249.5h1.6M933.1 225.2h1.6M941.1 220.5h1.6M942.4 274h1.6M926.9 259.1h1.6M921.3 284.6h1.6M943.7 221h1.6M913.6 256.9h1.6M927.8 290.3h1.6M932.1 236.8h1.6M963.5 230.3h1.6M963.3 230.5h1.6M912.9 282.3h1.6M941.5 279.9h1.6M991.5 243.9h1.6M931.7 276.1h1.6M928.5 264.1h1.6M929.1 270.3h1.6M926.6 261.6h1.6M914.7 247.9h1.6M983.3 231.8h1.6M988.5 235.6h1.6M923.3 287.2h1.6M888.4 292.6h1.6M976.9 227.8h1.6M911.8 252.3h1.6M947.7 255.5h1.6M945.6 210.3h1.6M925.6 280.2h1.6M932.6 243.2h1.6M914.2 251.2h1.6M959.7 238.9h1.6M958.2 244.7h1.6M924.7 227.3h1.6M962.3 223.2h1.6M1018.2 260.8h1.6M973.3 228.8h1.6M923.2 237.1h1.6M984 251.5h1.6M978.7 250h1.6M953.8 241h1.6M898.9 288.1h1.6M974.7 248.3h1.6M923.4 271.5h1.6M916.6 289.1h1.6M929 285.2h1.6M975.2 216.1h1.6M926.2 254.7h1.6M927.5 240.2h1.6M947.7 237h1.6M947.2 272.2h1.6M984.4 281.1h1.6M906.1 245.4h1.6M971.5 237.9h1.6M981.1 241.1h1.6M1010.5 308.4h1.6M914.7 239.5h1.6" stroke="#c87a10" stroke-width="1.6" stroke-opacity="1" fill="none"/>
<path d="M961.8 213.7h1.6M937.4 256.5h1.6M984.7 221.4h1.6M929.7 238.6h1.6M963.8 259.9h1.6M934.9 293.8h1.6M929.1 287.5h1.6M912.7 292.8h1.6M975.3 311.8h1.6M967.1 234.9h1.6M943.8 253.2h1.6M914 276.3h1.6M929.2 240h1.6M931.8 292.7h1.6M948.5 210.7h1.6M918.5 266.6h1.6M922.8 263.2h1.6M939.5 279.9h1.6M942.2 254.8h1.6M984.8 242.3h1.6M920.3 268.3h1.6M988.7 209.7h1.6M974.2 239.8h1.6M875 287.6h1.6M965.1 221.8h1.6M973.1 247.9h1.6M937.9 255.2h1.6M942.5 226.5h1.6M953.2 233.6h1.6M918.6 263.4h1.6M874.4 279.1h1.6M908.6 232h1.6M946.5 215.4h1.6M914.2 253.1h1.6M1007.3 267.5h1.6M927.4 233h1.6M951.6 240.9h1.6M976.9 249.4h1.6M930.6 216.7h1.6M957.8 240.1h1.6M907.6 268h1.6M936.8 226.8h1.6M940.2 225.2h1.6M935.8 276.5h1.6M938.5 236.2h1.6M902.2 267.7h1.6M947.9 277.2h1.6M910.6 265.9h1.6M965.7 227.1h1.6M989.7 273.9h1.6M944.9 304.1h1.6M918.6 251h1.6M966.9 221.6h1.6M924 227.2h1.6M945.8 258.2h1.6M929.9 243.6h1.6M951.8 237.2h1.6M945.8 229.2h1.6M941 242.4h1.6M957.1 252.3h1.6M926.4 268.1h1.6M948.2 265.7h1.6M965.9 218.3h1.6M913.4 275.6h1.6M943.6 277h1.6M960.9 244.2h1.6M937.2 236.6h1.6M974.6 187h1.6M953.4 259.4h1.6M933.8 258.9h1.6M956.9 196h1.6M885.8 314.6h1.6M904.3 263.5h1.6M949 233.8h1.6M929.6 214.6h1.6M932.1 287.2h1.6M907.4 242.9h1.6M944.6 268.4h1.6M927.1 283.1h1.6M918.1 266.8h1.6M932.5 248.5h1.6M945.4 238.7h1.6M902.8 276.7h1.6M942.8 246.3h1.6M943.7 211.2h1.6M950.9 277.4h1.6M990.9 225.1h1.6M943.2 256.4h1.6M967.1 225.7h1.6M954.4 234.9h1.6M915.3 282.4h1.6M930.6 185.7h1.6M920.5 286.1h1.6" stroke="#8a5208" stroke-width="1.6" stroke-opacity="1" fill="none"/>
<text x="987.5" y="202.6" font-size="18" fill="#e87820" font-weight="bold" text-anchor="start" >Mn</text>
<path d="M28 392.3 H237.5 V683.5 H28 Z" fill="none" stroke="#000" stroke-width="1.7"/>
<path d="M85.9 683.5 v-6" stroke="#000" stroke-width="1.8"/>
<path d="M144.4 683.5 v-6" stroke="#000" stroke-width="1.8"/>
<path d="M202.4 683.5 v-6" stroke="#000" stroke-width="1.8"/>
<text x="28.7" y="697.8" font-size="14.4" fill="#111" font-weight="normal" text-anchor="middle" >510</text>
<text x="89.6" y="697.8" font-size="14.4" fill="#111" font-weight="normal" text-anchor="middle" >515</text>
<text x="144.8" y="697.8" font-size="14.4" fill="#111" font-weight="normal" text-anchor="middle" >520</text>
<text x="203.8" y="697.8" font-size="14.4" fill="#111" font-weight="normal" text-anchor="middle" >525</text>
<text x="129" y="718.6" font-size="22" fill="#111" font-weight="normal" text-anchor="middle" textLength="203" lengthAdjust="spacingAndGlyphs">Binding energy (eV)</text>
<text transform="translate(21.4 536.5) rotate(-90)" font-size="22" fill="#111" text-anchor="middle" textLength="139" lengthAdjust="spacingAndGlyphs">Intensity (a.u.)</text>
<path d="M109.5 445.5 V686" stroke="#16a94c" stroke-width="1" stroke-dasharray="2 1.5"/>
<path d="M196 562 V686" stroke="#16a94c" stroke-width="1" stroke-dasharray="2 1.5"/>
<text x="87.3" y="423.8" font-size="14.8" font-weight="bold" fill="#16a94c">V 2<tspan font-style="italic">p</tspan><tspan font-size="9.5" dy="3">3/2</tspan></text>
<text x="104.8" y="440.5" font-size="12.4" fill="#16a94c" font-weight="bold" text-anchor="start" >5+</text>
<text x="174.7" y="539.6" font-size="14.8" font-weight="bold" fill="#16a94c">V 2<tspan font-style="italic">p</tspan><tspan font-size="9.5" dy="3">1/2</tspan></text>
<text x="192.2" y="558" font-size="12.4" fill="#16a94c" font-weight="bold" text-anchor="start" >5+</text>
<text x="31.7" y="473.9" font-size="16" fill="#1a1a1a" font-weight="normal" text-anchor="start" >1: 0.7 V</text>
<text x="31.7" y="495.8" font-size="16" fill="#1c1cf0" font-weight="normal" text-anchor="start" >2: 0.3 V</text>
<text x="31.7" y="517.7" font-size="16" fill="#2a7ac8" font-weight="normal" text-anchor="start" >3: 0.0 V</text>
<text x="31.7" y="539.6" font-size="16" fill="#22b0ee" font-weight="normal" text-anchor="start" >4: -0.3 V</text>
<text x="31.7" y="561.5" font-size="16" fill="#ee1c24" font-weight="normal" text-anchor="start" >5: -0.8 V</text>
<path d="M28 653.2 28.5 653 29 653.5 29.5 652.5 30 653.6 30.5 653.1 31 653.2 31.5 653 32 652.5 32.5 653.3 33 653.5 33.5 653.5 34 653.2 34.5 652.7 35 652.6 35.5 653.5 36 653.1 36.5 653.3 37 653 37.5 652.9 38 653.3 38.5 652.7 39 653.5 39.5 653.3 40 653.4 40.5 653.4 41 653.6 41.5 653.1 42 653.4 42.5 653.3 43 653.3 43.5 653.2 44 652.7 44.5 653.5 45 653.8 45.5 653.3 46 653.6 46.5 653.1 47 652.7 47.5 653.9 48 653.2 48.5 652.9 49 653.3 49.5 652.8 50 653.5 50.5 653.4 51 653.1 51.5 653.4 52 652.7 52.5 653.5 53 653.1 53.5 652.9 54 653.2 54.5 653.1 55 653.2 55.5 653.4 56 653.3 56.5 653.1 57 653.1 57.5 653.1 58 653.5 58.5 652.6 59 653.3 59.5 653.3 60 652.5 60.5 652.9 61 653.1 61.5 653.6 62 653.2 62.5 652.9 63 653.3 63.5 653.3 64 653.3 64.5 654 65 653.2 65.5 652.6 66 653.5 66.5 652.8 67 653.8 67.5 653.3 68 653 68.5 653.1 69 653.2 69.5 653.5 70 653.4 70.5 653.2 71 652.7 71.5 653.1 72 653.4 72.5 653.1 73 653 73.5 652.7 74 653.8 74.5 653.1 75 653.1 75.5 653.1 76 652.9 76.5 652.8 77 653.9 77.5 652.7 78 652.9 78.5 652.5 79 652.9 79.5 653.1 80 652.9 80.5 653.5 81 653.3 81.5 652.6 82 652.4 82.5 653.2 83 652.2 83.5 652.1 84 652.4 84.5 652 85 651.5 85.5 651.3 86 651 86.5 650.7 87 650.3 87.5 650.5 88 650 88.5 649.9 89 649.4 89.5 648.8 90 649.3 90.5 648.8 91 648.1 91.5 648.1 92 647.1 92.5 647.4 93 647.4 93.5 646.9 94 646.3 94.5 646 95 645.5 95.5 645.1 96 644.7 96.5 643.8 97 643.5 97.5 643.3 98 642.8 98.5 642.6 99 642 99.5 641.5 100 640.6 100.5 640.9 101 639.6 101.5 639.5 102 639.3 102.5 638.6 103 638.9 103.5 638.6 104 637.6 104.5 637.5 105 637.9 105.5 638 106 639 106.5 638.9 107 639.9 107.5 639.1 108 639.7 108.5 640.2 109 640.5 109.5 640.9 110 642.3 110.5 642.3 111 643 111.5 643.3 112 643.5 112.5 643.8 113 644.8 113.5 645.4 114 644.7 114.5 646.1 115 646.2 115.5 646.1 116 646.4 116.5 647.2 117 647.4 117.5 648.1 118 648.2 118.5 648.2 119 648.9 119.5 649 120 649.7 120.5 649.9 121 649.7 121.5 650 122 649.8 122.5 649.8 123 650.7 123.5 649.4 124 650.4 124.5 650.8 125 650.7 125.5 650 126 650.7 126.5 650.4 127 650.6 127.5 650.3 128 650.4 128.5 651 129 650.4 129.5 650.3 130 650.4 130.5 650.3 131 651 131.5 651.3 132 651.5 132.5 650.2 133 650.7 133.5 651.2 134 651.2 134.5 651 135 651.5 135.5 651.4 136 651 136.5 650.5 137 651.1 137.5 651.5 138 651.4 138.5 651.6 139 651.5 139.5 650.6 140 651 140.5 652 141 651.8 141.5 651.9 142 652 142.5 651.5 143 652 143.5 651.5 144 652 144.5 651.9 145 651.5 145.5 651.4 146 651.7 146.5 652.3 147 652.3 147.5 652.2 148 652.3 148.5 652.4 149 653 149.5 652.3 150 652.1 150.5 652.3 151 652.1 151.5 652.7 152 652.5 152.5 652.5 153 652.7 153.5 651.9 154 652 154.5 652.1 155 651.8 155.5 652.2 156 651.7 156.5 651.7 157 651.7 157.5 652.4 158 652.3 158.5 652.3 159 652 159.5 652 160 651.6 160.5 651.6 161 651.6 161.5 651.9 162 650.8 162.5 651.8 163 651.7 163.5 651.3 164 651.8 164.5 651.4 165 651.2 165.5 651.1 166 651.2 166.5 650.6 167 651.3 167.5 650.1 168 650.5 168.5 650.6 169 650.3 169.5 649.9 170 650.8 170.5 649.5 171 650.6 171.5 650.2 172 650.3 172.5 650.3 173 649.6 173.5 649.8 174 649.1 174.5 649.2 175 649.9 175.5 650.5 176 649.8 176.5 649.4 177 649.9 177.5 649.7 178 649.9 178.5 649.9 179 649.6 179.5 649.3 180 648.6 180.5 649 181 648.9 181.5 648.8 182 649.1 182.5 648.9 183 648.6 183.5 649 184 648.7 184.5 648.4 185 648.7 185.5 648.4 186 648.6 186.5 648.9 187 647.8 187.5 648.4 188 648.1 188.5 648.3 189 648.6 189.5 648.8 190 648.1 190.5 647.8 191 648.7 191.5 648.4 192 648.2 192.5 648.4 193 647.7 193.5 648.3 194 648.2 194.5 648.1 195 647.7 195.5 648.3 196 649 196.5 647.7 197 648.8 197.5 648.5 198 648.6 198.5 648.3 199 649.3 199.5 648.6 200 648.5 200.5 648.6 201 649.2 201.5 649.3 202 648.3 202.5 648.6 203 649 203.5 648.3 204 649 204.5 649.1 205 649.7 205.5 650 206 649.6 206.5 650 207 648.8 207.5 649.6 208 649.6 208.5 650.1 209 650 209.5 650.6 210 650 210.5 650.1 211 649.7 211.5 650.7 212 649.9 212.5 650.9 213 650.4 213.5 651.1 214 650.8 214.5 650 215 650.5 215.5 650.4 216 650.4 216.5 650.7 217 650.8 217.5 650.5 218 650.5 218.5 651.1 219 650.8 219.5 650.8 220 651.7 220.5 651 221 650.8 221.5 651.1 222 651.3 222.5 651.3 223 651.1 223.5 650.6 224 651.1 224.5 651.7 225 651 225.5 651 226 650.6 226.5 650.7 227 650.8 227.5 650.5 228 651 228.5 650.5 229 650.2 229.5 650.2 230 650.5 230.5 649.5 231 651 231.5 650.7 232 650.3 232.5 649.8 233 649.7 233.5 649.8 234 650.5 234.5 649.9 235 650 235.5 650 236 649.1 236.5 648.7 237 649.1" fill="none" stroke="#ee1c24" stroke-width="2.0" stroke-linejoin="round"/>
<path d="M28 652.4 28.5 653 29 652.8 29.5 652.9 30 652.7 30.5 652.5 31 653 31.5 652.5 32 652.9 32.5 652.3 33 652.5 33.5 652.6 34 653.2 34.5 653.4 35 652.9 35.5 653.2 36 652.9 36.5 653.4 37 652.3 37.5 652.7 38 653 38.5 653.2 39 652.6 39.5 652.5 40 652.7 40.5 652.5 41 652.3 41.5 652.3 42 652.5 42.5 653 43 652.9 43.5 652.9 44 652.9 44.5 652.6 45 653.2 45.5 652.3 46 652.5 46.5 652.7 47 652 47.5 652.7 48 653.3 48.5 652.7 49 653 49.5 652.5 50 652.7 50.5 652.4 51 652.5 51.5 651.9 52 653.1 52.5 653.1 53 652.8 53.5 652.8 54 652.7 54.5 652.9 55 653 55.5 653.1 56 652.6 56.5 652.6 57 653 57.5 652.7 58 652.9 58.5 652.8 59 652.9 59.5 652.4 60 652.5 60.5 652.5 61 652.5 61.5 653 62 652.6 62.5 652.8 63 652.7 63.5 652.8 64 653.3 64.5 652.5 65 652.2 65.5 652.2 66 652.4 66.5 652.8 67 652.2 67.5 652.5 68 652.3 68.5 651.9 69 651.9 69.5 651.9 70 652.2 70.5 652.5 71 652.1 71.5 652.9 72 652.2 72.5 652.1 73 651.9 73.5 652.3 74 652.4 74.5 652.5 75 652.2 75.5 652.2 76 652.1 76.5 652.5 77 651.8 77.5 651.7 78 651.7 78.5 651.8 79 652.5 79.5 652.2 80 652.3 80.5 652.2 81 651.8 81.5 652.3 82 651.2 82.5 651.4 83 651 83.5 650.5 84 650.4 84.5 650.4 85 650.1 85.5 650.1 86 648.9 86.5 648.8 87 648.9 87.5 648.3 88 648.3 88.5 647.2 89 647.6 89.5 647.1 90 646.8 90.5 646.7 91 646.1 91.5 645.3 92 645.3 92.5 644.7 93 645.5 93.5 643.7 94 644.2 94.5 643.2 95 643.4 95.5 642.6 96 641.9 96.5 641.8 97 641.8 97.5 641.6 98 641.1 98.5 640.7 99 639.5 99.5 639.1 100 638.5 100.5 637.9 101 637.3 101.5 637 102 636.7 102.5 635.8 103 635.5 103.5 635.1 104 635.3 104.5 635.1 105 635.4 105.5 635.8 106 636.4 106.5 636.4 107 637.3 107.5 638 108 639.2 108.5 638.4 109 639.3 109.5 639.1 110 640.5 110.5 640.3 111 640.8 111.5 641.2 112 641.5 112.5 642.1 113 642.5 113.5 642.8 114 642.3 114.5 642.6 115 643.3 115.5 643.6 116 644 116.5 643.6 117 644.2 117.5 644.2 118 644.8 118.5 644.7 119 645.8 119.5 645.4 120 645.5 120.5 645.9 121 646.5 121.5 646 122 646 122.5 646.7 123 646.9 123.5 646.8 124 647.3 124.5 647.6 125 647.5 125.5 648.4 126 647.5 126.5 647.7 127 647.4 127.5 648.6 128 648.4 128.5 648.5 129 647.9 129.5 649 130 649.2 130.5 648.4 131 647.8 131.5 648.7 132 648.2 132.5 648.5 133 649.1 133.5 648.6 134 649 134.5 648.9 135 649.1 135.5 649.1 136 648.9 136.5 648.9 137 648.9 137.5 648.4 138 649.4 138.5 648.8 139 648.9 139.5 648.7 140 649.1 140.5 648.9 141 649.4 141.5 649 142 649.5 142.5 649.3 143 649.4 143.5 648.9 144 649.4 144.5 648.9 145 649.4 145.5 648.8 146 649.4 146.5 649.5 147 649.7 147.5 649.5 148 649.7 148.5 649.7 149 649.2 149.5 649.3 150 648.6 150.5 649.8 151 650 151.5 649 152 649.4 152.5 649.4 153 649.1 153.5 649.2 154 649.7 154.5 649.2 155 649.4 155.5 649 156 649 156.5 649.6 157 648.8 157.5 649.1 158 649.2 158.5 649 159 649.9 159.5 648.6 160 648.9 160.5 648.4 161 648.8 161.5 647.9 162 648.2 162.5 648.1 163 648.7 163.5 648.2 164 648.8 164.5 647.3 165 648.2 165.5 647.8 166 648 166.5 648.3 167 648 167.5 648 168 647.6 168.5 647.6 169 647.9 169.5 647.3 170 647.5 170.5 647.7 171 647.6 171.5 647.1 172 647.4 172.5 647.1 173 647 173.5 647.4 174 647.2 174.5 647.4 175 647.7 175.5 647 176 647.5 176.5 646.9 177 646.7 177.5 647 178 646.7 178.5 646.5 179 646.9 179.5 646.3 180 646.5 180.5 646.6 181 646.1 181.5 646.2 182 646 182.5 645.6 183 645.9 183.5 645.6 184 645.3 184.5 645.8 185 645.6 185.5 645.7 186 645.6 186.5 645.9 187 646.1 187.5 645.8 188 645.6 188.5 645.7 189 644.9 189.5 645.6 190 645.5 190.5 645.4 191 645.1 191.5 645.5 192 645.7 192.5 644.9 193 645.4 193.5 644.9 194 644.6 194.5 645.3 195 645.4 195.5 645.4 196 645.4 196.5 645.6 197 645.8 197.5 645.1 198 645.1 198.5 645.6 199 646.1 199.5 646.2 200 645.6 200.5 645.7 201 646.5 201.5 646.4 202 646.2 202.5 646.1 203 646.3 203.5 646.1 204 647.3 204.5 646.3 205 646.2 205.5 646.5 206 646.9 206.5 646.6 207 646.1 207.5 647 208 646.7 208.5 647.1 209 646.6 209.5 646.9 210 647.3 210.5 647 211 647.2 211.5 646.7 212 647 212.5 646.9 213 646.6 213.5 647.2 214 646.9 214.5 646.3 215 646.3 215.5 647.1 216 646.9 216.5 646.5 217 647 217.5 646.6 218 646.6 218.5 646.8 219 646.9 219.5 647.3 220 647.2 220.5 646.7 221 646.4 221.5 646.7 222 646.6 222.5 647.1 223 646.8 223.5 646.3 224 646.1 224.5 646.7 225 646.8 225.5 646.4 226 645.9 226.5 646.1 227 646.2 227.5 645.9 228 645.7 228.5 645.7 229 646.4 229.5 645.5 230 646.1 230.5 645.4 231 645.2 231.5 645.4 232 645.9 232.5 646.2 233 645.3 233.5 644.8 234 646.1 234.5 645.6 235 645.8 235.5 644.8 236 645.4 236.5 644.7 237 645.5" fill="none" stroke="#22b0ee" stroke-width="2.0" stroke-linejoin="round"/>
<path d="M28 652.7 28.5 652.5 29 652.4 29.5 653.1 30 652.5 30.5 652.4 31 652.7 31.5 652.7 32 652.5 32.5 653.3 33 653.2 33.5 653.2 34 652.1 34.5 652.2 35 652.2 35.5 652.8 36 652.8 36.5 653.2 37 652.7 37.5 653.5 38 652.7 38.5 653.3 39 652.6 39.5 652.3 40 652.8 40.5 652.9 41 652.8 41.5 653 42 653 42.5 652.8 43 652.7 43.5 653.2 44 652.6 44.5 652.7 45 652.7 45.5 652.2 46 652.8 46.5 652.4 47 652.7 47.5 652.6 48 652.8 48.5 653.2 49 653.1 49.5 652.8 50 653.2 50.5 652.3 51 653 51.5 653.3 52 652.4 52.5 653 53 652.4 53.5 652.6 54 652.7 54.5 652.7 55 652.6 55.5 652.2 56 652.5 56.5 652.9 57 652.7 57.5 652.8 58 652 58.5 652.4 59 653.2 59.5 653.2 60 652.6 60.5 652.2 61 652.6 61.5 653 62 652.6 62.5 652.9 63 652.1 63.5 652.7 64 652.8 64.5 652.4 65 652.3 65.5 653 66 652.5 66.5 652.5 67 652.4 67.5 652.6 68 652.1 68.5 652.4 69 653.1 69.5 652.4 70 652.8 70.5 652.6 71 652.4 71.5 652.7 72 652.6 72.5 652.6 73 652 73.5 652.1 74 652.3 74.5 651.7 75 652.5 75.5 651.1 76 651.1 76.5 651 77 651.3 77.5 650.8 78 651.1 78.5 650.5 79 650.2 79.5 650 80 650.1 80.5 650.3 81 649.3 81.5 649.2 82 648.4 82.5 648 83 647.7 83.5 647.2 84 646 84.5 645.3 85 645.3 85.5 643.6 86 643.4 86.5 642.2 87 641.9 87.5 641.4 88 639.8 88.5 639.3 89 637.8 89.5 637.2 90 636.1 90.5 634.7 91 633.6 91.5 632.2 92 630.9 92.5 629.4 93 627.1 93.5 626.2 94 625.5 94.5 624.4 95 623 95.5 622.3 96 620.6 96.5 619.2 97 618.1 97.5 617.4 98 616.1 98.5 615.4 99 613.8 99.5 613 100 611.2 100.5 610.9 101 609.4 101.5 608.8 102 607.9 102.5 607 103 606 103.5 605.1 104 604.2 104.5 603.9 105 604 105.5 603.7 106 603.3 106.5 604.4 107 604.1 107.5 604.1 108 604.9 108.5 605.2 109 606.9 109.5 607.4 110 607.9 110.5 608.8 111 609.6 111.5 611 112 611.1 112.5 612.4 113 613.4 113.5 615 114 615.2 114.5 616.7 115 617.9 115.5 618.5 116 619.8 116.5 620.8 117 622.6 117.5 623.1 118 624.9 118.5 625.6 119 626.4 119.5 628 120 628.7 120.5 629.8 121 631.4 121.5 632.3 122 633.7 122.5 633.8 123 634.6 123.5 635.3 124 636.8 124.5 637.1 125 638 125.5 638.9 126 638.9 126.5 640.2 127 640.9 127.5 641.6 128 641.6 128.5 642.5 129 641.8 129.5 642.8 130 643.3 130.5 643.8 131 644.3 131.5 644.3 132 644.2 132.5 644.7 133 645.3 133.5 645 134 645.4 134.5 645.6 135 645 135.5 645.4 136 645.7 136.5 645.4 137 645.8 137.5 646.4 138 646.1 138.5 646 139 646 139.5 646.3 140 646.2 140.5 645.9 141 646.5 141.5 645.9 142 646.1 142.5 646.9 143 646.5 143.5 646.8 144 646.5 144.5 646.1 145 646.7 145.5 646.1 146 647.5 146.5 646.2 147 646.9 147.5 646.7 148 646.3 148.5 647.1 149 646.7 149.5 646.5 150 646 150.5 646.7 151 647.4 151.5 647.2 152 646.2 152.5 647.1 153 646.7 153.5 646.7 154 646.8 154.5 645.9 155 646 155.5 646.8 156 645.9 156.5 645.8 157 645.3 157.5 645.6 158 645.7 158.5 645.9 159 645.4 159.5 645 160 644.7 160.5 645 161 644.4 161.5 644.2 162 643.4 162.5 643.6 163 643.6 163.5 643.4 164 643.3 164.5 643.5 165 642.1 165.5 642.8 166 642.4 166.5 641.7 167 642.2 167.5 641.9 168 641.1 168.5 641.5 169 641.4 169.5 641 170 641.1 170.5 640.5 171 640.6 171.5 640.4 172 640.4 172.5 639.6 173 640.7 173.5 639.2 174 640 174.5 639.4 175 639.1 175.5 639.3 176 638.4 176.5 638 177 638.6 177.5 638.7 178 638.7 178.5 637.8 179 636.5 179.5 637.3 180 637.2 180.5 636.8 181 636.6 181.5 636.5 182 636.2 182.5 635.6 183 635 183.5 635 184 635.3 184.5 635.2 185 635.1 185.5 634.6 186 633.9 186.5 634.2 187 633.5 187.5 633.9 188 633.2 188.5 633.7 189 633.5 189.5 632.9 190 633.2 190.5 633.2 191 632.8 191.5 632.9 192 632.8 192.5 632.2 193 632.6 193.5 633.6 194 633 194.5 632.2 195 633.1 195.5 633.2 196 633.2 196.5 633.5 197 633.8 197.5 634.3 198 634.2 198.5 634 199 633.5 199.5 633.7 200 634.8 200.5 634.9 201 635 201.5 635.7 202 635.1 202.5 635.3 203 635.7 203.5 636.3 204 636.1 204.5 636.7 205 636.8 205.5 637.1 206 637.3 206.5 637.1 207 638.1 207.5 638.4 208 637.7 208.5 638.3 209 638.8 209.5 638.9 210 638.5 210.5 639.2 211 639.1 211.5 640 212 640 212.5 640.4 213 639.8 213.5 640.5 214 640.2 214.5 640.9 215 640.8 215.5 640.7 216 641 216.5 641.3 217 641.8 217.5 641.3 218 642.8 218.5 642.2 219 642.3 219.5 642.4 220 642.3 220.5 642.5 221 643.1 221.5 642.3 222 642.9 222.5 643.2 223 643.4 223.5 642.4 224 643.1 224.5 642.3 225 642.7 225.5 642.9 226 642.9 226.5 642.7 227 643 227.5 643 228 642.7 228.5 642.3 229 642.4 229.5 642.5 230 642.5 230.5 642.3 231 641.6 231.5 641.8 232 641.9 232.5 641.2 233 641.4 233.5 641.2 234 641.5 234.5 641.4 235 640.5 235.5 641.1 236 640.9 236.5 640 237 639.9" fill="none" stroke="#2a78c8" stroke-width="2.0" stroke-linejoin="round"/>
<path d="M28 652.4 28.5 652.4 29 652.1 29.5 651.7 30 652.7 30.5 653.2 31 652.2 31.5 652.8 32 652.4 32.5 652.7 33 652.5 33.5 652.8 34 652.8 34.5 652.8 35 652.9 35.5 653.1 36 652.3 36.5 652.4 37 653 37.5 652.3 38 653 38.5 652.7 39 653 39.5 652.7 40 652.6 40.5 652.6 41 652 41.5 652.8 42 652.7 42.5 653 43 652.8 43.5 652.3 44 652.6 44.5 652.8 45 652.6 45.5 652.9 46 652.6 46.5 652.7 47 652.1 47.5 652.9 48 653 48.5 652.4 49 652.3 49.5 652.5 50 653.2 50.5 653.2 51 652.6 51.5 652.2 52 652.3 52.5 652.1 53 652.2 53.5 652.7 54 652.6 54.5 652.4 55 652.7 55.5 652.7 56 653.1 56.5 652.3 57 653.1 57.5 652.9 58 652.3 58.5 652.7 59 652.3 59.5 652.9 60 652.7 60.5 652.4 61 652.9 61.5 652.6 62 652.2 62.5 652.5 63 652.8 63.5 652.6 64 652.3 64.5 652.4 65 652.7 65.5 652.9 66 652.2 66.5 652.6 67 652.7 67.5 652.8 68 652.9 68.5 652 69 652.4 69.5 652.5 70 652.6 70.5 652.7 71 652.6 71.5 652 72 651.8 72.5 652.1 73 652.2 73.5 651.3 74 651.6 74.5 651.6 75 651.4 75.5 651.5 76 650.6 76.5 650.9 77 650.5 77.5 651 78 649.5 78.5 650.2 79 649 79.5 649.5 80 649.1 80.5 648.3 81 648.1 81.5 648 82 647.8 82.5 647.1 83 645.9 83.5 645.6 84 645.6 84.5 644.3 85 642.9 85.5 642.7 86 641.7 86.5 641 87 641.1 87.5 639.7 88 639 88.5 638.4 89 637.4 89.5 636.4 90 635.1 90.5 634.4 91 633.9 91.5 632.8 92 631.4 92.5 630.1 93 629.1 93.5 628.4 94 626.9 94.5 625.8 95 624.9 95.5 622.8 96 621.5 96.5 620.1 97 619.3 97.5 617.1 98 615.5 98.5 613.5 99 612.7 99.5 610.9 100 609.4 100.5 607.7 101 605.7 101.5 605.1 102 603.9 102.5 601.9 103 600.7 103.5 599.5 104 597.8 104.5 597 105 596.5 105.5 594.8 106 595.1 106.5 594.1 107 592.8 107.5 592.7 108 593.5 108.5 593.8 109 594.2 109.5 595.7 110 596.4 110.5 597.3 111 597.7 111.5 599.6 112 602.1 112.5 602.6 113 605.1 113.5 607 114 609 114.5 610.3 115 611.4 115.5 613.4 116 615.4 116.5 616.9 117 617.9 117.5 619.8 118 621.3 118.5 622.2 119 623.5 119.5 625 120 626.3 120.5 628 121 628.5 121.5 629.2 122 630.8 122.5 631.1 123 631.8 123.5 633.1 124 633.6 124.5 634 125 635.8 125.5 636 126 636.8 126.5 637.8 127 638.8 127.5 638.9 128 639.2 128.5 639.2 129 639.8 129.5 640.2 130 640.8 130.5 641 131 641.2 131.5 641 132 641 132.5 641.2 133 641.8 133.5 641.4 134 641.9 134.5 642.4 135 642.4 135.5 642.4 136 642.2 136.5 642.8 137 642.9 137.5 643.1 138 642.9 138.5 643 139 642.8 139.5 642.9 140 643.5 140.5 643.6 141 643.6 141.5 643.5 142 644.4 142.5 643.5 143 644.3 143.5 644.1 144 644.4 144.5 644.5 145 644.4 145.5 645 146 644.9 146.5 645 147 645.1 147.5 644.9 148 646.1 148.5 645.2 149 645.2 149.5 646.2 150 645 150.5 645.6 151 646.2 151.5 645.5 152 645.4 152.5 645.3 153 644.5 153.5 645.2 154 645.2 154.5 644.7 155 644.3 155.5 644.7 156 644.8 156.5 644.3 157 643.8 157.5 644 158 643.5 158.5 643.1 159 643.7 159.5 643.1 160 642.6 160.5 643.1 161 642.8 161.5 642.7 162 642.8 162.5 642.2 163 642.2 163.5 642.1 164 642 164.5 641.2 165 641.1 165.5 641.5 166 641.6 166.5 640.8 167 640.6 167.5 639.7 168 640.5 168.5 640 169 639.4 169.5 639.6 170 639 170.5 638.9 171 638.8 171.5 638.8 172 639 172.5 638.2 173 637.6 173.5 637.8 174 637.3 174.5 636.9 175 636.6 175.5 636.5 176 635.7 176.5 636.2 177 635.6 177.5 635.9 178 634.8 178.5 634.9 179 634.2 179.5 634.3 180 633.9 180.5 634 181 633.5 181.5 633.3 182 632.6 182.5 632.5 183 632 183.5 631.7 184 631.4 184.5 631.3 185 631.1 185.5 630.4 186 630.9 186.5 630.4 187 630.3 187.5 630.7 188 631.1 188.5 629.2 189 629.5 189.5 629.6 190 629.3 190.5 629.6 191 629.5 191.5 629.6 192 629.7 192.5 629.8 193 629.7 193.5 629.7 194 629.4 194.5 629.8 195 630 195.5 629.7 196 629.8 196.5 629.9 197 630 197.5 629.5 198 630.1 198.5 630.3 199 629.9 199.5 630.6 200 630.9 200.5 630.4 201 632 201.5 631.7 202 632.3 202.5 632.1 203 632.6 203.5 632.5 204 633 204.5 633.4 205 634 205.5 634.7 206 633.9 206.5 634.7 207 635.5 207.5 635.3 208 635.2 208.5 636.4 209 636.8 209.5 636.7 210 636.7 210.5 636.8 211 636.9 211.5 637.5 212 637.8 212.5 637.2 213 638.3 213.5 637.9 214 638.3 214.5 638.4 215 638.8 215.5 638.9 216 639.6 216.5 639.1 217 639.6 217.5 640 218 640.2 218.5 639.4 219 640.6 219.5 640.6 220 640.6 220.5 640.2 221 639.9 221.5 640.7 222 640.8 222.5 640.2 223 640.7 223.5 640.7 224 640.8 224.5 641.3 225 640.2 225.5 640.7 226 640.4 226.5 640.9 227 641.1 227.5 641 228 640.3 228.5 641.1 229 640.3 229.5 640.9 230 639.5 230.5 639.4 231 639.5 231.5 639.2 232 638.5 232.5 639 233 638 233.5 638.3 234 638.4 234.5 637.6 235 637.7 235.5 637.3 236 637 236.5 637.1 237 636.2" fill="none" stroke="#1a1aee" stroke-width="2.0" stroke-linejoin="round"/>
<path d="M28 652.7 28.5 651.8 29 652.5 29.5 652.2 30 652.3 30.5 651.9 31 652.1 31.5 652.2 32 652.3 32.5 652.3 33 652.9 33.5 652.4 34 651.8 34.5 652.7 35 652.6 35.5 651.7 36 652.9 36.5 652.3 37 652.4 37.5 652.2 38 652.2 38.5 652.3 39 652.4 39.5 652.8 40 652.6 40.5 652.5 41 652.3 41.5 651.9 42 652.1 42.5 652.6 43 652.4 43.5 652.1 44 652.3 44.5 652.8 45 652.5 45.5 652.4 46 652.8 46.5 652.3 47 651.9 47.5 652.2 48 652.2 48.5 652.5 49 652.2 49.5 652.2 50 652.3 50.5 652 51 651.9 51.5 651.7 52 652.5 52.5 652.3 53 652.2 53.5 652.4 54 652.4 54.5 651.5 55 652.1 55.5 651.5 56 652.8 56.5 651.8 57 652.7 57.5 652 58 652 58.5 651.9 59 651.5 59.5 652.7 60 651.6 60.5 652.1 61 652 61.5 652.2 62 652.6 62.5 651.5 63 652.2 63.5 651.9 64 652.2 64.5 652 65 651.8 65.5 652.5 66 652.1 66.5 651.9 67 651.9 67.5 651.8 68 652.1 68.5 651.9 69 651.7 69.5 651.6 70 651.1 70.5 651.3 71 651.7 71.5 651.6 72 651.3 72.5 652 73 651.8 73.5 651.1 74 651.6 74.5 650.8 75 651.3 75.5 651 76 650.4 76.5 651.3 77 650.1 77.5 650.6 78 650.1 78.5 650.1 79 649.5 79.5 648.7 80 647 80.5 647 81 647.6 81.5 646.3 82 645.1 82.5 645.1 83 644.3 83.5 642.9 84 642.1 84.5 641.2 85 640.4 85.5 638.4 86 637.6 86.5 635.9 87 635.7 87.5 634.3 88 632.7 88.5 632.9 89 632.1 89.5 631.6 90 630.2 90.5 628.7 91 628 91.5 628.1 92 626.9 92.5 625.6 93 625 93.5 624 94 623.7 94.5 622.5 95 620.7 95.5 620.1 96 619.1 96.5 617.1 97 615.6 97.5 613.6 98 612.3 98.5 609.7 99 608.1 99.5 606.1 100 603.9 100.5 602.1 101 599.9 101.5 598 102 595.9 102.5 593.6 103 591.6 103.5 588.1 104 586.5 104.5 583.6 105 581.8 105.5 580 106 578.5 106.5 576.2 107 574.6 107.5 573.3 108 572.4 108.5 572.8 109 572.5 109.5 573.3 110 574.8 110.5 576.2 111 578 111.5 580 112 582 112.5 583.7 113 585.9 113.5 588.8 114 590.2 114.5 592.7 115 595.4 115.5 598.2 116 599.5 116.5 602.4 117 604 117.5 605.4 118 608.8 118.5 610.6 119 612.1 119.5 614 120 616.4 120.5 617.6 121 619.5 121.5 620.9 122 622.1 122.5 623.5 123 625.3 123.5 627.1 124 627.7 124.5 628.3 125 629.9 125.5 630.2 126 631.5 126.5 632.3 127 632.6 127.5 633.2 128 633.8 128.5 634.7 129 635.2 129.5 635.5 130 635.8 130.5 635.8 131 636 131.5 637 132 637.6 132.5 637 133 637.9 133.5 638.1 134 638.4 134.5 638.6 135 638.5 135.5 639.2 136 638.8 136.5 638.4 137 638.9 137.5 639.1 138 639.5 138.5 639.4 139 639.5 139.5 639.1 140 639.4 140.5 639.8 141 639.1 141.5 640 142 640 142.5 639.7 143 640.1 143.5 640.3 144 640.3 144.5 640.5 145 639.9 145.5 640.1 146 639.9 146.5 639.7 147 640.6 147.5 640.5 148 640 148.5 640.7 149 640.7 149.5 640.4 150 639.3 150.5 640.4 151 640.3 151.5 640.8 152 640.4 152.5 640.2 153 640.6 153.5 640.6 154 640.7 154.5 640.5 155 639.6 155.5 640 156 640.2 156.5 639.5 157 639.6 157.5 639.5 158 639.9 158.5 639.3 159 639.9 159.5 639.6 160 639.7 160.5 639.1 161 639.1 161.5 638.4 162 638.3 162.5 638.5 163 638.2 163.5 638.2 164 637.9 164.5 637.6 165 636.5 165.5 637.6 166 636.5 166.5 636.9 167 635.9 167.5 636.3 168 636.1 168.5 635.4 169 635.2 169.5 634.6 170 634.6 170.5 634.4 171 633.9 171.5 633.4 172 632.7 172.5 633 173 632.9 173.5 633.1 174 631.8 174.5 631.3 175 631.5 175.5 631.1 176 631.3 176.5 630.8 177 630.2 177.5 629.8 178 629.4 178.5 629.2 179 629.1 179.5 627.4 180 627.9 180.5 628 181 626.9 181.5 626.4 182 626.8 182.5 625.8 183 625.6 183.5 625.6 184 625.5 184.5 624.3 185 624.6 185.5 624 186 623.3 186.5 623.4 187 622.8 187.5 622.6 188 623.1 188.5 622.3 189 622.1 189.5 622.2 190 621 190.5 622 191 621.5 191.5 621.2 192 620.8 192.5 621.2 193 620.7 193.5 620.5 194 620.1 194.5 621 195 620.3 195.5 620.4 196 620.8 196.5 621 197 621.5 197.5 620.9 198 620.9 198.5 621.4 199 621.5 199.5 621.7 200 621.9 200.5 622.7 201 623.2 201.5 623.3 202 622.7 202.5 623 203 624.3 203.5 623.8 204 624.9 204.5 624.7 205 625.2 205.5 626.6 206 626.4 206.5 626.4 207 627.7 207.5 627.3 208 627.6 208.5 628.4 209 629.2 209.5 629.3 210 630 210.5 630.2 211 630.6 211.5 630.5 212 630.6 212.5 630.7 213 631.2 213.5 631.4 214 631.8 214.5 631.5 215 631.8 215.5 633.6 216 633.6 216.5 633.3 217 633.9 217.5 634.1 218 634 218.5 633.9 219 634.9 219.5 634.9 220 634.5 220.5 635.3 221 635.2 221.5 636.2 222 634.7 222.5 635.8 223 635.3 223.5 635.7 224 635.1 224.5 635.8 225 635.6 225.5 635.1 226 635.8 226.5 635.7 227 635.3 227.5 636 228 635.5 228.5 635.6 229 635.9 229.5 635 230 635.5 230.5 635.7 231 634.9 231.5 635.9 232 635.5 232.5 634.9 233 635.6 233.5 634.8 234 634.6 234.5 634.3 235 634.7 235.5 634.3 236 634.3 236.5 634.2 237 633.8" fill="none" stroke="#111111" stroke-width="2.0" stroke-linejoin="round"/>
<path d="M289.5 392.8 H497.4 V683.5 H289.5 Z" fill="none" stroke="#000" stroke-width="1.7"/>
<path d="M331 683.5 v-6" stroke="#000" stroke-width="1.8"/>
<path d="M414.4 683.5 v-6" stroke="#000" stroke-width="1.8"/>
<text x="331.8" y="697.8" font-size="14.4" fill="#111" font-weight="normal" text-anchor="middle" >640</text>
<text x="417.3" y="697.8" font-size="14.4" fill="#111" font-weight="normal" text-anchor="middle" >650</text>
<text x="496.5" y="697.8" font-size="14.4" fill="#111" font-weight="normal" text-anchor="middle" >660</text>
<text x="392.7" y="718.6" font-size="22" fill="#111" font-weight="normal" text-anchor="middle" textLength="203" lengthAdjust="spacingAndGlyphs">Binding energy (eV)</text>
<text transform="translate(280 536.5) rotate(-90)" font-size="22" fill="#111" text-anchor="middle" textLength="139" lengthAdjust="spacingAndGlyphs">Intensity (a.u.)</text>
<path d="M342.5 441 V686" stroke="#16a94c" stroke-width="1" stroke-dasharray="2 1.5"/>
<path d="M443.5 505 V686" stroke="#16a94c" stroke-width="1" stroke-dasharray="2 1.5"/>
<text x="320.5" y="436.9" font-size="14.6" font-weight="bold" fill="#16a94c">Mn 2<tspan font-style="italic">p</tspan><tspan font-size="9.5" dy="3">3/2</tspan></text>
<text x="420.3" y="497.6" font-size="14.6" font-weight="bold" fill="#16a94c">Mn 2<tspan font-style="italic">p</tspan><tspan font-size="9.5" dy="3">1/2</tspan></text>
<path d="M290 628.5 290.5 628.4 291 628.8 291.5 628.7 292 627.9 292.5 628.2 293 627.9 293.5 628.6 294 629.3 294.5 628.4 295 629.4 295.5 627.5 296 628.5 296.5 629.1 297 627.8 297.5 628.3 298 628.4 298.5 628.3 299 628.1 299.5 630.7 300 627.5 300.5 628.6 301 627.9 301.5 628.5 302 628.4 302.5 628.6 303 628.2 303.5 628.4 304 628.2 304.5 628.4 305 628.2 305.5 628.4 306 629.2 306.5 628.9 307 627.1 307.5 628.1 308 627.4 308.5 629.2 309 628.1 309.5 629.6 310 628.3 310.5 627.8 311 628.9 311.5 626.7 312 629 312.5 628.9 313 628.3 313.5 627.4 314 627.6 314.5 628.2 315 627 315.5 628.2 316 628.7 316.5 627.5 317 627.6 317.5 629.1 318 628.2 318.5 628 319 628.4 319.5 627.3 320 628.2 320.5 628.5 321 629.2 321.5 628.6 322 627.3 322.5 628.9 323 627.7 323.5 628.1 324 628.8 324.5 628.7 325 627.8 325.5 627.3 326 628.9 326.5 628.3 327 628.4 327.5 628.5 328 628.2 328.5 629.3 329 628.2 329.5 628.9 330 628.7 330.5 627.8 331 628.4 331.5 628.1 332 628.1 332.5 628.6 333 628.2 333.5 627.6 334 629 334.5 628 335 629.1 335.5 628.4 336 628.7 336.5 628.2 337 627.4 337.5 628.1 338 628.1 338.5 628 339 627 339.5 628.3 340 627.9 340.5 627.8 341 628.6 341.5 628.7 342 627.6 342.5 627.6 343 628.4 343.5 628.5 344 628.4 344.5 628 345 629.1 345.5 628.2 346 627.8 346.5 627.4 347 628.5 347.5 627.8 348 628.3 348.5 628.6 349 627.9 349.5 628.6 350 628.8 350.5 628 351 627.4 351.5 627.2 352 627.4 352.5 627.4 353 627.8 353.5 628.4 354 628.2 354.5 627.8 355 628.6 355.5 627.9 356 629.2 356.5 627.9 357 628.3 357.5 627.4 358 628.4 358.5 628.3 359 628.3 359.5 628.3 360 628.9 360.5 628.8 361 627.8 361.5 627.4 362 627.8 362.5 627.8 363 628.7 363.5 627.4 364 627.4 364.5 628.2 365 627.6 365.5 627.8 366 627.5 366.5 628.8 367 628.1 367.5 627.5 368 628.3 368.5 628.2 369 628.5 369.5 627.8 370 628 370.5 627.4 371 628.2 371.5 627.2 372 628.1 372.5 628.6 373 628.5 373.5 627 374 628 374.5 628 375 627.9 375.5 628.2 376 628.8 376.5 628.2 377 628.7 377.5 627.2 378 628.6 378.5 628.6 379 627.3 379.5 627.5 380 626.8 380.5 627.8 381 628 381.5 629 382 627.4 382.5 627.5 383 627.7 383.5 628.5 384 627.8 384.5 627.8 385 627.2 385.5 628.2 386 627.6 386.5 627.4 387 627.7 387.5 627.6 388 627.9 388.5 628.3 389 628.5 389.5 629.2 390 627.9 390.5 628.2 391 628.6 391.5 627.4 392 627.9 392.5 627.9 393 629 393.5 628.3 394 627.1 394.5 626.4 395 627.9 395.5 626.9 396 627.2 396.5 627 397 627.6 397.5 627.3 398 628.8 398.5 627.6 399 628.2 399.5 626.6 400 628.4 400.5 627.1 401 627.7 401.5 627.6 402 628.3 402.5 627.5 403 628.1 403.5 627.6 404 627.9 404.5 628.6 405 628.7 405.5 627.3 406 627.7 406.5 627.9 407 627.4 407.5 628.9 408 627.4 408.5 627.6 409 627.9 409.5 628.2 410 627.1 410.5 626.9 411 627.7 411.5 628.2 412 627 412.5 627.4 413 627.1 413.5 627 414 627.5 414.5 626.9 415 627.6 415.5 628.1 416 627.6 416.5 628.1 417 628 417.5 627.4 418 627.2 418.5 627.7 419 627.4 419.5 627.2 420 626.7 420.5 628.5 421 628 421.5 629.1 422 627.6 422.5 627.9 423 627.9 423.5 626.1 424 627.3 424.5 628.4 425 627.7 425.5 628.1 426 627.7 426.5 627.8 427 627.3 427.5 627.2 428 626.5 428.5 626.5 429 628.2 429.5 627.1 430 627.1 430.5 627.8 431 628 431.5 627.6 432 627.9 432.5 627.7 433 627 433.5 628.7 434 628.1 434.5 626.9 435 627.1 435.5 626.7 436 627.7 436.5 627.2 437 626.1 437.5 628.6 438 627.8 438.5 627.4 439 628.1 439.5 627.4 440 627.9 440.5 627 441 628 441.5 626.7 442 628.6 442.5 627.6 443 627.9 443.5 627.9 444 627.4 444.5 627.4 445 627.1 445.5 627.3 446 627.5 446.5 627.6 447 627.1 447.5 627 448 627.9 448.5 626.4 449 628.4 449.5 627 450 627.6 450.5 627.9 451 628.7 451.5 627 452 626.4 452.5 627.1 453 626.2 453.5 626.5 454 626.1 454.5 627.7 455 627.2 455.5 627.2 456 627.7 456.5 627.6 457 626.4 457.5 627.7 458 626.9 458.5 626.5 459 627 459.5 626.5 460 626.7 460.5 626.2 461 626.8 461.5 627.1 462 626.9 462.5 627.7 463 627 463.5 626.9 464 627.7 464.5 627.6 465 627.3 465.5 627.1 466 626.7 466.5 626.3 467 627.4 467.5 627.8 468 627.9 468.5 628.6 469 627.2 469.5 627.3 470 627.3 470.5 627.4 471 626.4 471.5 626.7 472 627.2 472.5 626.8 473 627.7 473.5 626.4 474 628.1 474.5 626.3 475 627.1 475.5 626 476 627.3 476.5 627.5 477 627.2 477.5 626.5 478 627.7 478.5 626.9 479 626.4 479.5 627.3 480 627.4 480.5 627.7 481 627.1 481.5 626.7 482 626.9 482.5 626.4 483 627.4 483.5 626.8 484 626.9 484.5 627.1 485 627.5 485.5 627.9 486 627.4 486.5 626.4 487 627.8 487.5 628.4 488 627.1 488.5 627 489 626.3 489.5 626.8 490 626.4 490.5 627.7 491 626 491.5 626.7 492 627.4 492.5 626.3 493 626.5 493.5 628 494 625.8 494.5 626.6 495 628.3 495.5 627.5 496 626 496.5 626.5 497 626" fill="none" stroke="#111111" stroke-width="1.9" stroke-linejoin="round"/>
<path d="M290 637.8 290.5 637 291 637.1 291.5 636.7 292 638 292.5 635.7 293 636.4 293.5 637.7 294 636.6 294.5 638.1 295 637.4 295.5 638 296 637.5 296.5 637.6 297 637.3 297.5 637.7 298 636.4 298.5 636.5 299 637.9 299.5 638.1 300 637.5 300.5 636.8 301 637.2 301.5 638 302 637.8 302.5 636.8 303 638.4 303.5 636.4 304 637 304.5 636.2 305 637.6 305.5 638.7 306 637.4 306.5 637.2 307 637.2 307.5 637.4 308 637.8 308.5 637.9 309 637.6 309.5 638.3 310 636.4 310.5 637.3 311 637.6 311.5 637.3 312 638.5 312.5 637.5 313 636.7 313.5 637.4 314 638.1 314.5 638.4 315 637.6 315.5 638 316 637.7 316.5 637.4 317 636.3 317.5 637.9 318 636.8 318.5 637.7 319 637.1 319.5 636 320 635.8 320.5 633.7 321 633 321.5 630.2 322 629.1 322.5 629.1 323 626.5 323.5 623.4 324 622.5 324.5 619.6 325 617.7 325.5 613.8 326 612.3 326.5 609.4 327 606.5 327.5 603.2 328 601.2 328.5 599.8 329 597.6 329.5 594.2 330 592.5 330.5 591.4 331 589.1 331.5 586.2 332 585.2 332.5 582.8 333 581.2 333.5 579.2 334 578.7 334.5 577.3 335 576.3 335.5 574.8 336 573.3 336.5 571.7 337 570.8 337.5 570.7 338 569.3 338.5 569.2 339 567.6 339.5 568 340 567.6 340.5 567.1 341 567 341.5 566.9 342 566.5 342.5 568.9 343 568 343.5 569 344 570.1 344.5 569.3 345 570.6 345.5 572.1 346 572.2 346.5 572.4 347 573.1 347.5 574.4 348 576.4 348.5 578.7 349 577.4 349.5 578.9 350 580.8 350.5 580.8 351 583 351.5 584.2 352 584.4 352.5 586.1 353 587.7 353.5 587.6 354 589.4 354.5 590.4 355 591.3 355.5 593.8 356 593.8 356.5 594.9 357 596.3 357.5 597.4 358 597.8 358.5 598.8 359 600.4 359.5 600.4 360 601.8 360.5 602.1 361 603.2 361.5 603.7 362 604.8 362.5 604.7 363 605.1 363.5 604.5 364 604.6 364.5 607.2 365 606.9 365.5 605.5 366 607.8 366.5 606.3 367 607.4 367.5 608.2 368 608.9 368.5 609 369 608.3 369.5 608.3 370 608.3 370.5 608.1 371 608.3 371.5 608.1 372 609.4 372.5 609.2 373 608.7 373.5 610.4 374 608.2 374.5 609.8 375 609.7 375.5 609.5 376 608.5 376.5 610.3 377 610.4 377.5 609.6 378 610.9 378.5 610.1 379 610.8 379.5 610.1 380 610.2 380.5 610.4 381 610.9 381.5 610.5 382 611.6 382.5 610.9 383 610.5 383.5 610.3 384 609.9 384.5 611.8 385 612.1 385.5 611.4 386 611.3 386.5 610.6 387 611.6 387.5 611.1 388 611.8 388.5 611.1 389 613.2 389.5 611.8 390 611.5 390.5 612.3 391 611.6 391.5 611.4 392 612 392.5 611.9 393 613.1 393.5 613.2 394 613.5 394.5 613.2 395 614.2 395.5 614 396 613.9 396.5 614.3 397 614.1 397.5 614.6 398 613.2 398.5 613.8 399 615.8 399.5 614.3 400 614.1 400.5 614.5 401 614.7 401.5 615.1 402 615 402.5 614 403 615.5 403.5 615.9 404 615.9 404.5 615.7 405 615.8 405.5 615.2 406 615.1 406.5 615.3 407 614.6 407.5 615 408 615.2 408.5 615.7 409 615.6 409.5 616.4 410 616.3 410.5 615.5 411 616.1 411.5 615.7 412 617.7 412.5 617.9 413 618.2 413.5 617.7 414 617.2 414.5 617.4 415 617.9 415.5 617.5 416 617.3 416.5 615.9 417 616 417.5 616.2 418 613.1 418.5 613.5 419 613.1 419.5 612.9 420 611.7 420.5 612.2 421 610.2 421.5 610.9 422 610.2 422.5 609.1 423 609.5 423.5 609.6 424 608.2 424.5 607.3 425 607.6 425.5 606.6 426 606.2 426.5 606.8 427 605.7 427.5 605.3 428 602.7 428.5 602.7 429 601.9 429.5 601.3 430 600.3 430.5 599.9 431 599.5 431.5 598.9 432 597 432.5 596.3 433 596.6 433.5 593.9 434 594.5 434.5 593.6 435 593.1 435.5 592.2 436 591.2 436.5 591.1 437 589.6 437.5 589.3 438 587.4 438.5 588.5 439 587.4 439.5 585.8 440 587.3 440.5 585.9 441 586.5 441.5 586.3 442 586.1 442.5 586.9 443 585.8 443.5 586.8 444 588.2 444.5 587.5 445 587.7 445.5 586.9 446 587.9 446.5 588.3 447 588.7 447.5 589.1 448 589.7 448.5 590.1 449 590.2 449.5 591.1 450 592.2 450.5 592.5 451 593.7 451.5 594.8 452 594.7 452.5 594.8 453 595.1 453.5 597.4 454 597 454.5 597.3 455 598.5 455.5 599.4 456 600.3 456.5 599.9 457 601.6 457.5 602.2 458 602.6 458.5 603.6 459 603.7 459.5 605.7 460 605.5 460.5 605.9 461 605.6 461.5 606.7 462 606.2 462.5 605.4 463 605.5 463.5 606.2 464 606.5 464.5 606.6 465 607.1 465.5 606.7 466 606.7 466.5 607 467 606.2 467.5 607.3 468 607.2 468.5 607.2 469 607.5 469.5 605.9 470 606.1 470.5 606.2 471 608.2 471.5 606.8 472 607.4 472.5 608.5 473 606.3 473.5 606.7 474 607.4 474.5 607.8 475 608.2 475.5 606.9 476 607.8 476.5 606.8 477 607.3 477.5 607.2 478 607.2 478.5 608.1 479 607.8 479.5 606.5 480 607.8 480.5 608.1 481 607.2 481.5 607.3 482 608.1 482.5 607.1 483 608.3 483.5 607 484 607.3 484.5 607.1 485 607.5 485.5 607.5 486 606.6 486.5 607.5 487 607.5 487.5 607.1 488 607 488.5 607.6 489 607.5 489.5 606.4 490 607.8 490.5 608.5 491 607.5 491.5 607.7 492 606.6 492.5 607.9 493 607.7 493.5 607.6 494 607.2 494.5 608 495 607.9 495.5 607.9 496 607 496.5 608.2 497 607.9" fill="none" stroke="#22b0ee" stroke-width="1.9" stroke-linejoin="round"/>
<path d="M290 632.5 290.5 630.7 291 631.5 291.5 631.5 292 632 292.5 632.1 293 631.6 293.5 631.9 294 630.9 294.5 632.8 295 632.1 295.5 632 296 632.1 296.5 632.2 297 632.6 297.5 632.2 298 632.4 298.5 631.7 299 632.8 299.5 633.1 300 632.6 300.5 632.3 301 632.7 301.5 633.5 302 632.6 302.5 632.5 303 632.9 303.5 633.4 304 633.2 304.5 632.9 305 632.4 305.5 633.5 306 633.2 306.5 631.9 307 634 307.5 633.7 308 633.5 308.5 633.5 309 632.7 309.5 633.7 310 633.7 310.5 634 311 632.9 311.5 632.8 312 634.4 312.5 633.2 313 632.1 313.5 632.6 314 633.2 314.5 633.7 315 632.4 315.5 633 316 632.7 316.5 633 317 632.5 317.5 633.4 318 632.1 318.5 632.1 319 632.2 319.5 631.1 320 631.1 320.5 630.3 321 631 321.5 629 322 629 322.5 627.9 323 627.1 323.5 625.7 324 625.6 324.5 624.5 325 623.8 325.5 622.5 326 620.5 326.5 618.8 327 616.2 327.5 615 328 612.8 328.5 609.6 329 607 329.5 606.1 330 602.4 330.5 601 331 598 331.5 596.8 332 594.8 332.5 593.9 333 592.3 333.5 591.2 334 589.9 334.5 587.9 335 588.5 335.5 585.8 336 585.4 336.5 584.9 337 583.9 337.5 582.7 338 582.1 338.5 581.8 339 580 339.5 581.7 340 581.8 340.5 581.3 341 581.7 341.5 580.1 342 580.6 342.5 580.8 343 581.3 343.5 580.9 344 580.2 344.5 582 345 583 345.5 581.6 346 581.8 346.5 583.9 347 583.7 347.5 585.4 348 586.5 348.5 586.8 349 587.6 349.5 589.3 350 589.8 350.5 591.4 351 592.2 351.5 593.4 352 594 352.5 594.9 353 594.1 353.5 595.8 354 598.4 354.5 598.2 355 598.3 355.5 599.3 356 601.4 356.5 601.4 357 601.9 357.5 602.2 358 602.9 358.5 604.8 359 603.4 359.5 604.9 360 604 360.5 606.5 361 606.5 361.5 607.1 362 606.4 362.5 606.8 363 608 363.5 608 364 608.4 364.5 608.3 365 608.5 365.5 608.5 366 608.4 366.5 609 367 608.3 367.5 610.1 368 609.9 368.5 610.5 369 610.2 369.5 609 370 611 370.5 611.3 371 610.1 371.5 610.1 372 611.8 372.5 610.7 373 611.2 373.5 610.6 374 611.6 374.5 611.2 375 612.5 375.5 611.9 376 610.3 376.5 611.1 377 612.1 377.5 612.2 378 611.2 378.5 612.2 379 612.9 379.5 612.7 380 611.7 380.5 612.8 381 613.2 381.5 612.3 382 611.9 382.5 613.5 383 613.4 383.5 612.7 384 612.6 384.5 613.6 385 613.3 385.5 613.7 386 613.2 386.5 612.7 387 613.1 387.5 613.9 388 613.5 388.5 613.2 389 613.3 389.5 614.5 390 614.2 390.5 614.1 391 613.6 391.5 612.8 392 614.3 392.5 612.8 393 614.9 393.5 615.2 394 614.8 394.5 614.1 395 614.7 395.5 614.1 396 614.1 396.5 614.5 397 615 397.5 616.5 398 615 398.5 615.2 399 614.3 399.5 615.3 400 615.7 400.5 615.8 401 615.5 401.5 614.9 402 616.5 402.5 615.8 403 616.7 403.5 616.1 404 616.6 404.5 615 405 615.5 405.5 616.4 406 616.8 406.5 616 407 615.7 407.5 617.8 408 616.6 408.5 618.1 409 618.9 409.5 617.7 410 617.5 410.5 618.3 411 619.3 411.5 617.9 412 619.1 412.5 618.4 413 618.3 413.5 618.5 414 619 414.5 618.3 415 618.9 415.5 617.8 416 617.5 416.5 616.7 417 617.5 417.5 616.1 418 616.1 418.5 616 419 615 419.5 614.3 420 613.7 420.5 612.8 421 613.5 421.5 612.7 422 611.1 422.5 611.4 423 612.2 423.5 611.3 424 610.8 424.5 610.8 425 608.7 425.5 609.1 426 608.6 426.5 608.4 427 608.4 427.5 607.3 428 606.2 428.5 606.2 429 605.7 429.5 606.8 430 605.6 430.5 605.1 431 604.8 431.5 603.4 432 603.4 432.5 602.7 433 602 433.5 600.6 434 602 434.5 600.5 435 600 435.5 600.2 436 599.6 436.5 599.7 437 598.2 437.5 596.8 438 596.9 438.5 597.4 439 597.4 439.5 598 440 596.2 440.5 596.4 441 595.6 441.5 596.3 442 596.6 442.5 596.5 443 595.4 443.5 595.3 444 595.4 444.5 596.3 445 595.2 445.5 597.4 446 597.2 446.5 597.4 447 596.7 447.5 597.5 448 598.6 448.5 598 449 598.7 449.5 598.8 450 600 450.5 599.1 451 598.1 451.5 600.4 452 600.2 452.5 599.9 453 600.8 453.5 601 454 602.2 454.5 602.7 455 602.2 455.5 602.7 456 604.4 456.5 603.5 457 605.1 457.5 604.9 458 604.8 458.5 606 459 606 459.5 604.8 460 606.8 460.5 606.2 461 606.6 461.5 605.7 462 608.3 462.5 607.7 463 607.1 463.5 608 464 607.8 464.5 607.6 465 607.4 465.5 607.8 466 608.2 466.5 608.5 467 607.9 467.5 608.1 468 608.5 468.5 608.7 469 608.5 469.5 608 470 608.4 470.5 608.3 471 609.1 471.5 607.9 472 608.8 472.5 608.6 473 608.3 473.5 608.6 474 608.2 474.5 607.7 475 609.6 475.5 609.3 476 608.5 476.5 609.5 477 609.2 477.5 608.1 478 609 478.5 608.6 479 608.3 479.5 608.5 480 608.8 480.5 609.1 481 608.9 481.5 608.6 482 608 482.5 608.4 483 609.1 483.5 608.7 484 608.6 484.5 608.5 485 608.8 485.5 608.1 486 608.5 486.5 607.9 487 609.9 487.5 609 488 608.4 488.5 608.9 489 609.3 489.5 610.1 490 609.4 490.5 608.2 491 609.2 491.5 609.6 492 609 492.5 607.9 493 608.1 493.5 610.3 494 609.1 494.5 608.3 495 608.2 495.5 607.8 496 608.6 496.5 608.5 497 608.4" fill="none" stroke="#2a78c8" stroke-width="1.9" stroke-linejoin="round"/>
<path d="M290 637.2 290.5 637.6 291 636.5 291.5 635.6 292 636.2 292.5 637.6 293 638.4 293.5 637 294 637.7 294.5 638 295 638.9 295.5 638.6 296 638.5 296.5 638.1 297 639.4 297.5 639.2 298 638.5 298.5 638.2 299 640.7 299.5 638.3 300 639.8 300.5 639.2 301 639.3 301.5 639.8 302 640.9 302.5 640.3 303 639.8 303.5 641 304 639.4 304.5 640.8 305 640.9 305.5 640.3 306 640.5 306.5 640.8 307 641.5 307.5 641.1 308 640.2 308.5 640.3 309 640.1 309.5 639.8 310 640.2 310.5 640 311 640 311.5 640.9 312 640.8 312.5 640.8 313 640.9 313.5 641 314 640.6 314.5 640.9 315 639.6 315.5 640.4 316 640.2 316.5 640.8 317 640.1 317.5 639.3 318 640.6 318.5 639.5 319 640 319.5 639.8 320 639.6 320.5 639.5 321 638.3 321.5 637.8 322 638.3 322.5 637.1 323 638.6 323.5 637.8 324 637 324.5 636.1 325 635 325.5 636.2 326 634.9 326.5 633.2 327 632.4 327.5 632.8 328 631.3 328.5 630 329 629.4 329.5 628.1 330 625.9 330.5 626 331 624 331.5 621.7 332 618.8 332.5 618.7 333 616.4 333.5 615.7 334 614.6 334.5 612.5 335 612.5 335.5 611.1 336 609.8 336.5 609.9 337 608.6 337.5 608.8 338 607.9 338.5 606.5 339 607.1 339.5 606.4 340 607 340.5 606.7 341 607.3 341.5 606.4 342 605.8 342.5 606.2 343 606.1 343.5 605.3 344 606.3 344.5 607.9 345 606.5 345.5 608 346 607.6 346.5 608.6 347 608.7 347.5 608.7 348 608.3 348.5 608.9 349 609.5 349.5 611.5 350 611.7 350.5 610.3 351 611.6 351.5 611.1 352 612.2 352.5 613.8 353 613.9 353.5 614 354 613.1 354.5 614.1 355 614.4 355.5 616.8 356 615.8 356.5 617 357 616.9 357.5 617.1 358 617.3 358.5 619 359 618.5 359.5 619.4 360 619.6 360.5 619.6 361 620.9 361.5 620.4 362 621.4 362.5 621.1 363 620.9 363.5 623 364 623.1 364.5 622.9 365 622 365.5 622.4 366 623.5 366.5 622.5 367 625.3 367.5 623.1 368 623.5 368.5 624.7 369 624.6 369.5 624.5 370 624.8 370.5 625 371 624.6 371.5 624.3 372 624.5 372.5 624.8 373 624.9 373.5 625.4 374 625.1 374.5 625.3 375 624.5 375.5 624.3 376 624.3 376.5 624.5 377 623.8 377.5 624.2 378 624.8 378.5 624.2 379 623.8 379.5 623.6 380 623.8 380.5 623.7 381 625.2 381.5 625.1 382 625.2 382.5 623.9 383 623.5 383.5 623.6 384 623.2 384.5 624 385 623.4 385.5 624.4 386 623.3 386.5 623.9 387 622.1 387.5 623.6 388 623.7 388.5 623.8 389 623.5 389.5 623.9 390 624 390.5 624.1 391 624.9 391.5 624 392 624.8 392.5 625.3 393 625.2 393.5 625 394 625.1 394.5 625.7 395 625.9 395.5 624.9 396 625.3 396.5 626.4 397 625.8 397.5 625 398 625.9 398.5 626.3 399 626.2 399.5 626 400 625.9 400.5 625.9 401 625.4 401.5 626.4 402 626.4 402.5 625.7 403 625.7 403.5 625.8 404 626 404.5 627.3 405 626.3 405.5 626.6 406 626.3 406.5 626.4 407 626.2 407.5 625.3 408 627 408.5 626.8 409 626.7 409.5 626.7 410 627.1 410.5 626.2 411 626.9 411.5 628.1 412 627.5 412.5 626.8 413 625.7 413.5 625.2 414 626.5 414.5 627.2 415 626.7 415.5 627.2 416 627.4 416.5 627.7 417 628 417.5 627.5 418 627.2 418.5 627.3 419 627 419.5 629.3 420 628.1 420.5 628 421 626.8 421.5 626.8 422 627.5 422.5 627.6 423 627.4 423.5 627.6 424 626.8 424.5 626 425 625.7 425.5 625.8 426 625.7 426.5 625.3 427 624.5 427.5 625 428 622.9 428.5 623 429 621.9 429.5 621.8 430 622.7 430.5 620.5 431 620.8 431.5 620.3 432 620.1 432.5 619.9 433 618.6 433.5 618.3 434 617.8 434.5 617.2 435 617.3 435.5 616.6 436 616.3 436.5 615.7 437 615.2 437.5 615.1 438 614.8 438.5 614.7 439 614.2 439.5 614.1 440 615.7 440.5 613.8 441 614.8 441.5 616.2 442 615.2 442.5 615 443 614.5 443.5 616.2 444 615 444.5 615.3 445 614.5 445.5 615.8 446 616.2 446.5 615 447 616.4 447.5 616.7 448 616.9 448.5 616.1 449 616.9 449.5 618.2 450 618 450.5 617.1 451 618.3 451.5 617.3 452 619 452.5 619.7 453 620.6 453.5 619.1 454 619.7 454.5 619.9 455 619.6 455.5 619.8 456 620.9 456.5 620.5 457 621 457.5 620.9 458 621 458.5 620.9 459 621.4 459.5 622.4 460 622.8 460.5 623.4 461 621.4 461.5 621.7 462 623.1 462.5 623.1 463 622.5 463.5 623.5 464 623.2 464.5 622.4 465 623.7 465.5 623.7 466 623.7 466.5 623.9 467 622.8 467.5 624.4 468 624 468.5 624.8 469 624.2 469.5 624.2 470 623.6 470.5 623.4 471 624.3 471.5 623.6 472 624.4 472.5 624.1 473 622.9 473.5 624.5 474 624.8 474.5 623.8 475 623.7 475.5 624.4 476 624 476.5 624.3 477 623.6 477.5 624 478 624.2 478.5 624.1 479 625.2 479.5 624 480 623.5 480.5 623.8 481 623.9 481.5 624.8 482 625.3 482.5 624.5 483 625.2 483.5 624.1 484 625.1 484.5 624.5 485 624.5 485.5 624.3 486 624.5 486.5 625.2 487 624.4 487.5 624.9 488 624.5 488.5 624.4 489 624.6 489.5 623.4 490 624.8 490.5 624.9 491 623.9 491.5 624.5 492 624.8 492.5 624 493 624.7 493.5 625.1 494 625.1 494.5 624.7 495 625.7 495.5 625.3 496 624.3 496.5 624.8 497 625.7" fill="none" stroke="#1a1aee" stroke-width="1.9" stroke-linejoin="round"/>
<path d="M290 634.2 290.5 633.8 291 634.4 291.5 634 292 633.6 292.5 633.6 293 633.8 293.5 632.9 294 633.8 294.5 633.5 295 633.9 295.5 633.9 296 634.3 296.5 634.1 297 634 297.5 634.2 298 634.4 298.5 633.9 299 633.9 299.5 634.2 300 634.4 300.5 634.5 301 633.3 301.5 633.9 302 634 302.5 633.3 303 634.3 303.5 634.8 304 633.8 304.5 633.9 305 635 305.5 634 306 634.1 306.5 634.4 307 634.3 307.5 634.7 308 634.6 308.5 633.6 309 634.8 309.5 634.5 310 635.2 310.5 634.7 311 634.1 311.5 635 312 634.2 312.5 634.1 313 634.4 313.5 634.3 314 634.1 314.5 634.4 315 634 315.5 633.9 316 635.4 316.5 633.5 317 635 317.5 634.2 318 632.9 318.5 632.7 319 631.3 319.5 631.3 320 631.7 320.5 628.5 321 629.2 321.5 627.3 322 624.7 322.5 623 323 621.7 323.5 618.1 324 616 324.5 612.7 325 610.4 325.5 608.1 326 605.5 326.5 601.3 327 599.3 327.5 596 328 591.5 328.5 588.3 329 583.5 329.5 579.7 330 574.3 330.5 568.8 331 564.2 331.5 559.7 332 554.9 332.5 550.4 333 547.1 333.5 543 334 541.4 334.5 535.9 335 535.5 335.5 533.4 336 530.6 336.5 528 337 528.4 337.5 527.3 338 527 338.5 526.8 339 525.6 339.5 525.2 340 525.6 340.5 525 341 525.1 341.5 525.8 342 526.2 342.5 527.1 343 527.7 343.5 527.8 344 528.3 344.5 531.3 345 532.9 345.5 533.8 346 534 346.5 535.5 347 538.1 347.5 538.6 348 541.5 348.5 542.8 349 544.6 349.5 545.8 350 547.1 350.5 548 351 548.9 351.5 552.1 352 552.7 352.5 552.1 353 554.2 353.5 554.7 354 556.3 354.5 557.2 355 559.1 355.5 558.5 356 560.3 356.5 563.2 357 564.2 357.5 567.3 358 569.6 358.5 570.9 359 572.9 359.5 575.3 360 575.8 360.5 577 361 580.1 361.5 580.7 362 582.7 362.5 584.8 363 585.9 363.5 587.4 364 587.5 364.5 588.3 365 588.4 365.5 589.2 366 588.6 366.5 591.9 367 591.3 367.5 592 368 592.2 368.5 593.4 369 594 369.5 594.1 370 595.1 370.5 595 371 595.2 371.5 594.4 372 595.2 372.5 596.6 373 595.8 373.5 595.2 374 595.7 374.5 597.4 375 597.2 375.5 596.8 376 597.4 376.5 596.5 377 597.3 377.5 597.1 378 596.6 378.5 596.5 379 596.8 379.5 595.7 380 597 380.5 596.4 381 595 381.5 595 382 594.4 382.5 594.8 383 595.3 383.5 594 384 594.3 384.5 594.6 385 594.5 385.5 594.4 386 594.1 386.5 595.3 387 593.8 387.5 594.6 388 593.3 388.5 594.2 389 594.9 389.5 594.2 390 592.5 390.5 594.4 391 594.2 391.5 593.6 392 594.6 392.5 594.7 393 594.1 393.5 594.8 394 594.7 394.5 595.2 395 595 395.5 594 396 595.5 396.5 594.8 397 595 397.5 596.8 398 596.2 398.5 596.4 399 595.1 399.5 596.8 400 597.6 400.5 597.4 401 597.6 401.5 598.6 402 598.6 402.5 598.9 403 599.2 403.5 599.9 404 601.2 404.5 602.5 405 602.1 405.5 602.2 406 603.2 406.5 602.9 407 603.7 407.5 604 408 604.6 408.5 604.7 409 604.8 409.5 604.3 410 605.6 410.5 604.8 411 604.5 411.5 605 412 604.6 412.5 605.3 413 604.6 413.5 605 414 605.9 414.5 605.5 415 605.2 415.5 604.5 416 604.2 416.5 604.2 417 604.7 417.5 604.7 418 604.1 418.5 604.1 419 602.2 419.5 602.5 420 599.6 420.5 599.3 421 598.6 421.5 597.8 422 597.3 422.5 598.3 423 595.4 423.5 595.8 424 593.4 424.5 593.6 425 591.5 425.5 591.3 426 589.7 426.5 588.8 427 587 427.5 584.8 428 583.7 428.5 582.9 429 582 429.5 579.8 430 578.5 430.5 577.8 431 575.6 431.5 574.9 432 573.7 432.5 572.9 433 570.2 433.5 569.8 434 569.8 434.5 566.7 435 566.6 435.5 565.6 436 564.5 436.5 563.8 437 562.9 437.5 563.8 438 562.1 438.5 561.7 439 560.4 439.5 559.3 440 560.3 440.5 559.9 441 558.8 441.5 558.6 442 560.2 442.5 559.8 443 559.5 443.5 560.2 444 561.1 444.5 560.9 445 561.3 445.5 561.5 446 561.3 446.5 561.3 447 563.3 447.5 561.4 448 563.3 448.5 564.9 449 565.5 449.5 567.1 450 568.5 450.5 570 451 571.6 451.5 573.4 452 574.9 452.5 575.2 453 576.1 453.5 577.2 454 577.9 454.5 579.1 455 580.6 455.5 582.1 456 583.4 456.5 583.5 457 585.1 457.5 585.9 458 587.8 458.5 588 459 588.6 459.5 587.9 460 588.4 460.5 589.6 461 590.4 461.5 589.7 462 591.3 462.5 591.8 463 592.3 463.5 593.3 464 591.9 464.5 592.5 465 593.8 465.5 593.5 466 594.4 466.5 594.8 467 593.5 467.5 595.8 468 595.9 468.5 594.2 469 594.8 469.5 595.7 470 595 470.5 595.6 471 594.9 471.5 596.2 472 594.7 472.5 595.5 473 595.7 473.5 594.8 474 595.8 474.5 595.9 475 596.2 475.5 594.9 476 596.6 476.5 595.3 477 595.3 477.5 595.5 478 596.1 478.5 595.5 479 595.5 479.5 595.8 480 595.3 480.5 594.9 481 594.7 481.5 594.8 482 594.9 482.5 595.4 483 594.5 483.5 595 484 594.6 484.5 594.9 485 594 485.5 593.5 486 592.3 486.5 593.3 487 593.6 487.5 593.6 488 592.2 488.5 592.6 489 592.5 489.5 592.7 490 593.5 490.5 593.4 491 593.8 491.5 592.2 492 592.2 492.5 593.2 493 592.9 493.5 593.4 494 593.5 494.5 594.1 495 594.4 495.5 593.6 496 594.3 496.5 594.5 497 595.2" fill="none" stroke="#ee1c24" stroke-width="1.9" stroke-linejoin="round"/>
<path d="M552 393 H760 V683.5 H552 Z" fill="none" stroke="#000" stroke-width="1.7"/>
<path d="M611.6 683.5 v-6" stroke="#000" stroke-width="1.8"/>
<path d="M685.2 683.5 v-6" stroke="#000" stroke-width="1.8"/>
<text x="610" y="697.8" font-size="14.4" fill="#111" font-weight="normal" text-anchor="middle" >530</text>
<text x="686.2" y="697.8" font-size="14.4" fill="#111" font-weight="normal" text-anchor="middle" >535</text>
<text x="762.6" y="697.8" font-size="14.4" fill="#111" font-weight="normal" text-anchor="middle" >540</text>
<text x="655.7" y="718.6" font-size="22" fill="#111" font-weight="normal" text-anchor="middle" textLength="203" lengthAdjust="spacingAndGlyphs">Binding energy (eV)</text>
<text transform="translate(543.6 536.5) rotate(-90)" font-size="22" fill="#111" text-anchor="middle" textLength="139" lengthAdjust="spacingAndGlyphs">Intensity (a.u.)</text>
<path d="M604.6 525 V686" stroke="#16a94c" stroke-width="1" stroke-dasharray="2 1.5"/>
<path d="M643.4 532 V686" stroke="#16a94c" stroke-width="1" stroke-dasharray="2 1.5"/>
<text x="611.5" y="458.5" font-size="18.5" font-weight="bold" fill="#16a94c">O 1<tspan font-style="italic">s</tspan></text>
<text x="570.6" y="521.4" font-size="14" fill="#16a94c" font-weight="bold" text-anchor="start" >Metal-O</text>
<text x="632.1" y="526.2" font-size="14.5" fill="#16a94c" font-weight="bold" text-anchor="start" >O-H peak</text>
<path d="M552 628.3 552.5 627.7 553 628.2 553.5 628 554 627.6 554.5 628.3 555 627.7 555.5 627.9 556 627.7 556.5 627.8 557 627.8 557.5 627.8 558 628.2 558.5 628.1 559 627.4 559.5 627.8 560 627.8 560.5 627.7 561 627.5 561.5 627.3 562 627.2 562.5 627 563 627 563.5 627.3 564 626.9 564.5 627.3 565 626.7 565.5 627.2 566 626.6 566.5 626.5 567 626.6 567.5 627.2 568 627 568.5 626.2 569 627 569.5 626.4 570 626 570.5 627 571 626.3 571.5 626.1 572 626.6 572.5 626.6 573 625.7 573.5 626.4 574 625.8 574.5 625.7 575 625.9 575.5 626 576 625.7 576.5 625.5 577 625.8 577.5 626.1 578 625.6 578.5 626 579 625.4 579.5 625.6 580 625.6 580.5 625.2 581 625.9 581.5 625.5 582 625.4 582.5 625.3 583 625.3 583.5 625.5 584 625.6 584.5 625.2 585 625.2 585.5 625 586 624.7 586.5 625.2 587 624.6 587.5 625.2 588 624.9 588.5 624.5 589 624.9 589.5 624.3 590 624.5 590.5 624.1 591 625.1 591.5 624.5 592 624.1 592.5 624.6 593 624.1 593.5 624.1 594 624.2 594.5 624.4 595 624.3 595.5 624 596 623.6 596.5 623.5 597 623.2 597.5 623.1 598 622.6 598.5 622.1 599 622.2 599.5 621.5 600 620.9 600.5 621.2 601 620.8 601.5 619.6 602 619.6 602.5 618.9 603 619.1 603.5 618.3 604 618.2 604.5 617.3 605 617.5 605.5 617.8 606 617.1 606.5 616.7 607 616.4 607.5 615.5 608 615.4 608.5 615 609 614.4 609.5 614.2 610 614.3 610.5 613.8 611 613.1 611.5 613.1 612 613.1 612.5 611.8 613 611.6 613.5 611.1 614 611.5 614.5 610.4 615 610.1 615.5 609.4 616 609.4 616.5 609.2 617 608.6 617.5 608.2 618 607.9 618.5 608.2 619 607.9 619.5 608 620 606.2 620.5 606.4 621 605.3 621.5 605.1 622 604.5 622.5 604 623 602.9 623.5 603.1 624 601.8 624.5 600.5 625 599.3 625.5 598 626 597.3 626.5 595.5 627 593.8 627.5 592.8 628 591.1 628.5 589.5 629 587.1 629.5 585.1 630 582.4 630.5 580.3 631 577.3 631.5 574.4 632 570.9 632.5 567.9 633 565.1 633.5 561.6 634 559.9 634.5 557.2 635 555.4 635.5 553 636 551.3 636.5 549.7 637 547.5 637.5 545.1 638 543.7 638.5 542.4 639 541.1 639.5 539.7 640 538.6 640.5 538 641 536.8 641.5 535.8 642 535.3 642.5 534.5 643 533.9 643.5 533.5 644 534.2 644.5 534 645 535.2 645.5 535.5 646 536.9 646.5 537.8 647 538.8 647.5 539.8 648 541.8 648.5 542.7 649 544.7 649.5 546.7 650 548.9 650.5 550.7 651 553.3 651.5 555.4 652 558.5 652.5 561.1 653 563.7 653.5 565.8 654 568.7 654.5 570.4 655 573.5 655.5 575.9 656 578.7 656.5 580.7 657 583.9 657.5 585.5 658 588.7 658.5 591.1 659 593.1 659.5 595.7 660 597.3 660.5 598.3 661 600.9 661.5 602.6 662 604.1 662.5 605.6 663 607 663.5 608.8 664 610.1 664.5 611 665 612.5 665.5 613.5 666 613.9 666.5 614.9 667 615.4 667.5 616 668 616.8 668.5 616.6 669 618.2 669.5 618.2 670 618.7 670.5 618.6 671 619.4 671.5 619.6 672 620.3 672.5 620.5 673 620.5 673.5 620.5 674 621.1 674.5 621 675 621 675.5 621.8 676 621.6 676.5 622.1 677 621.9 677.5 622 678 622 678.5 622 679 622 679.5 622.7 680 622.1 680.5 622.3 681 622.6 681.5 622.9 682 622.9 682.5 622.2 683 622.5 683.5 622.4 684 622.1 684.5 622.5 685 621.9 685.5 622 686 622.1 686.5 622.8 687 621.8 687.5 622.6 688 621.3 688.5 622.3 689 622.1 689.5 622.2 690 622.1 690.5 621.8 691 621.9 691.5 621.9 692 621.8 692.5 621.6 693 622.4 693.5 621.8 694 622.3 694.5 621.7 695 621.7 695.5 621.6 696 621.6 696.5 621.5 697 621.7 697.5 621.6 698 621.5 698.5 621 699 622.2 699.5 621.5 700 621.5 700.5 621.7 701 621.6 701.5 620.6 702 621.2 702.5 621.4 703 621.2 703.5 621.8 704 621.6 704.5 620.9 705 621.4 705.5 621.7 706 621.2 706.5 620.8 707 621.4 707.5 621.1 708 620.7 708.5 621 709 621.1 709.5 621.1 710 621.3 710.5 621.2 711 620.7 711.5 621.1 712 621.3 712.5 620.9 713 620.9 713.5 620.9 714 620.8 714.5 620.6 715 621.1 715.5 621 716 621.1 716.5 620.9 717 620.7 717.5 621 718 620.9 718.5 620.8 719 621.2 719.5 621.1 720 620.4 720.5 620.7 721 620.7 721.5 621.2 722 620.4 722.5 620.6 723 620.7 723.5 621.3 724 620.2 724.5 620.3 725 620.3 725.5 620.1 726 620.2 726.5 620.4 727 620.3 727.5 620.5 728 620.4 728.5 620.1 729 620.7 729.5 620.7 730 620.2 730.5 620.9 731 620.2 731.5 620.5 732 620.1 732.5 620.2 733 620.5 733.5 620.4 734 620.7 734.5 620.5 735 620.2 735.5 620.8 736 620.1 736.5 620 737 620.4 737.5 620.2 738 620.1 738.5 620.2 739 619.8 739.5 620.4 740 620 740.5 620 741 620.3 741.5 619.6 742 620.3 742.5 620.1 743 620.2 743.5 620.4 744 619.9 744.5 620.1 745 620.4 745.5 620.1 746 619.8 746.5 619.6 747 619.9 747.5 620.2 748 620 748.5 620.1 749 620.1 749.5 619.8 750 619.2 750.5 619.4 751 620.2 751.5 619.5 752 620 752.5 619.9 753 619.5 753.5 619.3 754 620.1 754.5 619.6 755 620 755.5 619.6 756 619.3 756.5 619.6 757 619.6 757.5 619.6 758 619.9 758.5 619.6 759 619.4 759.5 619.2 760 619.2" fill="none" stroke="#ee1c24" stroke-width="2.0" stroke-linejoin="round"/>
<path d="M552 626.4 552.5 626 553 626.3 553.5 626.2 554 626.3 554.5 626.2 555 625.7 555.5 625.7 556 625.8 556.5 625.7 557 625.9 557.5 625.7 558 625.9 558.5 626.5 559 625.8 559.5 626.2 560 625.6 560.5 625.6 561 626.7 561.5 626.3 562 626 562.5 625.8 563 625.6 563.5 625.8 564 626.5 564.5 625.7 565 625.6 565.5 625.8 566 625.8 566.5 625.8 567 625.8 567.5 625.6 568 625.7 568.5 626.6 569 626.1 569.5 625.3 570 626.3 570.5 626.2 571 626 571.5 625.9 572 626.4 572.5 625.3 573 625.7 573.5 625.5 574 626.1 574.5 625.4 575 625.9 575.5 625.2 576 626.1 576.5 625.5 577 625.3 577.5 625.3 578 625.4 578.5 625.5 579 625.6 579.5 625.2 580 626 580.5 625.6 581 625.2 581.5 625.5 582 625.5 582.5 625.1 583 624.4 583.5 624.6 584 624.2 584.5 623.7 585 623.9 585.5 623.3 586 623.1 586.5 623.1 587 622.1 587.5 622.6 588 621.8 588.5 622.2 589 621.3 589.5 620.8 590 621.7 590.5 621.4 591 619.6 591.5 620.1 592 618.8 592.5 619.3 593 618.7 593.5 618.4 594 618 594.5 617.5 595 616.8 595.5 616.8 596 616.5 596.5 615.8 597 615.9 597.5 614.8 598 614.8 598.5 614.5 599 613.4 599.5 613.5 600 612.8 600.5 612.4 601 613 601.5 612 602 611.5 602.5 610.8 603 611 603.5 610.5 604 610.3 604.5 610.1 605 610.7 605.5 610 606 609.7 606.5 609.6 607 609 607.5 609.4 608 609 608.5 608.6 609 609 609.5 607.9 610 608.4 610.5 608.1 611 607.8 611.5 607.8 612 607.8 612.5 607.8 613 607.7 613.5 607.4 614 607.4 614.5 606.1 615 606 615.5 606.3 616 605.6 616.5 605.6 617 605.5 617.5 605.5 618 604.9 618.5 604.5 619 604.1 619.5 603.4 620 603.1 620.5 602.5 621 602.4 621.5 602.1 622 601.2 622.5 601.3 623 600.3 623.5 600.5 624 599.4 624.5 598.5 625 598.3 625.5 597.7 626 596.6 626.5 595.7 627 594.6 627.5 593.7 628 592.8 628.5 592.3 629 592.1 629.5 590.6 630 589.4 630.5 589.2 631 588.3 631.5 587.9 632 587.1 632.5 585.6 633 585.5 633.5 584.8 634 583.7 634.5 583.7 635 582.6 635.5 581.7 636 581.1 636.5 580.8 637 580.3 637.5 579.5 638 578.8 638.5 578.5 639 577.5 639.5 577.1 640 576.5 640.5 576 641 576.3 641.5 575.5 642 574.9 642.5 574.2 643 575 643.5 574.9 644 575 644.5 575.4 645 576.3 645.5 576.3 646 577.3 646.5 578.7 647 579.2 647.5 580.1 648 580.9 648.5 582.5 649 582.8 649.5 584.2 650 585.6 650.5 586.5 651 587.8 651.5 590.1 652 591.1 652.5 592.7 653 593.7 653.5 596.1 654 596.9 654.5 597.8 655 598.9 655.5 600.9 656 601.3 656.5 603.1 657 603.2 657.5 604.7 658 606.3 658.5 606.8 659 608.2 659.5 608.9 660 610.2 660.5 610.8 661 611.6 661.5 612.8 662 613.1 662.5 614 663 615.3 663.5 615 664 615.9 664.5 615.8 665 616.2 665.5 616.9 666 617.7 666.5 618.1 667 618.3 667.5 618.4 668 619.1 668.5 619.2 669 620.1 669.5 620.1 670 620.2 670.5 620.4 671 620.5 671.5 620.8 672 621.6 672.5 620.8 673 621.5 673.5 621.7 674 621.3 674.5 622.1 675 622.2 675.5 621.7 676 622.6 676.5 622.3 677 622.4 677.5 622.4 678 622.8 678.5 623.2 679 622.7 679.5 623.4 680 623.7 680.5 623.5 681 622.9 681.5 623.3 682 623.1 682.5 622.8 683 623.3 683.5 622.6 684 623.2 684.5 622.9 685 622.7 685.5 623.1 686 623 686.5 623.6 687 623.6 687.5 623.8 688 623.3 688.5 623.1 689 623.2 689.5 623.5 690 623.2 690.5 623.6 691 623.1 691.5 623 692 623.6 692.5 623.4 693 623.4 693.5 623.2 694 623.1 694.5 623.3 695 622.9 695.5 623.1 696 622.9 696.5 623.3 697 622.9 697.5 622.7 698 623 698.5 622.9 699 623 699.5 622.8 700 624 700.5 623.1 701 623.7 701.5 623.3 702 623.1 702.5 622.8 703 623.4 703.5 623.3 704 623.2 704.5 623.2 705 622.8 705.5 622.8 706 623.2 706.5 623.3 707 623.6 707.5 622.5 708 623.3 708.5 623.1 709 622.9 709.5 623 710 623.3 710.5 623 711 623 711.5 623 712 623 712.5 623.9 713 623.8 713.5 623.4 714 622.5 714.5 623.6 715 622.9 715.5 623.1 716 622.9 716.5 623.2 717 622.7 717.5 623.3 718 623.2 718.5 622.8 719 622.9 719.5 622.7 720 623 720.5 622.9 721 622.8 721.5 622.6 722 622.9 722.5 622.8 723 622.9 723.5 622.7 724 623.3 724.5 622.7 725 623.2 725.5 622.9 726 623.1 726.5 622.2 727 623.3 727.5 622.2 728 622.6 728.5 622.5 729 623 729.5 623 730 622.4 730.5 622.9 731 622.9 731.5 622.5 732 622.5 732.5 622.5 733 622.6 733.5 622.7 734 622.8 734.5 622.4 735 622.5 735.5 622.6 736 622.5 736.5 622 737 622.1 737.5 622.2 738 622.3 738.5 622.6 739 622.1 739.5 623 740 621.9 740.5 622.3 741 622.2 741.5 621.9 742 622.5 742.5 622.3 743 622 743.5 622 744 621.7 744.5 622.4 745 622.1 745.5 621.8 746 622.2 746.5 621.4 747 622 747.5 622.1 748 621.9 748.5 622 749 622.1 749.5 622.1 750 621.5 750.5 622 751 621.5 751.5 621.5 752 621.7 752.5 621.4 753 621.8 753.5 621.7 754 621.7 754.5 621.2 755 621.5 755.5 621.6 756 621.6 756.5 621.9 757 621.6 757.5 620.8 758 621.1 758.5 621.2 759 620.7 759.5 620.9 760 620.6" fill="none" stroke="#22b0ee" stroke-width="2.0" stroke-linejoin="round"/>
<path d="M552 624.9 552.5 625.5 553 625 553.5 624.7 554 624.5 554.5 624.8 555 625.7 555.5 624.9 556 624.9 556.5 625.9 557 625.1 557.5 624.9 558 625 558.5 624.7 559 625.3 559.5 625 560 624.6 560.5 624.6 561 624.8 561.5 624.7 562 625.1 562.5 624.4 563 625.4 563.5 625.3 564 624.3 564.5 624.6 565 625 565.5 625.2 566 625.3 566.5 625 567 625 567.5 624.7 568 625.1 568.5 624.7 569 624.9 569.5 624.8 570 625.1 570.5 625.5 571 625.2 571.5 624.7 572 625.4 572.5 625.3 573 624.6 573.5 624.8 574 625.3 574.5 624.8 575 624.9 575.5 625.4 576 625.3 576.5 625.4 577 624.7 577.5 625.6 578 624.3 578.5 625.1 579 625.1 579.5 624.8 580 624.6 580.5 624.9 581 625.1 581.5 624.5 582 624.7 582.5 624.5 583 624 583.5 623.6 584 623.9 584.5 622.9 585 623.1 585.5 622.1 586 621.9 586.5 621.6 587 621.5 587.5 620.6 588 620.5 588.5 619.7 589 619.8 589.5 618.7 590 618.9 590.5 618.6 591 617.4 591.5 617.7 592 616.6 592.5 616.2 593 615.6 593.5 615.2 594 614.9 594.5 614.6 595 614.5 595.5 613.4 596 612.4 596.5 612.5 597 611.3 597.5 611.3 598 610.4 598.5 609.9 599 609.1 599.5 609.3 600 608.6 600.5 607.9 601 606.9 601.5 606.7 602 606.2 602.5 606.3 603 606 603.5 605.3 604 604.9 604.5 604.2 605 603.2 605.5 602.8 606 601.7 606.5 601.9 607 601.5 607.5 600.5 608 600.9 608.5 600.5 609 599.9 609.5 600.5 610 600.8 610.5 600.5 611 600.7 611.5 600.9 612 600.8 612.5 600.9 613 600.7 613.5 601.4 614 601.4 614.5 602 615 601.8 615.5 601.7 616 601.4 616.5 601.3 617 601.8 617.5 601.8 618 602.1 618.5 601.9 619 601.8 619.5 602 620 601.5 620.5 601.2 621 600.8 621.5 600.5 622 599.9 622.5 600 623 599.1 623.5 598.8 624 598.5 624.5 597.5 625 597 625.5 596.9 626 596.6 626.5 596.2 627 595.1 627.5 594.9 628 593.7 628.5 593 629 592.5 629.5 591.6 630 590.7 630.5 590.1 631 590.5 631.5 589.2 632 588.7 632.5 587.7 633 587.5 633.5 587.2 634 586.9 634.5 586.7 635 585.8 635.5 585.9 636 585.9 636.5 585.6 637 584.2 637.5 585.1 638 584.5 638.5 584.3 639 584.9 639.5 585 640 584.6 640.5 585 641 585.2 641.5 585.7 642 586.3 642.5 586.4 643 587.6 643.5 588.8 644 588.7 644.5 589.5 645 590.3 645.5 590.9 646 591.7 646.5 592.6 647 593.5 647.5 594.4 648 595.4 648.5 596.5 649 597.6 649.5 598.2 650 598.9 650.5 600.6 651 600.9 651.5 601.9 652 603.2 652.5 603.6 653 604.5 653.5 605.6 654 606.3 654.5 607.4 655 607.9 655.5 608.2 656 609.7 656.5 610.4 657 610.3 657.5 611.4 658 612.2 658.5 613.5 659 613.6 659.5 614.2 660 615 660.5 615.3 661 615.6 661.5 616.3 662 616.6 662.5 617.1 663 617.1 663.5 617.6 664 618.1 664.5 617.9 665 618.1 665.5 619.3 666 618.3 666.5 619.6 667 619.3 667.5 620 668 620.3 668.5 620 669 620.4 669.5 620.6 670 620.8 670.5 621.2 671 621.4 671.5 621.5 672 621.5 672.5 621.8 673 622.2 673.5 621.7 674 622.6 674.5 622.4 675 622.2 675.5 622.5 676 622.5 676.5 621.8 677 622.4 677.5 622.4 678 623.1 678.5 623.2 679 623.6 679.5 623.5 680 623.4 680.5 623.5 681 623.1 681.5 623.3 682 623.5 682.5 623.7 683 623.2 683.5 623.1 684 623.4 684.5 623.5 685 623 685.5 622.7 686 623 686.5 623.3 687 623.4 687.5 623.3 688 623.7 688.5 622.7 689 623 689.5 623.3 690 623.6 690.5 622.7 691 623.9 691.5 623.1 692 623 692.5 622.9 693 623.5 693.5 624 694 623.1 694.5 623.7 695 623.1 695.5 623.4 696 623.5 696.5 623.2 697 622.8 697.5 623.1 698 622.7 698.5 623 699 623.7 699.5 623.3 700 623 700.5 622.9 701 623 701.5 622.5 702 623.1 702.5 623 703 623.1 703.5 623.2 704 622.8 704.5 623.6 705 623 705.5 622.5 706 623.4 706.5 623 707 622.6 707.5 623.3 708 623 708.5 623.2 709 622.6 709.5 622.9 710 623 710.5 622.8 711 623.1 711.5 623.2 712 623.2 712.5 623.3 713 623 713.5 622.8 714 622.8 714.5 622.7 715 622.9 715.5 623.3 716 622.7 716.5 623.4 717 622.8 717.5 622.7 718 622.8 718.5 622.6 719 622.4 719.5 622.5 720 623.1 720.5 623.1 721 622.2 721.5 623 722 622.7 722.5 622.7 723 623 723.5 623 724 623 724.5 622.7 725 622.3 725.5 622.9 726 622.1 726.5 622.8 727 622.3 727.5 622.1 728 622.6 728.5 622.5 729 622.2 729.5 622.6 730 622.2 730.5 622.5 731 622 731.5 622.5 732 622.5 732.5 622 733 622.7 733.5 621.8 734 622.4 734.5 622 735 622 735.5 621.8 736 622.1 736.5 622 737 621.8 737.5 622.2 738 622.2 738.5 621.9 739 622.1 739.5 621.5 740 621.9 740.5 621.9 741 622.6 741.5 621.5 742 621.9 742.5 621.5 743 622 743.5 621.8 744 621.8 744.5 621.7 745 621 745.5 621.3 746 621.4 746.5 621.2 747 621.2 747.5 622.1 748 621 748.5 621.5 749 621.2 749.5 621.1 750 621.5 750.5 621 751 620.6 751.5 621 752 620.7 752.5 621.3 753 621 753.5 620.7 754 620.8 754.5 620.9 755 620.3 755.5 620.5 756 620.4 756.5 620.5 757 620.3 757.5 620.7 758 620 758.5 620.5 759 620 759.5 619.8 760 620" fill="none" stroke="#2a78c8" stroke-width="2.0" stroke-linejoin="round"/>
<path d="M552 625.1 552.5 624.9 553 624.6 553.5 624.8 554 625.4 554.5 625.1 555 624.1 555.5 624.7 556 625 556.5 624.9 557 625.2 557.5 625 558 624.8 558.5 624.9 559 624.7 559.5 625.4 560 625 560.5 624.8 561 624.7 561.5 624.9 562 625.1 562.5 625.1 563 625 563.5 625.4 564 624.8 564.5 625.4 565 625.5 565.5 625.1 566 624.6 566.5 625.1 567 624.6 567.5 624.9 568 624.7 568.5 624.9 569 625.3 569.5 624.8 570 625.5 570.5 624.9 571 624.6 571.5 624.9 572 624.6 572.5 624.9 573 625.5 573.5 625.4 574 624.5 574.5 624.5 575 624.5 575.5 624.8 576 624.7 576.5 624.9 577 624.3 577.5 624.7 578 624.5 578.5 624.4 579 625 579.5 624.5 580 625.2 580.5 624.3 581 624.7 581.5 624.6 582 624.9 582.5 625 583 624.8 583.5 624.2 584 623.9 584.5 623.6 585 623.3 585.5 622.4 586 621.8 586.5 621.7 587 621.3 587.5 621.4 588 621 588.5 620.2 589 619.6 589.5 619.5 590 619.1 590.5 618.4 591 618 591.5 616.8 592 616.3 592.5 616.2 593 614.7 593.5 614.2 594 613.1 594.5 610.8 595 609.4 595.5 607.4 596 605.4 596.5 603.3 597 601.6 597.5 599.3 598 597.2 598.5 594.6 599 593.1 599.5 591.2 600 589.4 600.5 587.2 601 585.5 601.5 584 602 581.5 602.5 579.1 603 577.4 603.5 576.3 604 575.2 604.5 574 605 572.9 605.5 571.6 606 570.9 606.5 570 607 568.7 607.5 569.2 608 568.8 608.5 568.3 609 569 609.5 569.4 610 569.6 610.5 570.3 611 571.3 611.5 571.5 612 572.6 612.5 573.5 613 574.5 613.5 575.8 614 577.1 614.5 578 615 578.6 615.5 580 616 580.5 616.5 581.1 617 582.5 617.5 583.6 618 584.1 618.5 585.3 619 586 619.5 586.5 620 587.5 620.5 587.7 621 588.6 621.5 588.7 622 589.5 622.5 590 623 590.6 623.5 590.6 624 590.9 624.5 591.9 625 591.3 625.5 591.5 626 591.3 626.5 590.5 627 590.4 627.5 590.1 628 589.4 628.5 588.1 629 587.5 629.5 585.8 630 585.1 630.5 584.3 631 583.1 631.5 582.2 632 581.2 632.5 580.8 633 579.4 633.5 578.3 634 577.3 634.5 575.7 635 575.1 635.5 573.3 636 572.6 636.5 572 637 570.4 637.5 569.8 638 569.7 638.5 569.5 639 568.9 639.5 568.3 640 567.4 640.5 567.1 641 566.8 641.5 566.7 642 566.3 642.5 566 643 565.9 643.5 566.3 644 566.4 644.5 566.5 645 567.2 645.5 567.5 646 568.7 646.5 568.6 647 569.4 647.5 570.3 648 570.7 648.5 571.6 649 572.4 649.5 573.3 650 574.3 650.5 576.1 651 577 651.5 577.4 652 579 652.5 581 653 582.1 653.5 583.9 654 585.3 654.5 587.3 655 588.8 655.5 590.1 656 591.2 656.5 592.6 657 594.1 657.5 595.5 658 596.5 658.5 598.4 659 599.6 659.5 601.5 660 603.1 660.5 604.5 661 605.4 661.5 607.2 662 607.6 662.5 609.1 663 609.8 663.5 610.5 664 611.5 664.5 612.2 665 612.3 665.5 613 666 613.6 666.5 614.3 667 614.2 667.5 614.7 668 616.3 668.5 616.3 669 616.5 669.5 616.8 670 617.2 670.5 617.2 671 617.7 671.5 618.1 672 618.2 672.5 618.5 673 618.7 673.5 620 674 619.6 674.5 619.3 675 619.7 675.5 620.1 676 620.1 676.5 620.6 677 621.3 677.5 620.1 678 621.3 678.5 621.2 679 620.9 679.5 621.2 680 620.8 680.5 621.2 681 622.1 681.5 621.4 682 621.1 682.5 621.8 683 622.1 683.5 622.1 684 621.2 684.5 621.4 685 621.6 685.5 621.8 686 621.3 686.5 621.8 687 621.9 687.5 621.4 688 621.6 688.5 621.9 689 621.3 689.5 621.7 690 621.2 690.5 621.3 691 621.2 691.5 621.1 692 621.3 692.5 621.2 693 621.1 693.5 621.1 694 621.1 694.5 620.6 695 620.6 695.5 620.8 696 621 696.5 620.5 697 620.9 697.5 620.5 698 620.6 698.5 620.8 699 620.6 699.5 620.4 700 620.7 700.5 620.5 701 620.2 701.5 619.7 702 620.8 702.5 620.2 703 620.3 703.5 620.4 704 619.8 704.5 620.5 705 620.5 705.5 620 706 620.2 706.5 620.8 707 619.8 707.5 619.8 708 620 708.5 620 709 619.7 709.5 620 710 619.8 710.5 620.3 711 620.3 711.5 620.4 712 620.5 712.5 619.8 713 619.7 713.5 620.3 714 620.1 714.5 620.1 715 619.4 715.5 620.1 716 619.9 716.5 619.5 717 619.8 717.5 619.5 718 619.7 718.5 619.7 719 619.4 719.5 619.6 720 619.4 720.5 619.7 721 619.5 721.5 620.1 722 619.3 722.5 619.3 723 618.9 723.5 618.9 724 619.2 724.5 619.4 725 618.7 725.5 618.9 726 619.6 726.5 619.7 727 619.1 727.5 619.4 728 618.8 728.5 619.7 729 619.1 729.5 619.4 730 619 730.5 618.9 731 618.4 731.5 618.8 732 619.8 732.5 619.1 733 619.1 733.5 618.8 734 618.9 734.5 619.1 735 618.5 735.5 618.5 736 618.8 736.5 618.8 737 618.5 737.5 618.7 738 618.7 738.5 618.5 739 618.5 739.5 618.5 740 618.4 740.5 618.4 741 618.5 741.5 617.9 742 618.2 742.5 618.3 743 618.3 743.5 618.4 744 618 744.5 618.4 745 618.4 745.5 618 746 617.7 746.5 617.9 747 617.9 747.5 618.2 748 617.8 748.5 618 749 617.6 749.5 618.2 750 617.6 750.5 617.6 751 617.9 751.5 617.7 752 617 752.5 617.5 753 617.9 753.5 616.8 754 617.5 754.5 616.9 755 617.1 755.5 616.7 756 617.5 756.5 617.5 757 617.4 757.5 618.1 758 617 758.5 617.1 759 617.3 759.5 616.6 760 617" fill="none" stroke="#1a1aee" stroke-width="2.0" stroke-linejoin="round"/>
<path d="M552 630.4 552.5 631.2 553 631.3 553.5 631.2 554 631 554.5 630.8 555 631.2 555.5 631.8 556 631.3 556.5 631.7 557 631.6 557.5 632.3 558 631.6 558.5 632.3 559 631.7 559.5 631.9 560 632.2 560.5 631.9 561 631.6 561.5 631.8 562 632 562.5 631.9 563 632.1 563.5 632 564 631.9 564.5 632 565 631.5 565.5 631.7 566 631.2 566.5 631.5 567 631.5 567.5 631.2 568 631.7 568.5 632.3 569 632.1 569.5 631.5 570 631.7 570.5 631.2 571 631.6 571.5 631.2 572 631.4 572.5 631 573 631.4 573.5 631.4 574 631.4 574.5 630.8 575 630.6 575.5 631 576 630.6 576.5 630.6 577 630.7 577.5 629.8 578 630.1 578.5 629.7 579 629.5 579.5 629.5 580 629.4 580.5 629.4 581 628.9 581.5 628.8 582 627.8 582.5 626.5 583 626.4 583.5 625.3 584 624.9 584.5 624.1 585 623.1 585.5 622.7 586 621 586.5 620 587 619.3 587.5 618.3 588 617.3 588.5 615.8 589 614.5 589.5 613.1 590 611.3 590.5 609.6 591 607.5 591.5 605.1 592 603.8 592.5 602 593 599.5 593.5 597.5 594 596 594.5 593.8 595 591.6 595.5 589.3 596 586.8 596.5 584.5 597 581.3 597.5 579 598 576.9 598.5 573.9 599 570.8 599.5 568.7 600 566.5 600.5 564.1 601 562.6 601.5 560.5 602 559.3 602.5 557.7 603 556.9 603.5 555 604 553.7 604.5 552.6 605 552 605.5 552 606 551.4 606.5 551.2 607 551.5 607.5 552.3 608 552 608.5 552.3 609 553.9 609.5 554.7 610 555.8 610.5 557 611 557.4 611.5 559.2 612 559.9 612.5 560.7 613 562.5 613.5 563.8 614 565.7 614.5 566.6 615 568.5 615.5 571.3 616 572.2 616.5 574.2 617 576.2 617.5 577.9 618 579.1 618.5 580 619 581.8 619.5 583.3 620 585 620.5 586.3 621 587.2 621.5 588.4 622 590.4 622.5 590.7 623 592.3 623.5 593.2 624 593.4 624.5 594.3 625 594.8 625.5 596.2 626 596.2 626.5 597.2 627 597.5 627.5 598.5 628 598.7 628.5 599.1 629 599.2 629.5 599.8 630 599.2 630.5 599.7 631 599.5 631.5 599.4 632 599.3 632.5 598.6 633 599.4 633.5 599.2 634 599.4 634.5 598.9 635 598.5 635.5 598.9 636 598.2 636.5 598.2 637 598.4 637.5 597.7 638 598.4 638.5 597.9 639 597.5 639.5 597.1 640 597.6 640.5 597.1 641 597.7 641.5 596.7 642 596.7 642.5 596.5 643 596.4 643.5 596.8 644 596.9 644.5 597.9 645 597.4 645.5 598 646 598.3 646.5 598.4 647 599.1 647.5 600.3 648 600.5 648.5 601.1 649 601 649.5 602.3 650 602.3 650.5 602.5 651 603.2 651.5 604 652 604.7 652.5 605.3 653 606.3 653.5 606.8 654 606.9 654.5 608.2 655 607.9 655.5 609.4 656 610 656.5 610.4 657 611.6 657.5 611.9 658 612.5 658.5 612.8 659 613.7 659.5 613.8 660 614.1 660.5 614.9 661 615.7 661.5 615.8 662 617 662.5 616.8 663 617.7 663.5 618 664 618.6 664.5 618.5 665 619.3 665.5 619.8 666 619.5 666.5 619.9 667 619.9 667.5 620.6 668 620.7 668.5 621.6 669 621 669.5 621.4 670 621.4 670.5 621.8 671 622.7 671.5 622.5 672 622.8 672.5 623.6 673 623.6 673.5 623.7 674 623.9 674.5 624 675 624.8 675.5 624.6 676 624.6 676.5 624.8 677 625 677.5 624.8 678 624.7 678.5 624.5 679 624.9 679.5 624.5 680 625.2 680.5 624.7 681 624.7 681.5 624.7 682 624.2 682.5 624.2 683 625 683.5 624.8 684 624.8 684.5 624.2 685 624.7 685.5 624.4 686 624.9 686.5 624.5 687 624.4 687.5 624.4 688 624.7 688.5 624.7 689 624 689.5 624.3 690 624.1 690.5 624.1 691 624.6 691.5 624.3 692 623.5 692.5 624.4 693 624.5 693.5 625.1 694 624.2 694.5 624.3 695 625.1 695.5 624.4 696 624.1 696.5 624.4 697 624.1 697.5 624 698 623.7 698.5 624.7 699 624.2 699.5 624 700 623.6 700.5 623.8 701 623 701.5 624.5 702 623.6 702.5 624 703 624 703.5 624.1 704 623.8 704.5 623.6 705 624.2 705.5 624.3 706 623.5 706.5 623.9 707 623.9 707.5 623.5 708 623.8 708.5 623.8 709 623.4 709.5 623.6 710 623.5 710.5 623.5 711 623.7 711.5 623.7 712 624 712.5 622.8 713 623.1 713.5 623.3 714 623.4 714.5 623.6 715 622.7 715.5 623.3 716 622.6 716.5 623.7 717 623.3 717.5 623 718 622.9 718.5 622.9 719 623.1 719.5 623.1 720 622.8 720.5 622.9 721 623.4 721.5 623.3 722 622.8 722.5 622.6 723 622.7 723.5 623.4 724 623.3 724.5 622.5 725 622.8 725.5 623 726 622.7 726.5 622.7 727 622.2 727.5 622.7 728 622.9 728.5 622.5 729 622.2 729.5 622.7 730 622.8 730.5 622.3 731 622 731.5 622.5 732 622.1 732.5 622.6 733 622.5 733.5 622.2 734 622.3 734.5 621.9 735 622.1 735.5 621.7 736 622.5 736.5 621.8 737 621.9 737.5 621.7 738 622.1 738.5 622.4 739 622.1 739.5 621.9 740 622 740.5 622.5 741 621.7 741.5 621.8 742 621.8 742.5 622 743 621.7 743.5 621.7 744 621.8 744.5 622 745 622 745.5 621.4 746 621.4 746.5 621.4 747 621.7 747.5 621.5 748 621.7 748.5 621.7 749 621 749.5 621.6 750 621.3 750.5 621.5 751 621.3 751.5 621.2 752 621.4 752.5 621.6 753 621.1 753.5 621.3 754 621.5 754.5 621 755 621.3 755.5 621.3 756 620.7 756.5 620.7 757 620.8 757.5 620.8 758 621.3 758.5 620.6 759 621.3 759.5 620.5 760 620.4" fill="none" stroke="#111111" stroke-width="2.0" stroke-linejoin="round"/>
<path d="M813.8 393.4 H1021.3 V683.5 H813.8 Z" fill="none" stroke="#000" stroke-width="1.7"/>
<path d="M860 683.5 v-6" stroke="#000" stroke-width="1.8"/>
<path d="M905.3 683.5 v-6" stroke="#000" stroke-width="1.8"/>
<path d="M952.4 683.5 v-6" stroke="#000" stroke-width="1.8"/>
<path d="M998.6 683.5 v-6" stroke="#000" stroke-width="1.8"/>
<text x="813.3" y="697.8" font-size="14.4" fill="#111" font-weight="normal" text-anchor="middle" >50</text>
<text x="904.5" y="697.8" font-size="14.4" fill="#111" font-weight="normal" text-anchor="middle" >54</text>
<text x="998" y="697.8" font-size="14.4" fill="#111" font-weight="normal" text-anchor="middle" >58</text>
<text x="918.7" y="718.6" font-size="22" fill="#111" font-weight="normal" text-anchor="middle" textLength="203" lengthAdjust="spacingAndGlyphs">Binding energy (eV)</text>
<text transform="translate(806 536.5) rotate(-90)" font-size="22" fill="#111" text-anchor="middle" textLength="139" lengthAdjust="spacingAndGlyphs">Intensity (a.u.)</text>
<path d="M927.5 522 V686" stroke="#16a94c" stroke-width="1" stroke-dasharray="2 1.5"/>
<text x="904.8" y="512.7" font-size="18.5" font-weight="bold" fill="#16a94c">Li 1<tspan font-style="italic">s</tspan></text>
<path d="M814 565.7 816.2 564.8 818.4 565.2 820.6 565.4 822.8 563.9 825 564.7 827.2 566.1 829.4 564.4 831.6 567.1 833.8 564.9 836 564.6 838.2 568.2 840.4 566.6 842.6 569.5 844.8 570.7 847 571.5 849.2 570.6 851.4 570 853.6 572.9 855.8 573 858 573 860.2 575.9 862.4 574.9 864.6 575.7 866.8 574.5 869 574.8 871.2 573.7 873.4 571.7 875.6 572.8 877.8 571.9 880 572.5 882.2 569.8 884.4 568.2 886.6 567.1 888.8 564.9 891 564.5 893.2 562.9 895.4 564.2 897.6 562.4 899.8 561.4 902 561.8 904.2 564.3 906.4 563.3 908.6 560.8 910.8 561.6 913 561 915.2 562.9 917.4 560.4 919.6 559.8 921.8 559.7 924 557.4 926.2 558.6 928.4 558.1 930.6 557.9 932.8 556.6 935 558.6 937.2 558.7 939.4 558 941.6 559 943.8 559.5 946 559.6 948.2 558.9 950.4 557 952.6 557 954.8 558.8 957 557.7 959.2 559.1 961.4 557.2 963.6 558.3 965.8 559.3 968 558 970.2 556.2 972.4 557.2 974.6 559 976.8 558.3 979 556.6 981.2 559.3 983.4 558.2 985.6 560.5 987.8 560.3 990 560.8 992.2 559.6 994.4 559.4 996.6 558.2 998.8 558.3 1001 559.9 1003.2 559.1 1005.4 559.4 1007.6 559.8 1009.8 557.2 1012 558.8 1014.2 560 1016.4 560.1 1018.6 559.6 1020.8 561.2" fill="none" stroke="#2a78c8" stroke-width="2.0" stroke-linejoin="round"/>
<path d="M814 562.7 816.2 564.9 818.4 566.4 820.6 567.8 822.8 568 825 567 827.2 566.3 829.4 566.1 831.6 564.6 833.8 565 836 565.4 838.2 565.2 840.4 565.6 842.6 566.6 844.8 564.4 847 565.8 849.2 565.7 851.4 567.9 853.6 566.5 855.8 566.3 858 565.5 860.2 564.9 862.4 565.4 864.6 563 866.8 566 869 563.1 871.2 564 873.4 565.5 875.6 563.4 877.8 564.6 880 564.4 882.2 562.6 884.4 564.4 886.6 561.2 888.8 562.7 891 561.2 893.2 560.9 895.4 560.7 897.6 559.2 899.8 561.3 902 559.8 904.2 560.2 906.4 558.9 908.6 557.8 910.8 557.4 913 558.2 915.2 555.7 917.4 555.8 919.6 555.1 921.8 556.7 924 554.4 926.2 554.9 928.4 554 930.6 552.8 932.8 552.7 935 552.8 937.2 553.3 939.4 553.5 941.6 551.7 943.8 553.7 946 555.9 948.2 556.9 950.4 555.9 952.6 556.8 954.8 556.9 957 554.9 959.2 555.2 961.4 555.9 963.6 555.2 965.8 555.6 968 554.2 970.2 552.3 972.4 552.7 974.6 552.1 976.8 555.6 979 554 981.2 553 983.4 552.7 985.6 554.8 987.8 553.9 990 552.7 992.2 554 994.4 555.5 996.6 555.6 998.8 555.6 1001 554.8 1003.2 555.6 1005.4 556.8 1007.6 556.1 1009.8 556.6 1012 554.5 1014.2 555 1016.4 554.4 1018.6 554.8 1020.8 555.4" fill="none" stroke="#1a1aee" stroke-width="2.0" stroke-linejoin="round"/>
<path d="M814 531.9 816.2 533.9 818.4 533.3 820.6 536.4 822.8 536.6 825 537.7 827.2 537.8 829.4 538.7 831.6 539 833.8 539.5 836 544 838.2 546.4 840.4 547 842.6 543 844.8 542.7 847 544.1 849.2 548 851.4 551.7 853.6 553.7 855.8 557.1 858 556.5 860.2 556.3 862.4 557.4 864.6 556.6 866.8 557.7 869 558.8 871.2 560.6 873.4 560.3 875.6 560.8 877.8 559.6 880 559.2 882.2 558.7 884.4 558.3 886.6 559.1 888.8 559.1 891 559.3 893.2 559.9 895.4 563.1 897.6 560.3 899.8 562.9 902 561.3 904.2 561.9 906.4 562 908.6 558.1 910.8 559.9 913 561.4 915.2 561.6 917.4 558.8 919.6 559.5 921.8 561.1 924 559.4 926.2 559.7 928.4 559.2 930.6 559.8 932.8 559.1 935 558.5 937.2 557.6 939.4 556.5 941.6 557.9 943.8 555.4 946 554.5 948.2 554.9 950.4 557.8 952.6 555.7 954.8 558.3 957 556.2 959.2 558.2 961.4 558 963.6 557.3 965.8 557.9 968 559.6 970.2 558.7 972.4 559.4 974.6 558.5 976.8 558.8 979 558.4 981.2 557.1 983.4 558.1 985.6 559.2 987.8 558 990 558.2 992.2 558.5 994.4 559.7 996.6 557.2 998.8 560.1 1001 557.8 1003.2 558.4 1005.4 559.5 1007.6 557.9 1009.8 559.9 1012 559.2 1014.2 559.7 1016.4 558.4 1018.6 558.1 1020.8 559.1" fill="none" stroke="#22b0ee" stroke-width="2.0" stroke-linejoin="round"/>
<path d="M814 534.9 816.2 536.4 818.4 539.6 820.6 539.6 822.8 540.5 825 543.2 827.2 547.2 829.4 546.9 831.6 547 833.8 551 836 554.6 838.2 558.1 840.4 559.9 842.6 560.5 844.8 563.6 847 568.5 849.2 568.4 851.4 570.2 853.6 569.1 855.8 570.2 858 570.9 860.2 572.3 862.4 572.4 864.6 572.7 866.8 573.6 869 571.9 871.2 572.8 873.4 569.6 875.6 568.5 877.8 567.7 880 569 882.2 568.8 884.4 568.1 886.6 568.6 888.8 565.8 891 568.2 893.2 567.8 895.4 565.7 897.6 566.7 899.8 568.7 902 567.3 904.2 569.8 906.4 567.2 908.6 569.7 910.8 565.2 913 562.9 915.2 563.3 917.4 562.6 919.6 559.8 921.8 559.9 924 563 926.2 563.7 928.4 566.1 930.6 565.2 932.8 565.6 935 565 937.2 562.7 939.4 565 941.6 565.4 943.8 566.3 946 567.2 948.2 567.3 950.4 563.1 952.6 564.1 954.8 561.4 957 561.5 959.2 562.3 961.4 565.3 963.6 566.1 965.8 566.9 968 566.3 970.2 568.7 972.4 568.7 974.6 568.3 976.8 567.3 979 569.6 981.2 568.8 983.4 569.8 985.6 566.2 987.8 566.7 990 563.3 992.2 561 994.4 561.5 996.6 563.4 998.8 562.6 1001 564.6 1003.2 565 1005.4 568 1007.6 567.7 1009.8 569.1 1012 570.1 1014.2 570.2 1016.4 570.2 1018.6 571 1020.8 564.4" fill="none" stroke="#ee1c24" stroke-width="2.0" stroke-linejoin="round"/>
<path d="M814 556.6 816.2 559.9 818.4 560 820.6 558.7 822.8 560.9 825 561.5 827.2 556.8 829.4 557.4 831.6 554.9 833.8 556.8 836 558.7 838.2 561.2 840.4 562.8 842.6 561.2 844.8 562.8 847 562.5 849.2 562.3 851.4 566 853.6 564.3 855.8 564.9 858 565.2 860.2 566.9 862.4 565.7 864.6 566.8 866.8 565.9 869 565.2 871.2 564.5 873.4 564.4 875.6 561.5 877.8 560.1 880 561.1 882.2 562.1 884.4 563.2 886.6 562 888.8 561.3 891 562.5 893.2 561.2 895.4 559.2 897.6 553.5 899.8 552.7 902 553.2 904.2 555.8 906.4 554 908.6 556.3 910.8 552.6 913 549.7 915.2 545.8 917.4 541.5 919.6 539.4 921.8 539.2 924 537.2 926.2 538.7 928.4 539.9 930.6 539.2 932.8 539.9 935 535.6 937.2 535.2 939.4 535.6 941.6 540.8 943.8 541.8 946 541.6 948.2 543.2 950.4 543 952.6 538.7 954.8 538.3 957 542.1 959.2 542.2 961.4 546.8 963.6 546.5 965.8 545.4 968 543.9 970.2 542.7 972.4 545.7 974.6 545.8 976.8 545.6 979 544.5 981.2 543.4 983.4 544 985.6 542.6 987.8 543.1 990 546.1 992.2 547.2 994.4 550.4 996.6 543.9 998.8 546.4 1001 544.8 1003.2 547.3 1005.4 548.6 1007.6 545.4 1009.8 548.7 1012 547.5 1014.2 548.3 1016.4 548.5 1018.6 546.4 1020.8 546.5" fill="none" stroke="#111111" stroke-width="2.0" stroke-linejoin="round"/>
</svg>
</body></html>
